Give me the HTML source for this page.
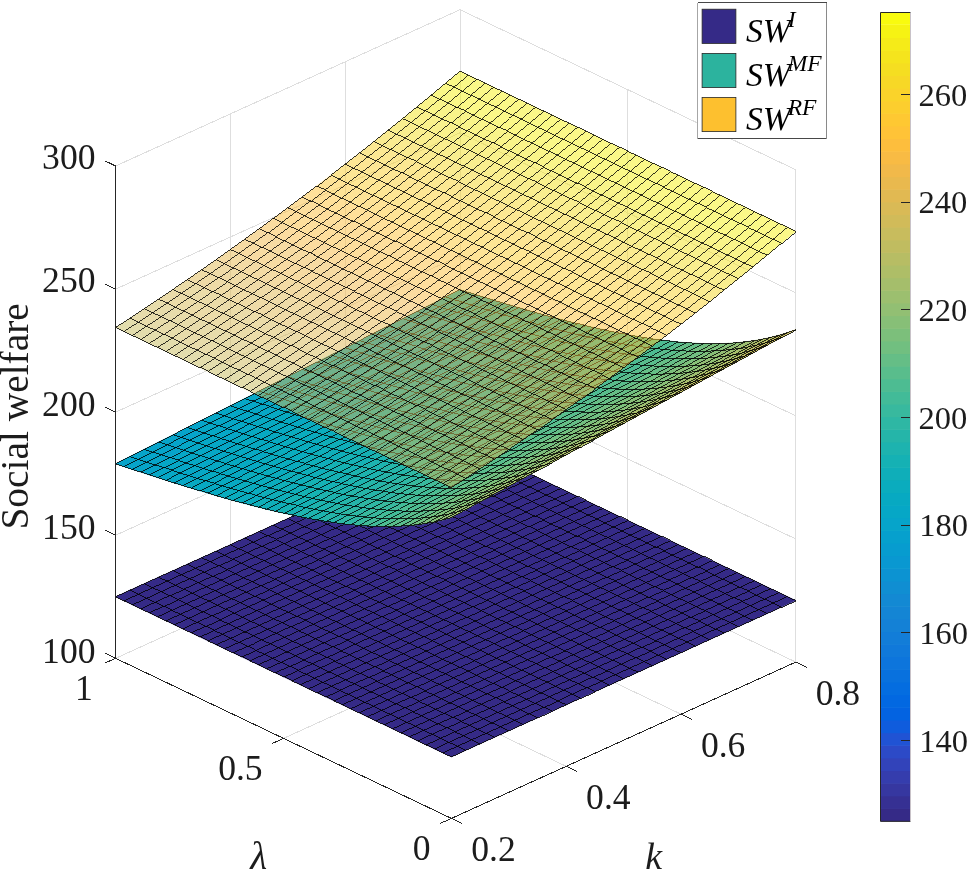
<!DOCTYPE html>
<html><head><meta charset="utf-8"><title>Social welfare surface plot</title><style>html,body{margin:0;padding:0;background:#fff;width:968px;height:870px;overflow:hidden}svg{display:block}</style></head><body>
<svg width="968" height="870" viewBox="0 0 968 870">
<rect width="968" height="870" fill="#fff"/>
<line x1="283.5" y1="738.4" x2="627.9" y2="582.0" stroke="#dedede" stroke-width="1.00" shape-rendering="crispEdges"/>
<line x1="115.6" y1="658.3" x2="460.0" y2="502.0" stroke="#dedede" stroke-width="1.00" shape-rendering="crispEdges"/>
<line x1="566.2" y1="766.3" x2="230.4" y2="606.2" stroke="#dedede" stroke-width="1.00" shape-rendering="crispEdges"/>
<line x1="681.0" y1="714.2" x2="345.2" y2="554.1" stroke="#dedede" stroke-width="1.00" shape-rendering="crispEdges"/>
<line x1="795.8" y1="662.1" x2="460.0" y2="502.0" stroke="#dedede" stroke-width="1.00" shape-rendering="crispEdges"/>
<line x1="230.4" y1="606.2" x2="230.4" y2="113.9" stroke="#dedede" stroke-width="1.00" shape-rendering="crispEdges"/>
<line x1="345.2" y1="554.1" x2="345.2" y2="61.8" stroke="#dedede" stroke-width="1.00" shape-rendering="crispEdges"/>
<line x1="460.0" y1="502.0" x2="460.0" y2="9.7" stroke="#dedede" stroke-width="1.00" shape-rendering="crispEdges"/>
<line x1="115.6" y1="535.2" x2="460.0" y2="378.9" stroke="#dedede" stroke-width="1.00" shape-rendering="crispEdges"/>
<line x1="115.6" y1="412.1" x2="460.0" y2="255.8" stroke="#dedede" stroke-width="1.00" shape-rendering="crispEdges"/>
<line x1="115.6" y1="289.1" x2="460.0" y2="132.8" stroke="#dedede" stroke-width="1.00" shape-rendering="crispEdges"/>
<line x1="115.6" y1="166.0" x2="460.0" y2="9.7" stroke="#dedede" stroke-width="1.00" shape-rendering="crispEdges"/>
<line x1="795.8" y1="662.1" x2="795.8" y2="169.8" stroke="#dedede" stroke-width="1.00" shape-rendering="crispEdges"/>
<line x1="627.9" y1="582.0" x2="627.9" y2="89.7" stroke="#dedede" stroke-width="1.00" shape-rendering="crispEdges"/>
<line x1="795.8" y1="539.0" x2="460.0" y2="378.9" stroke="#dedede" stroke-width="1.00" shape-rendering="crispEdges"/>
<line x1="795.8" y1="415.9" x2="460.0" y2="255.8" stroke="#dedede" stroke-width="1.00" shape-rendering="crispEdges"/>
<line x1="795.8" y1="292.9" x2="460.0" y2="132.8" stroke="#dedede" stroke-width="1.00" shape-rendering="crispEdges"/>
<line x1="795.8" y1="169.8" x2="460.0" y2="9.7" stroke="#dedede" stroke-width="1.00" shape-rendering="crispEdges"/>
<g>
<path fill="#352a87" stroke="#352a87" stroke-width="0.6" d="M451.4 756.9L443.0 752.9L457.4 746.3L465.8 750.3ZM465.8 750.3L457.4 746.3L471.7 739.8L480.1 743.8ZM480.1 743.8L471.7 739.8L486.1 733.3L494.4 737.3ZM494.4 737.3L486.1 733.3L500.4 726.8L508.8 730.8ZM508.8 730.8L500.4 726.8L514.8 720.3L523.1 724.3ZM523.1 724.3L514.8 720.3L529.1 713.8L537.5 717.8ZM537.5 717.8L529.1 713.8L543.5 707.3L551.9 711.3ZM551.9 711.3L543.5 707.3L557.8 700.8L566.2 704.8ZM566.2 704.8L557.8 700.8L572.2 694.2L580.5 698.2ZM580.5 698.2L572.2 694.2L586.5 687.7L594.9 691.7ZM594.9 691.7L586.5 687.7L600.9 681.2L609.2 685.2ZM609.2 685.2L600.9 681.2L615.2 674.7L623.6 678.7ZM623.6 678.7L615.2 674.7L629.6 668.2L638.0 672.2ZM638.0 672.2L629.6 668.2L643.9 661.7L652.3 665.7ZM652.3 665.7L643.9 661.7L658.3 655.2L666.6 659.2ZM666.6 659.2L658.3 655.2L672.6 648.7L681.0 652.7ZM681.0 652.7L672.6 648.7L687.0 642.1L695.4 646.1ZM695.4 646.1L687.0 642.1L701.3 635.6L709.7 639.6ZM709.7 639.6L701.3 635.6L715.7 629.1L724.0 633.1ZM724.0 633.1L715.7 629.1L730.0 622.6L738.4 626.6ZM738.4 626.6L730.0 622.6L744.4 616.1L752.8 620.1ZM752.8 620.1L744.4 616.1L758.7 609.6L767.1 613.6ZM767.1 613.6L758.7 609.6L773.1 603.1L781.5 607.1ZM781.5 607.1L773.1 603.1L787.4 596.6L795.8 600.6ZM443.0 752.9L434.6 748.9L449.0 742.3L457.4 746.3ZM457.4 746.3L449.0 742.3L463.3 735.8L471.7 739.8ZM471.7 739.8L463.3 735.8L477.7 729.3L486.1 733.3ZM486.1 733.3L477.7 729.3L492.0 722.8L500.4 726.8ZM500.4 726.8L492.0 722.8L506.4 716.3L514.8 720.3ZM514.8 720.3L506.4 716.3L520.7 709.8L529.1 713.8ZM529.1 713.8L520.7 709.8L535.1 703.3L543.5 707.3ZM543.5 707.3L535.1 703.3L549.4 696.8L557.8 700.8ZM557.8 700.8L549.4 696.8L563.8 690.2L572.2 694.2ZM572.2 694.2L563.8 690.2L578.1 683.7L586.5 687.7ZM586.5 687.7L578.1 683.7L592.5 677.2L600.9 681.2ZM600.9 681.2L592.5 677.2L606.8 670.7L615.2 674.7ZM615.2 674.7L606.8 670.7L621.2 664.2L629.6 668.2ZM629.6 668.2L621.2 664.2L635.5 657.7L643.9 661.7ZM643.9 661.7L635.5 657.7L649.9 651.2L658.3 655.2ZM658.3 655.2L649.9 651.2L664.2 644.7L672.6 648.7ZM672.6 648.7L664.2 644.7L678.6 638.1L687.0 642.1ZM687.0 642.1L678.6 638.1L692.9 631.6L701.3 635.6ZM701.3 635.6L692.9 631.6L707.3 625.1L715.7 629.1ZM715.7 629.1L707.3 625.1L721.6 618.6L730.0 622.6ZM730.0 622.6L721.6 618.6L736.0 612.1L744.4 616.1ZM744.4 616.1L736.0 612.1L750.3 605.6L758.7 609.6ZM758.7 609.6L750.3 605.6L764.7 599.1L773.1 603.1ZM773.1 603.1L764.7 599.1L779.0 592.6L787.4 596.6ZM434.6 748.9L426.2 744.9L440.6 738.3L449.0 742.3ZM449.0 742.3L440.6 738.3L454.9 731.8L463.3 735.8ZM463.3 735.8L454.9 731.8L469.3 725.3L477.7 729.3ZM477.7 729.3L469.3 725.3L483.6 718.8L492.0 722.8ZM492.0 722.8L483.6 718.8L498.0 712.3L506.4 716.3ZM506.4 716.3L498.0 712.3L512.3 705.8L520.7 709.8ZM520.7 709.8L512.3 705.8L526.7 699.3L535.1 703.3ZM535.1 703.3L526.7 699.3L541.0 692.8L549.4 696.8ZM549.4 696.8L541.0 692.8L555.4 686.2L563.8 690.2ZM563.8 690.2L555.4 686.2L569.7 679.7L578.1 683.7ZM578.1 683.7L569.7 679.7L584.1 673.2L592.5 677.2ZM592.5 677.2L584.1 673.2L598.4 666.7L606.8 670.7ZM606.8 670.7L598.4 666.7L612.8 660.2L621.2 664.2ZM621.2 664.2L612.8 660.2L627.1 653.7L635.5 657.7ZM635.5 657.7L627.1 653.7L641.5 647.2L649.9 651.2ZM649.9 651.2L641.5 647.2L655.8 640.7L664.2 644.7ZM664.2 644.7L655.8 640.7L670.2 634.1L678.6 638.1ZM678.6 638.1L670.2 634.1L684.5 627.6L692.9 631.6ZM692.9 631.6L684.5 627.6L698.9 621.1L707.3 625.1ZM707.3 625.1L698.9 621.1L713.2 614.6L721.6 618.6ZM721.6 618.6L713.2 614.6L727.6 608.1L736.0 612.1ZM736.0 612.1L727.6 608.1L741.9 601.6L750.3 605.6ZM750.3 605.6L741.9 601.6L756.3 595.1L764.7 599.1ZM764.7 599.1L756.3 595.1L770.6 588.6L779.0 592.6ZM426.2 744.9L417.8 740.9L432.2 734.3L440.6 738.3ZM440.6 738.3L432.2 734.3L446.5 727.8L454.9 731.8ZM454.9 731.8L446.5 727.8L460.9 721.3L469.3 725.3ZM469.3 725.3L460.9 721.3L475.2 714.8L483.6 718.8ZM483.6 718.8L475.2 714.8L489.6 708.3L498.0 712.3ZM498.0 712.3L489.6 708.3L503.9 701.8L512.3 705.8ZM512.3 705.8L503.9 701.8L518.3 695.3L526.7 699.3ZM526.7 699.3L518.3 695.3L532.6 688.8L541.0 692.8ZM541.0 692.8L532.6 688.8L547.0 682.2L555.4 686.2ZM555.4 686.2L547.0 682.2L561.3 675.7L569.7 679.7ZM569.7 679.7L561.3 675.7L575.7 669.2L584.1 673.2ZM584.1 673.2L575.7 669.2L590.0 662.7L598.4 666.7ZM598.4 666.7L590.0 662.7L604.4 656.2L612.8 660.2ZM612.8 660.2L604.4 656.2L618.7 649.7L627.1 653.7ZM627.1 653.7L618.7 649.7L633.1 643.2L641.5 647.2ZM641.5 647.2L633.1 643.2L647.4 636.7L655.8 640.7ZM655.8 640.7L647.4 636.7L661.8 630.1L670.2 634.1ZM670.2 634.1L661.8 630.1L676.1 623.6L684.5 627.6ZM684.5 627.6L676.1 623.6L690.5 617.1L698.9 621.1ZM698.9 621.1L690.5 617.1L704.8 610.6L713.2 614.6ZM713.2 614.6L704.8 610.6L719.2 604.1L727.6 608.1ZM727.6 608.1L719.2 604.1L733.5 597.6L741.9 601.6ZM741.9 601.6L733.5 597.6L747.9 591.1L756.3 595.1ZM756.3 595.1L747.9 591.1L762.2 584.6L770.6 588.6ZM417.8 740.9L409.4 736.8L423.8 730.3L432.2 734.3ZM432.2 734.3L423.8 730.3L438.1 723.8L446.5 727.8ZM446.5 727.8L438.1 723.8L452.5 717.3L460.9 721.3ZM460.9 721.3L452.5 717.3L466.8 710.8L475.2 714.8ZM475.2 714.8L466.8 710.8L481.2 704.3L489.6 708.3ZM489.6 708.3L481.2 704.3L495.5 697.8L503.9 701.8ZM503.9 701.8L495.5 697.8L509.9 691.3L518.3 695.3ZM518.3 695.3L509.9 691.3L524.2 684.7L532.6 688.8ZM532.6 688.8L524.2 684.7L538.6 678.2L547.0 682.2ZM547.0 682.2L538.6 678.2L552.9 671.7L561.3 675.7ZM561.3 675.7L552.9 671.7L567.3 665.2L575.7 669.2ZM575.7 669.2L567.3 665.2L581.6 658.7L590.0 662.7ZM590.0 662.7L581.6 658.7L596.0 652.2L604.4 656.2ZM604.4 656.2L596.0 652.2L610.3 645.7L618.7 649.7ZM618.7 649.7L610.3 645.7L624.7 639.2L633.1 643.2ZM633.1 643.2L624.7 639.2L639.0 632.6L647.4 636.7ZM647.4 636.7L639.0 632.6L653.4 626.1L661.8 630.1ZM661.8 630.1L653.4 626.1L667.7 619.6L676.1 623.6ZM676.1 623.6L667.7 619.6L682.1 613.1L690.5 617.1ZM690.5 617.1L682.1 613.1L696.4 606.6L704.8 610.6ZM704.8 610.6L696.4 606.6L710.8 600.1L719.2 604.1ZM719.2 604.1L710.8 600.1L725.1 593.6L733.5 597.6ZM733.5 597.6L725.1 593.6L739.5 587.1L747.9 591.1ZM747.9 591.1L739.5 587.1L753.8 580.5L762.2 584.6ZM409.4 736.8L401.0 732.8L415.4 726.3L423.8 730.3ZM423.8 730.3L415.4 726.3L429.7 719.8L438.1 723.8ZM438.1 723.8L429.7 719.8L444.1 713.3L452.5 717.3ZM452.5 717.3L444.1 713.3L458.4 706.8L466.8 710.8ZM466.8 710.8L458.4 706.8L472.8 700.3L481.2 704.3ZM481.2 704.3L472.8 700.3L487.1 693.8L495.5 697.8ZM495.5 697.8L487.1 693.8L501.5 687.3L509.9 691.3ZM509.9 691.3L501.5 687.3L515.8 680.7L524.2 684.7ZM524.2 684.7L515.8 680.7L530.2 674.2L538.6 678.2ZM538.6 678.2L530.2 674.2L544.5 667.7L552.9 671.7ZM552.9 671.7L544.5 667.7L558.9 661.2L567.3 665.2ZM567.3 665.2L558.9 661.2L573.2 654.7L581.6 658.7ZM581.6 658.7L573.2 654.7L587.6 648.2L596.0 652.2ZM596.0 652.2L587.6 648.2L601.9 641.7L610.3 645.7ZM610.3 645.7L601.9 641.7L616.3 635.2L624.7 639.2ZM624.7 639.2L616.3 635.2L630.6 628.6L639.0 632.6ZM639.0 632.6L630.6 628.6L645.0 622.1L653.4 626.1ZM653.4 626.1L645.0 622.1L659.3 615.6L667.7 619.6ZM667.7 619.6L659.3 615.6L673.7 609.1L682.1 613.1ZM682.1 613.1L673.7 609.1L688.0 602.6L696.4 606.6ZM696.4 606.6L688.0 602.6L702.4 596.1L710.8 600.1ZM710.8 600.1L702.4 596.1L716.7 589.6L725.1 593.6ZM725.1 593.6L716.7 589.6L731.1 583.1L739.5 587.1ZM739.5 587.1L731.1 583.1L745.4 576.5L753.8 580.5ZM401.0 732.8L392.6 728.8L407.0 722.3L415.4 726.3ZM415.4 726.3L407.0 722.3L421.3 715.8L429.7 719.8ZM429.7 719.8L421.3 715.8L435.7 709.3L444.1 713.3ZM444.1 713.3L435.7 709.3L450.0 702.8L458.4 706.8ZM458.4 706.8L450.0 702.8L464.4 696.3L472.8 700.3ZM472.8 700.3L464.4 696.3L478.7 689.8L487.1 693.8ZM487.1 693.8L478.7 689.8L493.1 683.3L501.5 687.3ZM501.5 687.3L493.1 683.3L507.4 676.7L515.8 680.7ZM515.8 680.7L507.4 676.7L521.8 670.2L530.2 674.2ZM530.2 674.2L521.8 670.2L536.1 663.7L544.5 667.7ZM544.5 667.7L536.1 663.7L550.5 657.2L558.9 661.2ZM558.9 661.2L550.5 657.2L564.8 650.7L573.2 654.7ZM573.2 654.7L564.8 650.7L579.2 644.2L587.6 648.2ZM587.6 648.2L579.2 644.2L593.5 637.7L601.9 641.7ZM601.9 641.7L593.5 637.7L607.9 631.2L616.3 635.2ZM616.3 635.2L607.9 631.2L622.2 624.6L630.6 628.6ZM630.6 628.6L622.2 624.6L636.6 618.1L645.0 622.1ZM645.0 622.1L636.6 618.1L650.9 611.6L659.3 615.6ZM659.3 615.6L650.9 611.6L665.3 605.1L673.7 609.1ZM673.7 609.1L665.3 605.1L679.6 598.6L688.0 602.6ZM688.0 602.6L679.6 598.6L694.0 592.1L702.4 596.1ZM702.4 596.1L694.0 592.1L708.3 585.6L716.7 589.6ZM716.7 589.6L708.3 585.6L722.7 579.1L731.1 583.1ZM731.1 583.1L722.7 579.1L737.0 572.5L745.4 576.5ZM392.6 728.8L384.2 724.8L398.6 718.3L407.0 722.3ZM407.0 722.3L398.6 718.3L412.9 711.8L421.3 715.8ZM421.3 715.8L412.9 711.8L427.3 705.3L435.7 709.3ZM435.7 709.3L427.3 705.3L441.6 698.8L450.0 702.8ZM450.0 702.8L441.6 698.8L456.0 692.3L464.4 696.3ZM464.4 696.3L456.0 692.3L470.3 685.8L478.7 689.8ZM478.7 689.8L470.3 685.8L484.7 679.3L493.1 683.3ZM493.1 683.3L484.7 679.3L499.0 672.7L507.4 676.7ZM507.4 676.7L499.0 672.7L513.4 666.2L521.8 670.2ZM521.8 670.2L513.4 666.2L527.7 659.7L536.1 663.7ZM536.1 663.7L527.7 659.7L542.1 653.2L550.5 657.2ZM550.5 657.2L542.1 653.2L556.4 646.7L564.8 650.7ZM564.8 650.7L556.4 646.7L570.8 640.2L579.2 644.2ZM579.2 644.2L570.8 640.2L585.1 633.7L593.5 637.7ZM593.5 637.7L585.1 633.7L599.5 627.2L607.9 631.2ZM607.9 631.2L599.5 627.2L613.8 620.6L622.2 624.6ZM622.2 624.6L613.8 620.6L628.2 614.1L636.6 618.1ZM636.6 618.1L628.2 614.1L642.5 607.6L650.9 611.6ZM650.9 611.6L642.5 607.6L656.9 601.1L665.3 605.1ZM665.3 605.1L656.9 601.1L671.2 594.6L679.6 598.6ZM679.6 598.6L671.2 594.6L685.6 588.1L694.0 592.1ZM694.0 592.1L685.6 588.1L699.9 581.6L708.3 585.6ZM708.3 585.6L699.9 581.6L714.3 575.1L722.7 579.1ZM722.7 579.1L714.3 575.1L728.6 568.5L737.0 572.5ZM384.2 724.8L375.8 720.8L390.2 714.3L398.6 718.3ZM398.6 718.3L390.2 714.3L404.5 707.8L412.9 711.8ZM412.9 711.8L404.5 707.8L418.9 701.3L427.3 705.3ZM427.3 705.3L418.9 701.3L433.2 694.8L441.6 698.8ZM441.6 698.8L433.2 694.8L447.6 688.3L456.0 692.3ZM456.0 692.3L447.6 688.3L461.9 681.8L470.3 685.8ZM470.3 685.8L461.9 681.8L476.3 675.3L484.7 679.3ZM484.7 679.3L476.3 675.3L490.6 668.7L499.0 672.7ZM499.0 672.7L490.6 668.7L505.0 662.2L513.4 666.2ZM513.4 666.2L505.0 662.2L519.3 655.7L527.7 659.7ZM527.7 659.7L519.3 655.7L533.7 649.2L542.1 653.2ZM542.1 653.2L533.7 649.2L548.0 642.7L556.4 646.7ZM556.4 646.7L548.0 642.7L562.4 636.2L570.8 640.2ZM570.8 640.2L562.4 636.2L576.7 629.7L585.1 633.7ZM585.1 633.7L576.7 629.7L591.1 623.2L599.5 627.2ZM599.5 627.2L591.1 623.2L605.4 616.6L613.8 620.6ZM613.8 620.6L605.4 616.6L619.8 610.1L628.2 614.1ZM628.2 614.1L619.8 610.1L634.1 603.6L642.5 607.6ZM642.5 607.6L634.1 603.6L648.5 597.1L656.9 601.1ZM656.9 601.1L648.5 597.1L662.8 590.6L671.2 594.6ZM671.2 594.6L662.8 590.6L677.2 584.1L685.6 588.1ZM685.6 588.1L677.2 584.1L691.5 577.6L699.9 581.6ZM699.9 581.6L691.5 577.6L705.9 571.1L714.3 575.1ZM714.3 575.1L705.9 571.1L720.2 564.5L728.6 568.5ZM375.8 720.8L367.4 716.8L381.8 710.3L390.2 714.3ZM390.2 714.3L381.8 710.3L396.1 703.8L404.5 707.8ZM404.5 707.8L396.1 703.8L410.5 697.3L418.9 701.3ZM418.9 701.3L410.5 697.3L424.9 690.8L433.2 694.8ZM433.2 694.8L424.9 690.8L439.2 684.3L447.6 688.3ZM447.6 688.3L439.2 684.3L453.6 677.8L461.9 681.8ZM461.9 681.8L453.6 677.8L467.9 671.2L476.3 675.3ZM476.3 675.3L467.9 671.2L482.3 664.7L490.6 668.7ZM490.6 668.7L482.3 664.7L496.6 658.2L505.0 662.2ZM505.0 662.2L496.6 658.2L510.9 651.7L519.3 655.7ZM519.3 655.7L510.9 651.7L525.3 645.2L533.7 649.2ZM533.7 649.2L525.3 645.2L539.6 638.7L548.0 642.7ZM548.0 642.7L539.6 638.7L554.0 632.2L562.4 636.2ZM562.4 636.2L554.0 632.2L568.3 625.7L576.7 629.7ZM576.7 629.7L568.3 625.7L582.7 619.1L591.1 623.2ZM591.1 623.2L582.7 619.1L597.0 612.6L605.4 616.6ZM605.4 616.6L597.0 612.6L611.4 606.1L619.8 610.1ZM619.8 610.1L611.4 606.1L625.8 599.6L634.1 603.6ZM634.1 603.6L625.8 599.6L640.1 593.1L648.5 597.1ZM648.5 597.1L640.1 593.1L654.5 586.6L662.8 590.6ZM662.8 590.6L654.5 586.6L668.8 580.1L677.2 584.1ZM677.2 584.1L668.8 580.1L683.2 573.6L691.5 577.6ZM691.5 577.6L683.2 573.6L697.5 567.0L705.9 571.1ZM705.9 571.1L697.5 567.0L711.8 560.5L720.2 564.5ZM367.4 716.8L359.1 712.8L373.4 706.3L381.8 710.3ZM381.8 710.3L373.4 706.3L387.8 699.8L396.1 703.8ZM396.1 703.8L387.8 699.8L402.1 693.3L410.5 697.3ZM410.5 697.3L402.1 693.3L416.5 686.8L424.9 690.8ZM424.9 690.8L416.5 686.8L430.8 680.3L439.2 684.3ZM439.2 684.3L430.8 680.3L445.2 673.8L453.6 677.8ZM453.6 677.8L445.2 673.8L459.5 667.2L467.9 671.2ZM467.9 671.2L459.5 667.2L473.9 660.7L482.3 664.7ZM482.3 664.7L473.9 660.7L488.2 654.2L496.6 658.2ZM496.6 658.2L488.2 654.2L502.6 647.7L510.9 651.7ZM510.9 651.7L502.6 647.7L516.9 641.2L525.3 645.2ZM525.3 645.2L516.9 641.2L531.3 634.7L539.6 638.7ZM539.6 638.7L531.3 634.7L545.6 628.2L554.0 632.2ZM554.0 632.2L545.6 628.2L560.0 621.7L568.3 625.7ZM568.3 625.7L560.0 621.7L574.3 615.1L582.7 619.1ZM582.7 619.1L574.3 615.1L588.7 608.6L597.0 612.6ZM597.0 612.6L588.7 608.6L603.0 602.1L611.4 606.1ZM611.4 606.1L603.0 602.1L617.4 595.6L625.8 599.6ZM625.8 599.6L617.4 595.6L631.7 589.1L640.1 593.1ZM640.1 593.1L631.7 589.1L646.1 582.6L654.5 586.6ZM654.5 586.6L646.1 582.6L660.4 576.1L668.8 580.1ZM668.8 580.1L660.4 576.1L674.8 569.6L683.2 573.6ZM683.2 573.6L674.8 569.6L689.1 563.0L697.5 567.0ZM697.5 567.0L689.1 563.0L703.5 556.5L711.8 560.5ZM359.1 712.8L350.7 708.8L365.0 702.3L373.4 706.3ZM373.4 706.3L365.0 702.3L379.4 695.8L387.8 699.8ZM387.8 699.8L379.4 695.8L393.7 689.3L402.1 693.3ZM402.1 693.3L393.7 689.3L408.1 682.8L416.5 686.8ZM416.5 686.8L408.1 682.8L422.4 676.3L430.8 680.3ZM430.8 680.3L422.4 676.3L436.8 669.8L445.2 673.8ZM445.2 673.8L436.8 669.8L451.1 663.2L459.5 667.2ZM459.5 667.2L451.1 663.2L465.5 656.7L473.9 660.7ZM473.9 660.7L465.5 656.7L479.8 650.2L488.2 654.2ZM488.2 654.2L479.8 650.2L494.2 643.7L502.6 647.7ZM502.6 647.7L494.2 643.7L508.5 637.2L516.9 641.2ZM516.9 641.2L508.5 637.2L522.9 630.7L531.3 634.7ZM531.3 634.7L522.9 630.7L537.2 624.2L545.6 628.2ZM545.6 628.2L537.2 624.2L551.6 617.7L560.0 621.7ZM560.0 621.7L551.6 617.7L565.9 611.1L574.3 615.1ZM574.3 615.1L565.9 611.1L580.3 604.6L588.7 608.6ZM588.7 608.6L580.3 604.6L594.6 598.1L603.0 602.1ZM603.0 602.1L594.6 598.1L609.0 591.6L617.4 595.6ZM617.4 595.6L609.0 591.6L623.3 585.1L631.7 589.1ZM631.7 589.1L623.3 585.1L637.7 578.6L646.1 582.6ZM646.1 582.6L637.7 578.6L652.0 572.1L660.4 576.1ZM660.4 576.1L652.0 572.1L666.4 565.6L674.8 569.6ZM674.8 569.6L666.4 565.6L680.7 559.0L689.1 563.0ZM689.1 563.0L680.7 559.0L695.1 552.5L703.5 556.5ZM350.7 708.8L342.3 704.8L356.6 698.3L365.0 702.3ZM365.0 702.3L356.6 698.3L371.0 691.8L379.4 695.8ZM379.4 695.8L371.0 691.8L385.3 685.3L393.7 689.3ZM393.7 689.3L385.3 685.3L399.7 678.8L408.1 682.8ZM408.1 682.8L399.7 678.8L414.0 672.3L422.4 676.3ZM422.4 676.3L414.0 672.3L428.4 665.8L436.8 669.8ZM436.8 669.8L428.4 665.8L442.7 659.2L451.1 663.2ZM451.1 663.2L442.7 659.2L457.1 652.7L465.5 656.7ZM465.5 656.7L457.1 652.7L471.4 646.2L479.8 650.2ZM479.8 650.2L471.4 646.2L485.8 639.7L494.2 643.7ZM494.2 643.7L485.8 639.7L500.1 633.2L508.5 637.2ZM508.5 637.2L500.1 633.2L514.5 626.7L522.9 630.7ZM522.9 630.7L514.5 626.7L528.8 620.2L537.2 624.2ZM537.2 624.2L528.8 620.2L543.2 613.7L551.6 617.7ZM551.6 617.7L543.2 613.7L557.5 607.1L565.9 611.1ZM565.9 611.1L557.5 607.1L571.9 600.6L580.3 604.6ZM580.3 604.6L571.9 600.6L586.2 594.1L594.6 598.1ZM594.6 598.1L586.2 594.1L600.6 587.6L609.0 591.6ZM609.0 591.6L600.6 587.6L614.9 581.1L623.3 585.1ZM623.3 585.1L614.9 581.1L629.3 574.6L637.7 578.6ZM637.7 578.6L629.3 574.6L643.6 568.1L652.0 572.1ZM652.0 572.1L643.6 568.1L658.0 561.6L666.4 565.6ZM666.4 565.6L658.0 561.6L672.3 555.0L680.7 559.0ZM680.7 559.0L672.3 555.0L686.7 548.5L695.1 552.5ZM342.3 704.8L333.9 700.8L348.2 694.3L356.6 698.3ZM356.6 698.3L348.2 694.3L362.6 687.8L371.0 691.8ZM371.0 691.8L362.6 687.8L376.9 681.3L385.3 685.3ZM385.3 685.3L376.9 681.3L391.3 674.8L399.7 678.8ZM399.7 678.8L391.3 674.8L405.6 668.3L414.0 672.3ZM414.0 672.3L405.6 668.3L420.0 661.8L428.4 665.8ZM428.4 665.8L420.0 661.8L434.3 655.2L442.7 659.2ZM442.7 659.2L434.3 655.2L448.7 648.7L457.1 652.7ZM457.1 652.7L448.7 648.7L463.0 642.2L471.4 646.2ZM471.4 646.2L463.0 642.2L477.4 635.7L485.8 639.7ZM485.8 639.7L477.4 635.7L491.7 629.2L500.1 633.2ZM500.1 633.2L491.7 629.2L506.1 622.7L514.5 626.7ZM514.5 626.7L506.1 622.7L520.4 616.2L528.8 620.2ZM528.8 620.2L520.4 616.2L534.8 609.7L543.2 613.7ZM543.2 613.7L534.8 609.7L549.1 603.1L557.5 607.1ZM557.5 607.1L549.1 603.1L563.5 596.6L571.9 600.6ZM571.9 600.6L563.5 596.6L577.8 590.1L586.2 594.1ZM586.2 594.1L577.8 590.1L592.2 583.6L600.6 587.6ZM600.6 587.6L592.2 583.6L606.5 577.1L614.9 581.1ZM614.9 581.1L606.5 577.1L620.9 570.6L629.3 574.6ZM629.3 574.6L620.9 570.6L635.2 564.1L643.6 568.1ZM643.6 568.1L635.2 564.1L649.6 557.6L658.0 561.6ZM658.0 561.6L649.6 557.6L663.9 551.0L672.3 555.0ZM672.3 555.0L663.9 551.0L678.3 544.5L686.7 548.5ZM333.9 700.8L325.5 696.8L339.8 690.3L348.2 694.3ZM348.2 694.3L339.8 690.3L354.2 683.8L362.6 687.8ZM362.6 687.8L354.2 683.8L368.5 677.3L376.9 681.3ZM376.9 681.3L368.5 677.3L382.9 670.8L391.3 674.8ZM391.3 674.8L382.9 670.8L397.2 664.3L405.6 668.3ZM405.6 668.3L397.2 664.3L411.6 657.7L420.0 661.8ZM420.0 661.8L411.6 657.7L425.9 651.2L434.3 655.2ZM434.3 655.2L425.9 651.2L440.3 644.7L448.7 648.7ZM448.7 648.7L440.3 644.7L454.6 638.2L463.0 642.2ZM463.0 642.2L454.6 638.2L469.0 631.7L477.4 635.7ZM477.4 635.7L469.0 631.7L483.3 625.2L491.7 629.2ZM491.7 629.2L483.3 625.2L497.7 618.7L506.1 622.7ZM506.1 622.7L497.7 618.7L512.0 612.2L520.4 616.2ZM520.4 616.2L512.0 612.2L526.4 605.6L534.8 609.7ZM534.8 609.7L526.4 605.6L540.7 599.1L549.1 603.1ZM549.1 603.1L540.7 599.1L555.1 592.6L563.5 596.6ZM563.5 596.6L555.1 592.6L569.4 586.1L577.8 590.1ZM577.8 590.1L569.4 586.1L583.8 579.6L592.2 583.6ZM592.2 583.6L583.8 579.6L598.1 573.1L606.5 577.1ZM606.5 577.1L598.1 573.1L612.5 566.6L620.9 570.6ZM620.9 570.6L612.5 566.6L626.8 560.1L635.2 564.1ZM635.2 564.1L626.8 560.1L641.2 553.5L649.6 557.6ZM649.6 557.6L641.2 553.5L655.5 547.0L663.9 551.0ZM663.9 551.0L655.5 547.0L669.9 540.5L678.3 544.5ZM325.5 696.8L317.1 692.8L331.4 686.3L339.8 690.3ZM339.8 690.3L331.4 686.3L345.8 679.8L354.2 683.8ZM354.2 683.8L345.8 679.8L360.1 673.3L368.5 677.3ZM368.5 677.3L360.1 673.3L374.5 666.8L382.9 670.8ZM382.9 670.8L374.5 666.8L388.8 660.3L397.2 664.3ZM397.2 664.3L388.8 660.3L403.2 653.7L411.6 657.7ZM411.6 657.7L403.2 653.7L417.5 647.2L425.9 651.2ZM425.9 651.2L417.5 647.2L431.9 640.7L440.3 644.7ZM440.3 644.7L431.9 640.7L446.2 634.2L454.6 638.2ZM454.6 638.2L446.2 634.2L460.6 627.7L469.0 631.7ZM469.0 631.7L460.6 627.7L474.9 621.2L483.3 625.2ZM483.3 625.2L474.9 621.2L489.3 614.7L497.7 618.7ZM497.7 618.7L489.3 614.7L503.6 608.2L512.0 612.2ZM512.0 612.2L503.6 608.2L518.0 601.6L526.4 605.6ZM526.4 605.6L518.0 601.6L532.3 595.1L540.7 599.1ZM540.7 599.1L532.3 595.1L546.7 588.6L555.1 592.6ZM555.1 592.6L546.7 588.6L561.0 582.1L569.4 586.1ZM569.4 586.1L561.0 582.1L575.4 575.6L583.8 579.6ZM583.8 579.6L575.4 575.6L589.7 569.1L598.1 573.1ZM598.1 573.1L589.7 569.1L604.1 562.6L612.5 566.6ZM612.5 566.6L604.1 562.6L618.4 556.1L626.8 560.1ZM626.8 560.1L618.4 556.1L632.8 549.5L641.2 553.5ZM641.2 553.5L632.8 549.5L647.1 543.0L655.5 547.0ZM655.5 547.0L647.1 543.0L661.5 536.5L669.9 540.5ZM317.1 692.8L308.7 688.8L323.0 682.3L331.4 686.3ZM331.4 686.3L323.0 682.3L337.4 675.8L345.8 679.8ZM345.8 679.8L337.4 675.8L351.7 669.3L360.1 673.3ZM360.1 673.3L351.7 669.3L366.1 662.8L374.5 666.8ZM374.5 666.8L366.1 662.8L380.4 656.3L388.8 660.3ZM388.8 660.3L380.4 656.3L394.8 649.7L403.2 653.7ZM403.2 653.7L394.8 649.7L409.1 643.2L417.5 647.2ZM417.5 647.2L409.1 643.2L423.5 636.7L431.9 640.7ZM431.9 640.7L423.5 636.7L437.8 630.2L446.2 634.2ZM446.2 634.2L437.8 630.2L452.2 623.7L460.6 627.7ZM460.6 627.7L452.2 623.7L466.5 617.2L474.9 621.2ZM474.9 621.2L466.5 617.2L480.9 610.7L489.3 614.7ZM489.3 614.7L480.9 610.7L495.2 604.2L503.6 608.2ZM503.6 608.2L495.2 604.2L509.6 597.6L518.0 601.6ZM518.0 601.6L509.6 597.6L523.9 591.1L532.3 595.1ZM532.3 595.1L523.9 591.1L538.3 584.6L546.7 588.6ZM546.7 588.6L538.3 584.6L552.6 578.1L561.0 582.1ZM561.0 582.1L552.6 578.1L567.0 571.6L575.4 575.6ZM575.4 575.6L567.0 571.6L581.3 565.1L589.7 569.1ZM589.7 569.1L581.3 565.1L595.7 558.6L604.1 562.6ZM604.1 562.6L595.7 558.6L610.0 552.1L618.4 556.1ZM618.4 556.1L610.0 552.1L624.4 545.5L632.8 549.5ZM632.8 549.5L624.4 545.5L638.7 539.0L647.1 543.0ZM647.1 543.0L638.7 539.0L653.1 532.5L661.5 536.5ZM308.7 688.8L300.3 684.8L314.6 678.3L323.0 682.3ZM323.0 682.3L314.6 678.3L329.0 671.8L337.4 675.8ZM337.4 675.8L329.0 671.8L343.3 665.3L351.7 669.3ZM351.7 669.3L343.3 665.3L357.7 658.8L366.1 662.8ZM366.1 662.8L357.7 658.8L372.0 652.3L380.4 656.3ZM380.4 656.3L372.0 652.3L386.4 645.7L394.8 649.7ZM394.8 649.7L386.4 645.7L400.7 639.2L409.1 643.2ZM409.1 643.2L400.7 639.2L415.1 632.7L423.5 636.7ZM423.5 636.7L415.1 632.7L429.4 626.2L437.8 630.2ZM437.8 630.2L429.4 626.2L443.8 619.7L452.2 623.7ZM452.2 623.7L443.8 619.7L458.1 613.2L466.5 617.2ZM466.5 617.2L458.1 613.2L472.5 606.7L480.9 610.7ZM480.9 610.7L472.5 606.7L486.8 600.2L495.2 604.2ZM495.2 604.2L486.8 600.2L501.2 593.6L509.6 597.6ZM509.6 597.6L501.2 593.6L515.5 587.1L523.9 591.1ZM523.9 591.1L515.5 587.1L529.9 580.6L538.3 584.6ZM538.3 584.6L529.9 580.6L544.2 574.1L552.6 578.1ZM552.6 578.1L544.2 574.1L558.6 567.6L567.0 571.6ZM567.0 571.6L558.6 567.6L572.9 561.1L581.3 565.1ZM581.3 565.1L572.9 561.1L587.3 554.6L595.7 558.6ZM595.7 558.6L587.3 554.6L601.6 548.1L610.0 552.1ZM610.0 552.1L601.6 548.1L616.0 541.5L624.4 545.5ZM624.4 545.5L616.0 541.5L630.3 535.0L638.7 539.0ZM638.7 539.0L630.3 535.0L644.7 528.5L653.1 532.5ZM300.3 684.8L291.9 680.8L306.2 674.3L314.6 678.3ZM314.6 678.3L306.2 674.3L320.6 667.8L329.0 671.8ZM329.0 671.8L320.6 667.8L334.9 661.3L343.3 665.3ZM343.3 665.3L334.9 661.3L349.3 654.8L357.7 658.8ZM357.7 658.8L349.3 654.8L363.6 648.3L372.0 652.3ZM372.0 652.3L363.6 648.3L378.0 641.7L386.4 645.7ZM386.4 645.7L378.0 641.7L392.3 635.2L400.7 639.2ZM400.7 639.2L392.3 635.2L406.7 628.7L415.1 632.7ZM415.1 632.7L406.7 628.7L421.0 622.2L429.4 626.2ZM429.4 626.2L421.0 622.2L435.4 615.7L443.8 619.7ZM443.8 619.7L435.4 615.7L449.7 609.2L458.1 613.2ZM458.1 613.2L449.7 609.2L464.1 602.7L472.5 606.7ZM472.5 606.7L464.1 602.7L478.4 596.2L486.8 600.2ZM486.8 600.2L478.4 596.2L492.8 589.6L501.2 593.6ZM501.2 593.6L492.8 589.6L507.1 583.1L515.5 587.1ZM515.5 587.1L507.1 583.1L521.5 576.6L529.9 580.6ZM529.9 580.6L521.5 576.6L535.8 570.1L544.2 574.1ZM544.2 574.1L535.8 570.1L550.2 563.6L558.6 567.6ZM558.6 567.6L550.2 563.6L564.5 557.1L572.9 561.1ZM572.9 561.1L564.5 557.1L578.9 550.6L587.3 554.6ZM587.3 554.6L578.9 550.6L593.2 544.1L601.6 548.1ZM601.6 548.1L593.2 544.1L607.6 537.5L616.0 541.5ZM616.0 541.5L607.6 537.5L621.9 531.0L630.3 535.0ZM630.3 535.0L621.9 531.0L636.3 524.5L644.7 528.5ZM291.9 680.8L283.5 676.8L297.9 670.3L306.2 674.3ZM306.2 674.3L297.9 670.3L312.2 663.8L320.6 667.8ZM320.6 667.8L312.2 663.8L326.5 657.3L334.9 661.3ZM334.9 661.3L326.5 657.3L340.9 650.8L349.3 654.8ZM349.3 654.8L340.9 650.8L355.2 644.2L363.6 648.3ZM363.6 648.3L355.2 644.2L369.6 637.7L378.0 641.7ZM378.0 641.7L369.6 637.7L384.0 631.2L392.3 635.2ZM392.3 635.2L384.0 631.2L398.3 624.7L406.7 628.7ZM406.7 628.7L398.3 624.7L412.6 618.2L421.0 622.2ZM421.0 622.2L412.6 618.2L427.0 611.7L435.4 615.7ZM435.4 615.7L427.0 611.7L441.4 605.2L449.7 609.2ZM449.7 609.2L441.4 605.2L455.7 598.7L464.1 602.7ZM464.1 602.7L455.7 598.7L470.1 592.1L478.4 596.2ZM478.4 596.2L470.1 592.1L484.4 585.6L492.8 589.6ZM492.8 589.6L484.4 585.6L498.8 579.1L507.1 583.1ZM507.1 583.1L498.8 579.1L513.1 572.6L521.5 576.6ZM521.5 576.6L513.1 572.6L527.5 566.1L535.8 570.1ZM535.8 570.1L527.5 566.1L541.8 559.6L550.2 563.6ZM550.2 563.6L541.8 559.6L556.1 553.1L564.5 557.1ZM564.5 557.1L556.1 553.1L570.5 546.6L578.9 550.6ZM578.9 550.6L570.5 546.6L584.9 540.0L593.2 544.1ZM593.2 544.1L584.9 540.0L599.2 533.5L607.6 537.5ZM607.6 537.5L599.2 533.5L613.6 527.0L621.9 531.0ZM621.9 531.0L613.6 527.0L627.9 520.5L636.3 524.5ZM283.5 676.8L275.1 672.8L289.5 666.3L297.9 670.3ZM297.9 670.3L289.5 666.3L303.8 659.8L312.2 663.8ZM312.2 663.8L303.8 659.8L318.2 653.3L326.5 657.3ZM326.5 657.3L318.2 653.3L332.5 646.8L340.9 650.8ZM340.9 650.8L332.5 646.8L346.9 640.2L355.2 644.2ZM355.2 644.2L346.9 640.2L361.2 633.7L369.6 637.7ZM369.6 637.7L361.2 633.7L375.6 627.2L384.0 631.2ZM384.0 631.2L375.6 627.2L389.9 620.7L398.3 624.7ZM398.3 624.7L389.9 620.7L404.3 614.2L412.6 618.2ZM412.6 618.2L404.3 614.2L418.6 607.7L427.0 611.7ZM427.0 611.7L418.6 607.7L433.0 601.2L441.4 605.2ZM441.4 605.2L433.0 601.2L447.3 594.7L455.7 598.7ZM455.7 598.7L447.3 594.7L461.7 588.1L470.1 592.1ZM470.1 592.1L461.7 588.1L476.0 581.6L484.4 585.6ZM484.4 585.6L476.0 581.6L490.4 575.1L498.8 579.1ZM498.8 579.1L490.4 575.1L504.7 568.6L513.1 572.6ZM513.1 572.6L504.7 568.6L519.1 562.1L527.5 566.1ZM527.5 566.1L519.1 562.1L533.4 555.6L541.8 559.6ZM541.8 559.6L533.4 555.6L547.8 549.1L556.1 553.1ZM556.1 553.1L547.8 549.1L562.1 542.6L570.5 546.6ZM570.5 546.6L562.1 542.6L576.5 536.0L584.9 540.0ZM584.9 540.0L576.5 536.0L590.8 529.5L599.2 533.5ZM599.2 533.5L590.8 529.5L605.2 523.0L613.6 527.0ZM613.6 527.0L605.2 523.0L619.5 516.5L627.9 520.5ZM275.1 672.8L266.7 668.8L281.1 662.3L289.5 666.3ZM289.5 666.3L281.1 662.3L295.4 655.8L303.8 659.8ZM303.8 659.8L295.4 655.8L309.8 649.3L318.2 653.3ZM318.2 653.3L309.8 649.3L324.1 642.8L332.5 646.8ZM332.5 646.8L324.1 642.8L338.5 636.2L346.9 640.2ZM346.9 640.2L338.5 636.2L352.8 629.7L361.2 633.7ZM361.2 633.7L352.8 629.7L367.2 623.2L375.6 627.2ZM375.6 627.2L367.2 623.2L381.5 616.7L389.9 620.7ZM389.9 620.7L381.5 616.7L395.9 610.2L404.3 614.2ZM404.3 614.2L395.9 610.2L410.2 603.7L418.6 607.7ZM418.6 607.7L410.2 603.7L424.6 597.2L433.0 601.2ZM433.0 601.2L424.6 597.2L438.9 590.7L447.3 594.7ZM447.3 594.7L438.9 590.7L453.3 584.1L461.7 588.1ZM461.7 588.1L453.3 584.1L467.6 577.6L476.0 581.6ZM476.0 581.6L467.6 577.6L482.0 571.1L490.4 575.1ZM490.4 575.1L482.0 571.1L496.3 564.6L504.7 568.6ZM504.7 568.6L496.3 564.6L510.7 558.1L519.1 562.1ZM519.1 562.1L510.7 558.1L525.0 551.6L533.4 555.6ZM533.4 555.6L525.0 551.6L539.4 545.1L547.8 549.1ZM547.8 549.1L539.4 545.1L553.7 538.6L562.1 542.6ZM562.1 542.6L553.7 538.6L568.1 532.0L576.5 536.0ZM576.5 536.0L568.1 532.0L582.4 525.5L590.8 529.5ZM590.8 529.5L582.4 525.5L596.8 519.0L605.2 523.0ZM605.2 523.0L596.8 519.0L611.1 512.5L619.5 516.5ZM266.7 668.8L258.3 664.8L272.7 658.3L281.1 662.3ZM281.1 662.3L272.7 658.3L287.0 651.8L295.4 655.8ZM295.4 655.8L287.0 651.8L301.4 645.3L309.8 649.3ZM309.8 649.3L301.4 645.3L315.7 638.8L324.1 642.8ZM324.1 642.8L315.7 638.8L330.1 632.2L338.5 636.2ZM338.5 636.2L330.1 632.2L344.4 625.7L352.8 629.7ZM352.8 629.7L344.4 625.7L358.8 619.2L367.2 623.2ZM367.2 623.2L358.8 619.2L373.1 612.7L381.5 616.7ZM381.5 616.7L373.1 612.7L387.5 606.2L395.9 610.2ZM395.9 610.2L387.5 606.2L401.8 599.7L410.2 603.7ZM410.2 603.7L401.8 599.7L416.2 593.2L424.6 597.2ZM424.6 597.2L416.2 593.2L430.5 586.7L438.9 590.7ZM438.9 590.7L430.5 586.7L444.9 580.1L453.3 584.1ZM453.3 584.1L444.9 580.1L459.2 573.6L467.6 577.6ZM467.6 577.6L459.2 573.6L473.6 567.1L482.0 571.1ZM482.0 571.1L473.6 567.1L487.9 560.6L496.3 564.6ZM496.3 564.6L487.9 560.6L502.3 554.1L510.7 558.1ZM510.7 558.1L502.3 554.1L516.6 547.6L525.0 551.6ZM525.0 551.6L516.6 547.6L531.0 541.1L539.4 545.1ZM539.4 545.1L531.0 541.1L545.3 534.6L553.7 538.6ZM553.7 538.6L545.3 534.6L559.7 528.0L568.1 532.0ZM568.1 532.0L559.7 528.0L574.0 521.5L582.4 525.5ZM582.4 525.5L574.0 521.5L588.4 515.0L596.8 519.0ZM596.8 519.0L588.4 515.0L602.7 508.5L611.1 512.5ZM258.3 664.8L249.9 660.8L264.3 654.3L272.7 658.3ZM272.7 658.3L264.3 654.3L278.6 647.8L287.0 651.8ZM287.0 651.8L278.6 647.8L293.0 641.3L301.4 645.3ZM301.4 645.3L293.0 641.3L307.3 634.8L315.7 638.8ZM315.7 638.8L307.3 634.8L321.7 628.2L330.1 632.2ZM330.1 632.2L321.7 628.2L336.0 621.7L344.4 625.7ZM344.4 625.7L336.0 621.7L350.4 615.2L358.8 619.2ZM358.8 619.2L350.4 615.2L364.7 608.7L373.1 612.7ZM373.1 612.7L364.7 608.7L379.1 602.2L387.5 606.2ZM387.5 606.2L379.1 602.2L393.4 595.7L401.8 599.7ZM401.8 599.7L393.4 595.7L407.8 589.2L416.2 593.2ZM416.2 593.2L407.8 589.2L422.1 582.7L430.5 586.7ZM430.5 586.7L422.1 582.7L436.5 576.1L444.9 580.1ZM444.9 580.1L436.5 576.1L450.8 569.6L459.2 573.6ZM459.2 573.6L450.8 569.6L465.2 563.1L473.6 567.1ZM473.6 567.1L465.2 563.1L479.5 556.6L487.9 560.6ZM487.9 560.6L479.5 556.6L493.9 550.1L502.3 554.1ZM502.3 554.1L493.9 550.1L508.2 543.6L516.6 547.6ZM516.6 547.6L508.2 543.6L522.6 537.1L531.0 541.1ZM531.0 541.1L522.6 537.1L536.9 530.6L545.3 534.6ZM545.3 534.6L536.9 530.6L551.3 524.0L559.7 528.0ZM559.7 528.0L551.3 524.0L565.6 517.5L574.0 521.5ZM574.0 521.5L565.6 517.5L580.0 511.0L588.4 515.0ZM588.4 515.0L580.0 511.0L594.3 504.5L602.7 508.5ZM249.9 660.8L241.5 656.8L255.9 650.3L264.3 654.3ZM264.3 654.3L255.9 650.3L270.2 643.8L278.6 647.8ZM278.6 647.8L270.2 643.8L284.6 637.3L293.0 641.3ZM293.0 641.3L284.6 637.3L298.9 630.8L307.3 634.8ZM307.3 634.8L298.9 630.8L313.3 624.2L321.7 628.2ZM321.7 628.2L313.3 624.2L327.6 617.7L336.0 621.7ZM336.0 621.7L327.6 617.7L342.0 611.2L350.4 615.2ZM350.4 615.2L342.0 611.2L356.3 604.7L364.7 608.7ZM364.7 608.7L356.3 604.7L370.7 598.2L379.1 602.2ZM379.1 602.2L370.7 598.2L385.0 591.7L393.4 595.7ZM393.4 595.7L385.0 591.7L399.4 585.2L407.8 589.2ZM407.8 589.2L399.4 585.2L413.7 578.6L422.1 582.7ZM422.1 582.7L413.7 578.6L428.1 572.1L436.5 576.1ZM436.5 576.1L428.1 572.1L442.4 565.6L450.8 569.6ZM450.8 569.6L442.4 565.6L456.8 559.1L465.2 563.1ZM465.2 563.1L456.8 559.1L471.1 552.6L479.5 556.6ZM479.5 556.6L471.1 552.6L485.5 546.1L493.9 550.1ZM493.9 550.1L485.5 546.1L499.8 539.6L508.2 543.6ZM508.2 543.6L499.8 539.6L514.2 533.1L522.6 537.1ZM522.6 537.1L514.2 533.1L528.5 526.5L536.9 530.6ZM536.9 530.6L528.5 526.5L542.9 520.0L551.3 524.0ZM551.3 524.0L542.9 520.0L557.2 513.5L565.6 517.5ZM565.6 517.5L557.2 513.5L571.6 507.0L580.0 511.0ZM580.0 511.0L571.6 507.0L585.9 500.5L594.3 504.5ZM241.5 656.8L233.1 652.8L247.5 646.3L255.9 650.3ZM255.9 650.3L247.5 646.3L261.8 639.8L270.2 643.8ZM270.2 643.8L261.8 639.8L276.2 633.3L284.6 637.3ZM284.6 637.3L276.2 633.3L290.5 626.7L298.9 630.8ZM298.9 630.8L290.5 626.7L304.9 620.2L313.3 624.2ZM313.3 624.2L304.9 620.2L319.2 613.7L327.6 617.7ZM327.6 617.7L319.2 613.7L333.6 607.2L342.0 611.2ZM342.0 611.2L333.6 607.2L347.9 600.7L356.3 604.7ZM356.3 604.7L347.9 600.7L362.3 594.2L370.7 598.2ZM370.7 598.2L362.3 594.2L376.6 587.7L385.0 591.7ZM385.0 591.7L376.6 587.7L391.0 581.2L399.4 585.2ZM399.4 585.2L391.0 581.2L405.3 574.6L413.7 578.6ZM413.7 578.6L405.3 574.6L419.7 568.1L428.1 572.1ZM428.1 572.1L419.7 568.1L434.0 561.6L442.4 565.6ZM442.4 565.6L434.0 561.6L448.4 555.1L456.8 559.1ZM456.8 559.1L448.4 555.1L462.7 548.6L471.1 552.6ZM471.1 552.6L462.7 548.6L477.1 542.1L485.5 546.1ZM485.5 546.1L477.1 542.1L491.4 535.6L499.8 539.6ZM499.8 539.6L491.4 535.6L505.8 529.1L514.2 533.1ZM514.2 533.1L505.8 529.1L520.1 522.5L528.5 526.5ZM528.5 526.5L520.1 522.5L534.5 516.0L542.9 520.0ZM542.9 520.0L534.5 516.0L548.8 509.5L557.2 513.5ZM557.2 513.5L548.8 509.5L563.2 503.0L571.6 507.0ZM571.6 507.0L563.2 503.0L577.5 496.5L585.9 500.5ZM233.1 652.8L224.7 648.8L239.1 642.3L247.5 646.3ZM247.5 646.3L239.1 642.3L253.4 635.8L261.8 639.8ZM261.8 639.8L253.4 635.8L267.8 629.3L276.2 633.3ZM276.2 633.3L267.8 629.3L282.1 622.7L290.5 626.7ZM290.5 626.7L282.1 622.7L296.5 616.2L304.9 620.2ZM304.9 620.2L296.5 616.2L310.8 609.7L319.2 613.7ZM319.2 613.7L310.8 609.7L325.2 603.2L333.6 607.2ZM333.6 607.2L325.2 603.2L339.5 596.7L347.9 600.7ZM347.9 600.7L339.5 596.7L353.9 590.2L362.3 594.2ZM362.3 594.2L353.9 590.2L368.2 583.7L376.6 587.7ZM376.6 587.7L368.2 583.7L382.6 577.2L391.0 581.2ZM391.0 581.2L382.6 577.2L396.9 570.6L405.3 574.6ZM405.3 574.6L396.9 570.6L411.3 564.1L419.7 568.1ZM419.7 568.1L411.3 564.1L425.6 557.6L434.0 561.6ZM434.0 561.6L425.6 557.6L440.0 551.1L448.4 555.1ZM448.4 555.1L440.0 551.1L454.3 544.6L462.7 548.6ZM462.7 548.6L454.3 544.6L468.7 538.1L477.1 542.1ZM477.1 542.1L468.7 538.1L483.0 531.6L491.4 535.6ZM491.4 535.6L483.0 531.6L497.4 525.1L505.8 529.1ZM505.8 529.1L497.4 525.1L511.7 518.5L520.1 522.5ZM520.1 522.5L511.7 518.5L526.1 512.0L534.5 516.0ZM534.5 516.0L526.1 512.0L540.4 505.5L548.8 509.5ZM548.8 509.5L540.4 505.5L554.8 499.0L563.2 503.0ZM563.2 503.0L554.8 499.0L569.1 492.5L577.5 496.5ZM224.7 648.8L216.3 644.8L230.7 638.3L239.1 642.3ZM239.1 642.3L230.7 638.3L245.0 631.8L253.4 635.8ZM253.4 635.8L245.0 631.8L259.4 625.3L267.8 629.3ZM267.8 629.3L259.4 625.3L273.7 618.7L282.1 622.7ZM282.1 622.7L273.7 618.7L288.1 612.2L296.5 616.2ZM296.5 616.2L288.1 612.2L302.4 605.7L310.8 609.7ZM310.8 609.7L302.4 605.7L316.8 599.2L325.2 603.2ZM325.2 603.2L316.8 599.2L331.1 592.7L339.5 596.7ZM339.5 596.7L331.1 592.7L345.5 586.2L353.9 590.2ZM353.9 590.2L345.5 586.2L359.8 579.7L368.2 583.7ZM368.2 583.7L359.8 579.7L374.2 573.2L382.6 577.2ZM382.6 577.2L374.2 573.2L388.5 566.6L396.9 570.6ZM396.9 570.6L388.5 566.6L402.9 560.1L411.3 564.1ZM411.3 564.1L402.9 560.1L417.2 553.6L425.6 557.6ZM425.6 557.6L417.2 553.6L431.6 547.1L440.0 551.1ZM440.0 551.1L431.6 547.1L445.9 540.6L454.3 544.6ZM454.3 544.6L445.9 540.6L460.3 534.1L468.7 538.1ZM468.7 538.1L460.3 534.1L474.6 527.6L483.0 531.6ZM483.0 531.6L474.6 527.6L489.0 521.1L497.4 525.1ZM497.4 525.1L489.0 521.1L503.3 514.5L511.7 518.5ZM511.7 518.5L503.3 514.5L517.7 508.0L526.1 512.0ZM526.1 512.0L517.7 508.0L532.0 501.5L540.4 505.5ZM540.4 505.5L532.0 501.5L546.4 495.0L554.8 499.0ZM554.8 499.0L546.4 495.0L560.7 488.5L569.1 492.5ZM216.3 644.8L207.9 640.8L222.3 634.3L230.7 638.3ZM230.7 638.3L222.3 634.3L236.6 627.8L245.0 631.8ZM245.0 631.8L236.6 627.8L251.0 621.3L259.4 625.3ZM259.4 625.3L251.0 621.3L265.3 614.7L273.7 618.7ZM273.7 618.7L265.3 614.7L279.7 608.2L288.1 612.2ZM288.1 612.2L279.7 608.2L294.0 601.7L302.4 605.7ZM302.4 605.7L294.0 601.7L308.4 595.2L316.8 599.2ZM316.8 599.2L308.4 595.2L322.7 588.7L331.1 592.7ZM331.1 592.7L322.7 588.7L337.1 582.2L345.5 586.2ZM345.5 586.2L337.1 582.2L351.4 575.7L359.8 579.7ZM359.8 579.7L351.4 575.7L365.8 569.2L374.2 573.2ZM374.2 573.2L365.8 569.2L380.1 562.6L388.5 566.6ZM388.5 566.6L380.1 562.6L394.5 556.1L402.9 560.1ZM402.9 560.1L394.5 556.1L408.8 549.6L417.2 553.6ZM417.2 553.6L408.8 549.6L423.2 543.1L431.6 547.1ZM431.6 547.1L423.2 543.1L437.5 536.6L445.9 540.6ZM445.9 540.6L437.5 536.6L451.9 530.1L460.3 534.1ZM460.3 534.1L451.9 530.1L466.2 523.6L474.6 527.6ZM474.6 527.6L466.2 523.6L480.6 517.1L489.0 521.1ZM489.0 521.1L480.6 517.1L494.9 510.5L503.3 514.5ZM503.3 514.5L494.9 510.5L509.3 504.0L517.7 508.0ZM517.7 508.0L509.3 504.0L523.6 497.5L532.0 501.5ZM532.0 501.5L523.6 497.5L538.0 491.0L546.4 495.0ZM546.4 495.0L538.0 491.0L552.3 484.5L560.7 488.5ZM207.9 640.8L199.5 636.8L213.9 630.3L222.3 634.3ZM222.3 634.3L213.9 630.3L228.2 623.8L236.6 627.8ZM236.6 627.8L228.2 623.8L242.6 617.2L251.0 621.3ZM251.0 621.3L242.6 617.2L256.9 610.7L265.3 614.7ZM265.3 614.7L256.9 610.7L271.3 604.2L279.7 608.2ZM279.7 608.2L271.3 604.2L285.6 597.7L294.0 601.7ZM294.0 601.7L285.6 597.7L300.0 591.2L308.4 595.2ZM308.4 595.2L300.0 591.2L314.4 584.7L322.7 588.7ZM322.7 588.7L314.4 584.7L328.7 578.2L337.1 582.2ZM337.1 582.2L328.7 578.2L343.0 571.7L351.4 575.7ZM351.4 575.7L343.0 571.7L357.4 565.1L365.8 569.2ZM365.8 569.2L357.4 565.1L371.7 558.6L380.1 562.6ZM380.1 562.6L371.7 558.6L386.1 552.1L394.5 556.1ZM394.5 556.1L386.1 552.1L400.4 545.6L408.8 549.6ZM408.8 549.6L400.4 545.6L414.8 539.1L423.2 543.1ZM423.2 543.1L414.8 539.1L429.1 532.6L437.5 536.6ZM437.5 536.6L429.1 532.6L443.5 526.1L451.9 530.1ZM451.9 530.1L443.5 526.1L457.9 519.6L466.2 523.6ZM466.2 523.6L457.9 519.6L472.2 513.0L480.6 517.1ZM480.6 517.1L472.2 513.0L486.6 506.5L494.9 510.5ZM494.9 510.5L486.6 506.5L500.9 500.0L509.3 504.0ZM509.3 504.0L500.9 500.0L515.3 493.5L523.6 497.5ZM523.6 497.5L515.3 493.5L529.6 487.0L538.0 491.0ZM538.0 491.0L529.6 487.0L543.9 480.5L552.3 484.5ZM199.5 636.8L191.2 632.8L205.5 626.3L213.9 630.3ZM213.9 630.3L205.5 626.3L219.9 619.8L228.2 623.8ZM228.2 623.8L219.9 619.8L234.2 613.2L242.6 617.2ZM242.6 617.2L234.2 613.2L248.6 606.7L256.9 610.7ZM256.9 610.7L248.6 606.7L262.9 600.2L271.3 604.2ZM271.3 604.2L262.9 600.2L277.3 593.7L285.6 597.7ZM285.6 597.7L277.3 593.7L291.6 587.2L300.0 591.2ZM300.0 591.2L291.6 587.2L306.0 580.7L314.4 584.7ZM314.4 584.7L306.0 580.7L320.3 574.2L328.7 578.2ZM328.7 578.2L320.3 574.2L334.7 567.7L343.0 571.7ZM343.0 571.7L334.7 567.7L349.0 561.1L357.4 565.1ZM357.4 565.1L349.0 561.1L363.4 554.6L371.7 558.6ZM371.7 558.6L363.4 554.6L377.7 548.1L386.1 552.1ZM386.1 552.1L377.7 548.1L392.1 541.6L400.4 545.6ZM400.4 545.6L392.1 541.6L406.4 535.1L414.8 539.1ZM414.8 539.1L406.4 535.1L420.8 528.6L429.1 532.6ZM429.1 532.6L420.8 528.6L435.1 522.1L443.5 526.1ZM443.5 526.1L435.1 522.1L449.5 515.6L457.9 519.6ZM457.9 519.6L449.5 515.6L463.8 509.0L472.2 513.0ZM472.2 513.0L463.8 509.0L478.2 502.5L486.6 506.5ZM486.6 506.5L478.2 502.5L492.5 496.0L500.9 500.0ZM500.9 500.0L492.5 496.0L506.9 489.5L515.3 493.5ZM515.3 493.5L506.9 489.5L521.2 483.0L529.6 487.0ZM529.6 487.0L521.2 483.0L535.6 476.5L543.9 480.5ZM191.2 632.8L182.8 628.8L197.1 622.3L205.5 626.3ZM205.5 626.3L197.1 622.3L211.5 615.8L219.9 619.8ZM219.9 619.8L211.5 615.8L225.8 609.2L234.2 613.2ZM234.2 613.2L225.8 609.2L240.2 602.7L248.6 606.7ZM248.6 606.7L240.2 602.7L254.5 596.2L262.9 600.2ZM262.9 600.2L254.5 596.2L268.9 589.7L277.3 593.7ZM277.3 593.7L268.9 589.7L283.2 583.2L291.6 587.2ZM291.6 587.2L283.2 583.2L297.6 576.7L306.0 580.7ZM306.0 580.7L297.6 576.7L311.9 570.2L320.3 574.2ZM320.3 574.2L311.9 570.2L326.3 563.7L334.7 567.7ZM334.7 567.7L326.3 563.7L340.6 557.1L349.0 561.1ZM349.0 561.1L340.6 557.1L355.0 550.6L363.4 554.6ZM363.4 554.6L355.0 550.6L369.3 544.1L377.7 548.1ZM377.7 548.1L369.3 544.1L383.7 537.6L392.1 541.6ZM392.1 541.6L383.7 537.6L398.0 531.1L406.4 535.1ZM406.4 535.1L398.0 531.1L412.4 524.6L420.8 528.6ZM420.8 528.6L412.4 524.6L426.7 518.1L435.1 522.1ZM435.1 522.1L426.7 518.1L441.1 511.6L449.5 515.6ZM449.5 515.6L441.1 511.6L455.4 505.0L463.8 509.0ZM463.8 509.0L455.4 505.0L469.8 498.5L478.2 502.5ZM478.2 502.5L469.8 498.5L484.1 492.0L492.5 496.0ZM492.5 496.0L484.1 492.0L498.5 485.5L506.9 489.5ZM506.9 489.5L498.5 485.5L512.8 479.0L521.2 483.0ZM521.2 483.0L512.8 479.0L527.2 472.5L535.6 476.5ZM182.8 628.8L174.4 624.8L188.7 618.3L197.1 622.3ZM197.1 622.3L188.7 618.3L203.1 611.8L211.5 615.8ZM211.5 615.8L203.1 611.8L217.4 605.2L225.8 609.2ZM225.8 609.2L217.4 605.2L231.8 598.7L240.2 602.7ZM240.2 602.7L231.8 598.7L246.1 592.2L254.5 596.2ZM254.5 596.2L246.1 592.2L260.5 585.7L268.9 589.7ZM268.9 589.7L260.5 585.7L274.8 579.2L283.2 583.2ZM283.2 583.2L274.8 579.2L289.2 572.7L297.6 576.7ZM297.6 576.7L289.2 572.7L303.5 566.2L311.9 570.2ZM311.9 570.2L303.5 566.2L317.9 559.7L326.3 563.7ZM326.3 563.7L317.9 559.7L332.2 553.1L340.6 557.1ZM340.6 557.1L332.2 553.1L346.6 546.6L355.0 550.6ZM355.0 550.6L346.6 546.6L360.9 540.1L369.3 544.1ZM369.3 544.1L360.9 540.1L375.3 533.6L383.7 537.6ZM383.7 537.6L375.3 533.6L389.6 527.1L398.0 531.1ZM398.0 531.1L389.6 527.1L404.0 520.6L412.4 524.6ZM412.4 524.6L404.0 520.6L418.3 514.1L426.7 518.1ZM426.7 518.1L418.3 514.1L432.7 507.6L441.1 511.6ZM441.1 511.6L432.7 507.6L447.0 501.0L455.4 505.0ZM455.4 505.0L447.0 501.0L461.4 494.5L469.8 498.5ZM469.8 498.5L461.4 494.5L475.7 488.0L484.1 492.0ZM484.1 492.0L475.7 488.0L490.1 481.5L498.5 485.5ZM498.5 485.5L490.1 481.5L504.4 475.0L512.8 479.0ZM512.8 479.0L504.4 475.0L518.8 468.5L527.2 472.5ZM174.4 624.8L166.0 620.8L180.3 614.3L188.7 618.3ZM188.7 618.3L180.3 614.3L194.7 607.8L203.1 611.8ZM203.1 611.8L194.7 607.8L209.0 601.2L217.4 605.2ZM217.4 605.2L209.0 601.2L223.4 594.7L231.8 598.7ZM231.8 598.7L223.4 594.7L237.7 588.2L246.1 592.2ZM246.1 592.2L237.7 588.2L252.1 581.7L260.5 585.7ZM260.5 585.7L252.1 581.7L266.4 575.2L274.8 579.2ZM274.8 579.2L266.4 575.2L280.8 568.7L289.2 572.7ZM289.2 572.7L280.8 568.7L295.1 562.2L303.5 566.2ZM303.5 566.2L295.1 562.2L309.5 555.7L317.9 559.7ZM317.9 559.7L309.5 555.7L323.8 549.1L332.2 553.1ZM332.2 553.1L323.8 549.1L338.2 542.6L346.6 546.6ZM346.6 546.6L338.2 542.6L352.5 536.1L360.9 540.1ZM360.9 540.1L352.5 536.1L366.9 529.6L375.3 533.6ZM375.3 533.6L366.9 529.6L381.2 523.1L389.6 527.1ZM389.6 527.1L381.2 523.1L395.6 516.6L404.0 520.6ZM404.0 520.6L395.6 516.6L409.9 510.1L418.3 514.1ZM418.3 514.1L409.9 510.1L424.3 503.6L432.7 507.6ZM432.7 507.6L424.3 503.6L438.6 497.0L447.0 501.0ZM447.0 501.0L438.6 497.0L453.0 490.5L461.4 494.5ZM461.4 494.5L453.0 490.5L467.3 484.0L475.7 488.0ZM475.7 488.0L467.3 484.0L481.7 477.5L490.1 481.5ZM490.1 481.5L481.7 477.5L496.0 471.0L504.4 475.0ZM504.4 475.0L496.0 471.0L510.4 464.5L518.8 468.5ZM166.0 620.8L157.6 616.8L171.9 610.3L180.3 614.3ZM180.3 614.3L171.9 610.3L186.3 603.8L194.7 607.8ZM194.7 607.8L186.3 603.8L200.6 597.2L209.0 601.2ZM209.0 601.2L200.6 597.2L215.0 590.7L223.4 594.7ZM223.4 594.7L215.0 590.7L229.3 584.2L237.7 588.2ZM237.7 588.2L229.3 584.2L243.7 577.7L252.1 581.7ZM252.1 581.7L243.7 577.7L258.0 571.2L266.4 575.2ZM266.4 575.2L258.0 571.2L272.4 564.7L280.8 568.7ZM280.8 568.7L272.4 564.7L286.7 558.2L295.1 562.2ZM295.1 562.2L286.7 558.2L301.1 551.6L309.5 555.7ZM309.5 555.7L301.1 551.6L315.4 545.1L323.8 549.1ZM323.8 549.1L315.4 545.1L329.8 538.6L338.2 542.6ZM338.2 542.6L329.8 538.6L344.1 532.1L352.5 536.1ZM352.5 536.1L344.1 532.1L358.5 525.6L366.9 529.6ZM366.9 529.6L358.5 525.6L372.8 519.1L381.2 523.1ZM381.2 523.1L372.8 519.1L387.2 512.6L395.6 516.6ZM395.6 516.6L387.2 512.6L401.5 506.1L409.9 510.1ZM409.9 510.1L401.5 506.1L415.9 499.5L424.3 503.6ZM424.3 503.6L415.9 499.5L430.2 493.0L438.6 497.0ZM438.6 497.0L430.2 493.0L444.6 486.5L453.0 490.5ZM453.0 490.5L444.6 486.5L458.9 480.0L467.3 484.0ZM467.3 484.0L458.9 480.0L473.3 473.5L481.7 477.5ZM481.7 477.5L473.3 473.5L487.6 467.0L496.0 471.0ZM496.0 471.0L487.6 467.0L502.0 460.5L510.4 464.5ZM157.6 616.8L149.2 612.8L163.5 606.3L171.9 610.3ZM171.9 610.3L163.5 606.3L177.9 599.7L186.3 603.8ZM186.3 603.8L177.9 599.7L192.2 593.2L200.6 597.2ZM200.6 597.2L192.2 593.2L206.6 586.7L215.0 590.7ZM215.0 590.7L206.6 586.7L220.9 580.2L229.3 584.2ZM229.3 584.2L220.9 580.2L235.3 573.7L243.7 577.7ZM243.7 577.7L235.3 573.7L249.6 567.2L258.0 571.2ZM258.0 571.2L249.6 567.2L264.0 560.7L272.4 564.7ZM272.4 564.7L264.0 560.7L278.3 554.2L286.7 558.2ZM286.7 558.2L278.3 554.2L292.7 547.6L301.1 551.6ZM301.1 551.6L292.7 547.6L307.0 541.1L315.4 545.1ZM315.4 545.1L307.0 541.1L321.4 534.6L329.8 538.6ZM329.8 538.6L321.4 534.6L335.7 528.1L344.1 532.1ZM344.1 532.1L335.7 528.1L350.1 521.6L358.5 525.6ZM358.5 525.6L350.1 521.6L364.4 515.1L372.8 519.1ZM372.8 519.1L364.4 515.1L378.8 508.6L387.2 512.6ZM387.2 512.6L378.8 508.6L393.1 502.1L401.5 506.1ZM401.5 506.1L393.1 502.1L407.5 495.5L415.9 499.5ZM415.9 499.5L407.5 495.5L421.8 489.0L430.2 493.0ZM430.2 493.0L421.8 489.0L436.2 482.5L444.6 486.5ZM444.6 486.5L436.2 482.5L450.5 476.0L458.9 480.0ZM458.9 480.0L450.5 476.0L464.9 469.5L473.3 473.5ZM473.3 473.5L464.9 469.5L479.2 463.0L487.6 467.0ZM487.6 467.0L479.2 463.0L493.6 456.5L502.0 460.5ZM149.2 612.8L140.8 608.8L155.1 602.3L163.5 606.3ZM163.5 606.3L155.1 602.3L169.5 595.7L177.9 599.7ZM177.9 599.7L169.5 595.7L183.8 589.2L192.2 593.2ZM192.2 593.2L183.8 589.2L198.2 582.7L206.6 586.7ZM206.6 586.7L198.2 582.7L212.5 576.2L220.9 580.2ZM220.9 580.2L212.5 576.2L226.9 569.7L235.3 573.7ZM235.3 573.7L226.9 569.7L241.2 563.2L249.6 567.2ZM249.6 567.2L241.2 563.2L255.6 556.7L264.0 560.7ZM264.0 560.7L255.6 556.7L269.9 550.2L278.3 554.2ZM278.3 554.2L269.9 550.2L284.3 543.6L292.7 547.6ZM292.7 547.6L284.3 543.6L298.6 537.1L307.0 541.1ZM307.0 541.1L298.6 537.1L313.0 530.6L321.4 534.6ZM321.4 534.6L313.0 530.6L327.3 524.1L335.7 528.1ZM335.7 528.1L327.3 524.1L341.7 517.6L350.1 521.6ZM350.1 521.6L341.7 517.6L356.0 511.1L364.4 515.1ZM364.4 515.1L356.0 511.1L370.4 504.6L378.8 508.6ZM378.8 508.6L370.4 504.6L384.7 498.1L393.1 502.1ZM393.1 502.1L384.7 498.1L399.1 491.5L407.5 495.5ZM407.5 495.5L399.1 491.5L413.4 485.0L421.8 489.0ZM421.8 489.0L413.4 485.0L427.8 478.5L436.2 482.5ZM436.2 482.5L427.8 478.5L442.1 472.0L450.5 476.0ZM450.5 476.0L442.1 472.0L456.5 465.5L464.9 469.5ZM464.9 469.5L456.5 465.5L470.8 459.0L479.2 463.0ZM479.2 463.0L470.8 459.0L485.2 452.5L493.6 456.5ZM140.8 608.8L132.4 604.8L146.7 598.3L155.1 602.3ZM155.1 602.3L146.7 598.3L161.1 591.7L169.5 595.7ZM169.5 595.7L161.1 591.7L175.4 585.2L183.8 589.2ZM183.8 589.2L175.4 585.2L189.8 578.7L198.2 582.7ZM198.2 582.7L189.8 578.7L204.1 572.2L212.5 576.2ZM212.5 576.2L204.1 572.2L218.5 565.7L226.9 569.7ZM226.9 569.7L218.5 565.7L232.8 559.2L241.2 563.2ZM241.2 563.2L232.8 559.2L247.2 552.7L255.6 556.7ZM255.6 556.7L247.2 552.7L261.5 546.2L269.9 550.2ZM269.9 550.2L261.5 546.2L275.9 539.6L284.3 543.6ZM284.3 543.6L275.9 539.6L290.2 533.1L298.6 537.1ZM298.6 537.1L290.2 533.1L304.6 526.6L313.0 530.6ZM313.0 530.6L304.6 526.6L318.9 520.1L327.3 524.1ZM327.3 524.1L318.9 520.1L333.3 513.6L341.7 517.6ZM341.7 517.6L333.3 513.6L347.6 507.1L356.0 511.1ZM356.0 511.1L347.6 507.1L362.0 500.6L370.4 504.6ZM370.4 504.6L362.0 500.6L376.3 494.1L384.7 498.1ZM384.7 498.1L376.3 494.1L390.7 487.5L399.1 491.5ZM399.1 491.5L390.7 487.5L405.0 481.0L413.4 485.0ZM413.4 485.0L405.0 481.0L419.4 474.5L427.8 478.5ZM427.8 478.5L419.4 474.5L433.7 468.0L442.1 472.0ZM442.1 472.0L433.7 468.0L448.1 461.5L456.5 465.5ZM456.5 465.5L448.1 461.5L462.4 455.0L470.8 459.0ZM470.8 459.0L462.4 455.0L476.8 448.5L485.2 452.5ZM132.4 604.8L124.0 600.8L138.3 594.3L146.7 598.3ZM146.7 598.3L138.3 594.3L152.7 587.7L161.1 591.7ZM161.1 591.7L152.7 587.7L167.0 581.2L175.4 585.2ZM175.4 585.2L167.0 581.2L181.4 574.7L189.8 578.7ZM189.8 578.7L181.4 574.7L195.7 568.2L204.1 572.2ZM204.1 572.2L195.7 568.2L210.1 561.7L218.5 565.7ZM218.5 565.7L210.1 561.7L224.4 555.2L232.8 559.2ZM232.8 559.2L224.4 555.2L238.8 548.7L247.2 552.7ZM247.2 552.7L238.8 548.7L253.1 542.2L261.5 546.2ZM261.5 546.2L253.1 542.2L267.5 535.6L275.9 539.6ZM275.9 539.6L267.5 535.6L281.8 529.1L290.2 533.1ZM290.2 533.1L281.8 529.1L296.2 522.6L304.6 526.6ZM304.6 526.6L296.2 522.6L310.5 516.1L318.9 520.1ZM318.9 520.1L310.5 516.1L324.9 509.6L333.3 513.6ZM333.3 513.6L324.9 509.6L339.2 503.1L347.6 507.1ZM347.6 507.1L339.2 503.1L353.6 496.6L362.0 500.6ZM362.0 500.6L353.6 496.6L367.9 490.1L376.3 494.1ZM376.3 494.1L367.9 490.1L382.3 483.5L390.7 487.5ZM390.7 487.5L382.3 483.5L396.6 477.0L405.0 481.0ZM405.0 481.0L396.6 477.0L411.0 470.5L419.4 474.5ZM419.4 474.5L411.0 470.5L425.3 464.0L433.7 468.0ZM433.7 468.0L425.3 464.0L439.7 457.5L448.1 461.5ZM448.1 461.5L439.7 457.5L454.0 451.0L462.4 455.0ZM462.4 455.0L454.0 451.0L468.4 444.5L476.8 448.5ZM124.0 600.8L115.6 596.8L129.9 590.2L138.3 594.3ZM138.3 594.3L129.9 590.2L144.3 583.7L152.7 587.7ZM152.7 587.7L144.3 583.7L158.6 577.2L167.0 581.2ZM167.0 581.2L158.6 577.2L173.0 570.7L181.4 574.7ZM181.4 574.7L173.0 570.7L187.3 564.2L195.7 568.2ZM195.7 568.2L187.3 564.2L201.7 557.7L210.1 561.7ZM210.1 561.7L201.7 557.7L216.1 551.2L224.4 555.2ZM224.4 555.2L216.1 551.2L230.4 544.7L238.8 548.7ZM238.8 548.7L230.4 544.7L244.7 538.1L253.1 542.2ZM253.1 542.2L244.7 538.1L259.1 531.6L267.5 535.6ZM267.5 535.6L259.1 531.6L273.4 525.1L281.8 529.1ZM281.8 529.1L273.4 525.1L287.8 518.6L296.2 522.6ZM296.2 522.6L287.8 518.6L302.2 512.1L310.5 516.1ZM310.5 516.1L302.2 512.1L316.5 505.6L324.9 509.6ZM324.9 509.6L316.5 505.6L330.8 499.1L339.2 503.1ZM339.2 503.1L330.8 499.1L345.2 492.6L353.6 496.6ZM353.6 496.6L345.2 492.6L359.6 486.0L367.9 490.1ZM367.9 490.1L359.6 486.0L373.9 479.5L382.3 483.5ZM382.3 483.5L373.9 479.5L388.2 473.0L396.6 477.0ZM396.6 477.0L388.2 473.0L402.6 466.5L411.0 470.5ZM411.0 470.5L402.6 466.5L416.9 460.0L425.3 464.0ZM425.3 464.0L416.9 460.0L431.3 453.5L439.7 457.5ZM439.7 457.5L431.3 453.5L445.7 447.0L454.0 451.0ZM454.0 451.0L445.7 447.0L460.0 440.5L468.4 444.5Z"/>
</g>
<path fill="none" stroke="#000" stroke-width="0.80" shape-rendering="crispEdges" d="M451.4 756.9L465.8 750.3L480.1 743.8L494.4 737.3L508.8 730.8L523.1 724.3L537.5 717.8L551.9 711.3L566.2 704.8L580.5 698.2L594.9 691.7L609.2 685.2L623.6 678.7L638.0 672.2L652.3 665.7L666.6 659.2L681.0 652.7L695.4 646.1L709.7 639.6L724.0 633.1L738.4 626.6L752.8 620.1L767.1 613.6L781.5 607.1L795.8 600.6M443.0 752.9L457.4 746.3L471.7 739.8L486.1 733.3L500.4 726.8L514.8 720.3L529.1 713.8L543.5 707.3L557.8 700.8L572.2 694.2L586.5 687.7L600.9 681.2L615.2 674.7L629.6 668.2L643.9 661.7L658.3 655.2L672.6 648.7L687.0 642.1L701.3 635.6L715.7 629.1L730.0 622.6L744.4 616.1L758.7 609.6L773.1 603.1L787.4 596.6M434.6 748.9L449.0 742.3L463.3 735.8L477.7 729.3L492.0 722.8L506.4 716.3L520.7 709.8L535.1 703.3L549.4 696.8L563.8 690.2L578.1 683.7L592.5 677.2L606.8 670.7L621.2 664.2L635.5 657.7L649.9 651.2L664.2 644.7L678.6 638.1L692.9 631.6L707.3 625.1L721.6 618.6L736.0 612.1L750.3 605.6L764.7 599.1L779.0 592.6M426.2 744.9L440.6 738.3L454.9 731.8L469.3 725.3L483.6 718.8L498.0 712.3L512.3 705.8L526.7 699.3L541.0 692.8L555.4 686.2L569.7 679.7L584.1 673.2L598.4 666.7L612.8 660.2L627.1 653.7L641.5 647.2L655.8 640.7L670.2 634.1L684.5 627.6L698.9 621.1L713.2 614.6L727.6 608.1L741.9 601.6L756.3 595.1L770.6 588.6M417.8 740.9L432.2 734.3L446.5 727.8L460.9 721.3L475.2 714.8L489.6 708.3L503.9 701.8L518.3 695.3L532.6 688.8L547.0 682.2L561.3 675.7L575.7 669.2L590.0 662.7L604.4 656.2L618.7 649.7L633.1 643.2L647.4 636.7L661.8 630.1L676.1 623.6L690.5 617.1L704.8 610.6L719.2 604.1L733.5 597.6L747.9 591.1L762.2 584.6M409.4 736.8L423.8 730.3L438.1 723.8L452.5 717.3L466.8 710.8L481.2 704.3L495.5 697.8L509.9 691.3L524.2 684.7L538.6 678.2L552.9 671.7L567.3 665.2L581.6 658.7L596.0 652.2L610.3 645.7L624.7 639.2L639.0 632.6L653.4 626.1L667.7 619.6L682.1 613.1L696.4 606.6L710.8 600.1L725.1 593.6L739.5 587.1L753.8 580.5M401.0 732.8L415.4 726.3L429.7 719.8L444.1 713.3L458.4 706.8L472.8 700.3L487.1 693.8L501.5 687.3L515.8 680.7L530.2 674.2L544.5 667.7L558.9 661.2L573.2 654.7L587.6 648.2L601.9 641.7L616.3 635.2L630.6 628.6L645.0 622.1L659.3 615.6L673.7 609.1L688.0 602.6L702.4 596.1L716.7 589.6L731.1 583.1L745.4 576.5M392.6 728.8L407.0 722.3L421.3 715.8L435.7 709.3L450.0 702.8L464.4 696.3L478.7 689.8L493.1 683.3L507.4 676.7L521.8 670.2L536.1 663.7L550.5 657.2L564.8 650.7L579.2 644.2L593.5 637.7L607.9 631.2L622.2 624.6L636.6 618.1L650.9 611.6L665.3 605.1L679.6 598.6L694.0 592.1L708.3 585.6L722.7 579.1L737.0 572.5M384.2 724.8L398.6 718.3L412.9 711.8L427.3 705.3L441.6 698.8L456.0 692.3L470.3 685.8L484.7 679.3L499.0 672.7L513.4 666.2L527.7 659.7L542.1 653.2L556.4 646.7L570.8 640.2L585.1 633.7L599.5 627.2L613.8 620.6L628.2 614.1L642.5 607.6L656.9 601.1L671.2 594.6L685.6 588.1L699.9 581.6L714.3 575.1L728.6 568.5M375.8 720.8L390.2 714.3L404.5 707.8L418.9 701.3L433.2 694.8L447.6 688.3L461.9 681.8L476.3 675.3L490.6 668.7L505.0 662.2L519.3 655.7L533.7 649.2L548.0 642.7L562.4 636.2L576.7 629.7L591.1 623.2L605.4 616.6L619.8 610.1L634.1 603.6L648.5 597.1L662.8 590.6L677.2 584.1L691.5 577.6L705.9 571.1L720.2 564.5M367.4 716.8L381.8 710.3L396.1 703.8L410.5 697.3L424.9 690.8L439.2 684.3L453.6 677.8L467.9 671.2L482.3 664.7L496.6 658.2L510.9 651.7L525.3 645.2L539.6 638.7L554.0 632.2L568.3 625.7L582.7 619.1L597.0 612.6L611.4 606.1L625.8 599.6L640.1 593.1L654.5 586.6L668.8 580.1L683.2 573.6L697.5 567.0L711.8 560.5M359.1 712.8L373.4 706.3L387.8 699.8L402.1 693.3L416.5 686.8L430.8 680.3L445.2 673.8L459.5 667.2L473.9 660.7L488.2 654.2L502.6 647.7L516.9 641.2L531.3 634.7L545.6 628.2L560.0 621.7L574.3 615.1L588.7 608.6L603.0 602.1L617.4 595.6L631.7 589.1L646.1 582.6L660.4 576.1L674.8 569.6L689.1 563.0L703.5 556.5M350.7 708.8L365.0 702.3L379.4 695.8L393.7 689.3L408.1 682.8L422.4 676.3L436.8 669.8L451.1 663.2L465.5 656.7L479.8 650.2L494.2 643.7L508.5 637.2L522.9 630.7L537.2 624.2L551.6 617.7L565.9 611.1L580.3 604.6L594.6 598.1L609.0 591.6L623.3 585.1L637.7 578.6L652.0 572.1L666.4 565.6L680.7 559.0L695.1 552.5M342.3 704.8L356.6 698.3L371.0 691.8L385.3 685.3L399.7 678.8L414.0 672.3L428.4 665.8L442.7 659.2L457.1 652.7L471.4 646.2L485.8 639.7L500.1 633.2L514.5 626.7L528.8 620.2L543.2 613.7L557.5 607.1L571.9 600.6L586.2 594.1L600.6 587.6L614.9 581.1L629.3 574.6L643.6 568.1L658.0 561.6L672.3 555.0L686.7 548.5M333.9 700.8L348.2 694.3L362.6 687.8L376.9 681.3L391.3 674.8L405.6 668.3L420.0 661.8L434.3 655.2L448.7 648.7L463.0 642.2L477.4 635.7L491.7 629.2L506.1 622.7L520.4 616.2L534.8 609.7L549.1 603.1L563.5 596.6L577.8 590.1L592.2 583.6L606.5 577.1L620.9 570.6L635.2 564.1L649.6 557.6L663.9 551.0L678.3 544.5M325.5 696.8L339.8 690.3L354.2 683.8L368.5 677.3L382.9 670.8L397.2 664.3L411.6 657.7L425.9 651.2L440.3 644.7L454.6 638.2L469.0 631.7L483.3 625.2L497.7 618.7L512.0 612.2L526.4 605.6L540.7 599.1L555.1 592.6L569.4 586.1L583.8 579.6L598.1 573.1L612.5 566.6L626.8 560.1L641.2 553.5L655.5 547.0L669.9 540.5M317.1 692.8L331.4 686.3L345.8 679.8L360.1 673.3L374.5 666.8L388.8 660.3L403.2 653.7L417.5 647.2L431.9 640.7L446.2 634.2L460.6 627.7L474.9 621.2L489.3 614.7L503.6 608.2L518.0 601.6L532.3 595.1L546.7 588.6L561.0 582.1L575.4 575.6L589.7 569.1L604.1 562.6L618.4 556.1L632.8 549.5L647.1 543.0L661.5 536.5M308.7 688.8L323.0 682.3L337.4 675.8L351.7 669.3L366.1 662.8L380.4 656.3L394.8 649.7L409.1 643.2L423.5 636.7L437.8 630.2L452.2 623.7L466.5 617.2L480.9 610.7L495.2 604.2L509.6 597.6L523.9 591.1L538.3 584.6L552.6 578.1L567.0 571.6L581.3 565.1L595.7 558.6L610.0 552.1L624.4 545.5L638.7 539.0L653.1 532.5M300.3 684.8L314.6 678.3L329.0 671.8L343.3 665.3L357.7 658.8L372.0 652.3L386.4 645.7L400.7 639.2L415.1 632.7L429.4 626.2L443.8 619.7L458.1 613.2L472.5 606.7L486.8 600.2L501.2 593.6L515.5 587.1L529.9 580.6L544.2 574.1L558.6 567.6L572.9 561.1L587.3 554.6L601.6 548.1L616.0 541.5L630.3 535.0L644.7 528.5M291.9 680.8L306.2 674.3L320.6 667.8L334.9 661.3L349.3 654.8L363.6 648.3L378.0 641.7L392.3 635.2L406.7 628.7L421.0 622.2L435.4 615.7L449.7 609.2L464.1 602.7L478.4 596.2L492.8 589.6L507.1 583.1L521.5 576.6L535.8 570.1L550.2 563.6L564.5 557.1L578.9 550.6L593.2 544.1L607.6 537.5L621.9 531.0L636.3 524.5M283.5 676.8L297.9 670.3L312.2 663.8L326.5 657.3L340.9 650.8L355.2 644.2L369.6 637.7L384.0 631.2L398.3 624.7L412.6 618.2L427.0 611.7L441.4 605.2L455.7 598.7L470.1 592.1L484.4 585.6L498.8 579.1L513.1 572.6L527.5 566.1L541.8 559.6L556.1 553.1L570.5 546.6L584.9 540.0L599.2 533.5L613.6 527.0L627.9 520.5M275.1 672.8L289.5 666.3L303.8 659.8L318.2 653.3L332.5 646.8L346.9 640.2L361.2 633.7L375.6 627.2L389.9 620.7L404.3 614.2L418.6 607.7L433.0 601.2L447.3 594.7L461.7 588.1L476.0 581.6L490.4 575.1L504.7 568.6L519.1 562.1L533.4 555.6L547.8 549.1L562.1 542.6L576.5 536.0L590.8 529.5L605.2 523.0L619.5 516.5M266.7 668.8L281.1 662.3L295.4 655.8L309.8 649.3L324.1 642.8L338.5 636.2L352.8 629.7L367.2 623.2L381.5 616.7L395.9 610.2L410.2 603.7L424.6 597.2L438.9 590.7L453.3 584.1L467.6 577.6L482.0 571.1L496.3 564.6L510.7 558.1L525.0 551.6L539.4 545.1L553.7 538.6L568.1 532.0L582.4 525.5L596.8 519.0L611.1 512.5M258.3 664.8L272.7 658.3L287.0 651.8L301.4 645.3L315.7 638.8L330.1 632.2L344.4 625.7L358.8 619.2L373.1 612.7L387.5 606.2L401.8 599.7L416.2 593.2L430.5 586.7L444.9 580.1L459.2 573.6L473.6 567.1L487.9 560.6L502.3 554.1L516.6 547.6L531.0 541.1L545.3 534.6L559.7 528.0L574.0 521.5L588.4 515.0L602.7 508.5M249.9 660.8L264.3 654.3L278.6 647.8L293.0 641.3L307.3 634.8L321.7 628.2L336.0 621.7L350.4 615.2L364.7 608.7L379.1 602.2L393.4 595.7L407.8 589.2L422.1 582.7L436.5 576.1L450.8 569.6L465.2 563.1L479.5 556.6L493.9 550.1L508.2 543.6L522.6 537.1L536.9 530.6L551.3 524.0L565.6 517.5L580.0 511.0L594.3 504.5M241.5 656.8L255.9 650.3L270.2 643.8L284.6 637.3L298.9 630.8L313.3 624.2L327.6 617.7L342.0 611.2L356.3 604.7L370.7 598.2L385.0 591.7L399.4 585.2L413.7 578.6L428.1 572.1L442.4 565.6L456.8 559.1L471.1 552.6L485.5 546.1L499.8 539.6L514.2 533.1L528.5 526.5L542.9 520.0L557.2 513.5L571.6 507.0L585.9 500.5M233.1 652.8L247.5 646.3L261.8 639.8L276.2 633.3L290.5 626.7L304.9 620.2L319.2 613.7L333.6 607.2L347.9 600.7L362.3 594.2L376.6 587.7L391.0 581.2L405.3 574.6L419.7 568.1L434.0 561.6L448.4 555.1L462.7 548.6L477.1 542.1L491.4 535.6L505.8 529.1L520.1 522.5L534.5 516.0L548.8 509.5L563.2 503.0L577.5 496.5M224.7 648.8L239.1 642.3L253.4 635.8L267.8 629.3L282.1 622.7L296.5 616.2L310.8 609.7L325.2 603.2L339.5 596.7L353.9 590.2L368.2 583.7L382.6 577.2L396.9 570.6L411.3 564.1L425.6 557.6L440.0 551.1L454.3 544.6L468.7 538.1L483.0 531.6L497.4 525.1L511.7 518.5L526.1 512.0L540.4 505.5L554.8 499.0L569.1 492.5M216.3 644.8L230.7 638.3L245.0 631.8L259.4 625.3L273.7 618.7L288.1 612.2L302.4 605.7L316.8 599.2L331.1 592.7L345.5 586.2L359.8 579.7L374.2 573.2L388.5 566.6L402.9 560.1L417.2 553.6L431.6 547.1L445.9 540.6L460.3 534.1L474.6 527.6L489.0 521.1L503.3 514.5L517.7 508.0L532.0 501.5L546.4 495.0L560.7 488.5M207.9 640.8L222.3 634.3L236.6 627.8L251.0 621.3L265.3 614.7L279.7 608.2L294.0 601.7L308.4 595.2L322.7 588.7L337.1 582.2L351.4 575.7L365.8 569.2L380.1 562.6L394.5 556.1L408.8 549.6L423.2 543.1L437.5 536.6L451.9 530.1L466.2 523.6L480.6 517.1L494.9 510.5L509.3 504.0L523.6 497.5L538.0 491.0L552.3 484.5M199.5 636.8L213.9 630.3L228.2 623.8L242.6 617.2L256.9 610.7L271.3 604.2L285.6 597.7L300.0 591.2L314.4 584.7L328.7 578.2L343.0 571.7L357.4 565.1L371.7 558.6L386.1 552.1L400.4 545.6L414.8 539.1L429.1 532.6L443.5 526.1L457.9 519.6L472.2 513.0L486.6 506.5L500.9 500.0L515.3 493.5L529.6 487.0L543.9 480.5M191.2 632.8L205.5 626.3L219.9 619.8L234.2 613.2L248.6 606.7L262.9 600.2L277.3 593.7L291.6 587.2L306.0 580.7L320.3 574.2L334.7 567.7L349.0 561.1L363.4 554.6L377.7 548.1L392.1 541.6L406.4 535.1L420.8 528.6L435.1 522.1L449.5 515.6L463.8 509.0L478.2 502.5L492.5 496.0L506.9 489.5L521.2 483.0L535.6 476.5M182.8 628.8L197.1 622.3L211.5 615.8L225.8 609.2L240.2 602.7L254.5 596.2L268.9 589.7L283.2 583.2L297.6 576.7L311.9 570.2L326.3 563.7L340.6 557.1L355.0 550.6L369.3 544.1L383.7 537.6L398.0 531.1L412.4 524.6L426.7 518.1L441.1 511.6L455.4 505.0L469.8 498.5L484.1 492.0L498.5 485.5L512.8 479.0L527.2 472.5M174.4 624.8L188.7 618.3L203.1 611.8L217.4 605.2L231.8 598.7L246.1 592.2L260.5 585.7L274.8 579.2L289.2 572.7L303.5 566.2L317.9 559.7L332.2 553.1L346.6 546.6L360.9 540.1L375.3 533.6L389.6 527.1L404.0 520.6L418.3 514.1L432.7 507.6L447.0 501.0L461.4 494.5L475.7 488.0L490.1 481.5L504.4 475.0L518.8 468.5M166.0 620.8L180.3 614.3L194.7 607.8L209.0 601.2L223.4 594.7L237.7 588.2L252.1 581.7L266.4 575.2L280.8 568.7L295.1 562.2L309.5 555.7L323.8 549.1L338.2 542.6L352.5 536.1L366.9 529.6L381.2 523.1L395.6 516.6L409.9 510.1L424.3 503.6L438.6 497.0L453.0 490.5L467.3 484.0L481.7 477.5L496.0 471.0L510.4 464.5M157.6 616.8L171.9 610.3L186.3 603.8L200.6 597.2L215.0 590.7L229.3 584.2L243.7 577.7L258.0 571.2L272.4 564.7L286.7 558.2L301.1 551.6L315.4 545.1L329.8 538.6L344.1 532.1L358.5 525.6L372.8 519.1L387.2 512.6L401.5 506.1L415.9 499.5L430.2 493.0L444.6 486.5L458.9 480.0L473.3 473.5L487.6 467.0L502.0 460.5M149.2 612.8L163.5 606.3L177.9 599.7L192.2 593.2L206.6 586.7L220.9 580.2L235.3 573.7L249.6 567.2L264.0 560.7L278.3 554.2L292.7 547.6L307.0 541.1L321.4 534.6L335.7 528.1L350.1 521.6L364.4 515.1L378.8 508.6L393.1 502.1L407.5 495.5L421.8 489.0L436.2 482.5L450.5 476.0L464.9 469.5L479.2 463.0L493.6 456.5M140.8 608.8L155.1 602.3L169.5 595.7L183.8 589.2L198.2 582.7L212.5 576.2L226.9 569.7L241.2 563.2L255.6 556.7L269.9 550.2L284.3 543.6L298.6 537.1L313.0 530.6L327.3 524.1L341.7 517.6L356.0 511.1L370.4 504.6L384.7 498.1L399.1 491.5L413.4 485.0L427.8 478.5L442.1 472.0L456.5 465.5L470.8 459.0L485.2 452.5M132.4 604.8L146.7 598.3L161.1 591.7L175.4 585.2L189.8 578.7L204.1 572.2L218.5 565.7L232.8 559.2L247.2 552.7L261.5 546.2L275.9 539.6L290.2 533.1L304.6 526.6L318.9 520.1L333.3 513.6L347.6 507.1L362.0 500.6L376.3 494.1L390.7 487.5L405.0 481.0L419.4 474.5L433.7 468.0L448.1 461.5L462.4 455.0L476.8 448.5M124.0 600.8L138.3 594.3L152.7 587.7L167.0 581.2L181.4 574.7L195.7 568.2L210.1 561.7L224.4 555.2L238.8 548.7L253.1 542.2L267.5 535.6L281.8 529.1L296.2 522.6L310.5 516.1L324.9 509.6L339.2 503.1L353.6 496.6L367.9 490.1L382.3 483.5L396.6 477.0L411.0 470.5L425.3 464.0L439.7 457.5L454.0 451.0L468.4 444.5M115.6 596.8L129.9 590.2L144.3 583.7L158.6 577.2L173.0 570.7L187.3 564.2L201.7 557.7L216.1 551.2L230.4 544.7L244.7 538.1L259.1 531.6L273.4 525.1L287.8 518.6L302.2 512.1L316.5 505.6L330.8 499.1L345.2 492.6L359.6 486.0L373.9 479.5L388.2 473.0L402.6 466.5L416.9 460.0L431.3 453.5L445.7 447.0L460.0 440.5M451.4 756.9L443.0 752.9L434.6 748.9L426.2 744.9L417.8 740.9L409.4 736.8L401.0 732.8L392.6 728.8L384.2 724.8L375.8 720.8L367.4 716.8L359.1 712.8L350.7 708.8L342.3 704.8L333.9 700.8L325.5 696.8L317.1 692.8L308.7 688.8L300.3 684.8L291.9 680.8L283.5 676.8L275.1 672.8L266.7 668.8L258.3 664.8L249.9 660.8L241.5 656.8L233.1 652.8L224.7 648.8L216.3 644.8L207.9 640.8L199.5 636.8L191.2 632.8L182.8 628.8L174.4 624.8L166.0 620.8L157.6 616.8L149.2 612.8L140.8 608.8L132.4 604.8L124.0 600.8L115.6 596.8M465.8 750.3L457.4 746.3L449.0 742.3L440.6 738.3L432.2 734.3L423.8 730.3L415.4 726.3L407.0 722.3L398.6 718.3L390.2 714.3L381.8 710.3L373.4 706.3L365.0 702.3L356.6 698.3L348.2 694.3L339.8 690.3L331.4 686.3L323.0 682.3L314.6 678.3L306.2 674.3L297.9 670.3L289.5 666.3L281.1 662.3L272.7 658.3L264.3 654.3L255.9 650.3L247.5 646.3L239.1 642.3L230.7 638.3L222.3 634.3L213.9 630.3L205.5 626.3L197.1 622.3L188.7 618.3L180.3 614.3L171.9 610.3L163.5 606.3L155.1 602.3L146.7 598.3L138.3 594.3L129.9 590.2M480.1 743.8L471.7 739.8L463.3 735.8L454.9 731.8L446.5 727.8L438.1 723.8L429.7 719.8L421.3 715.8L412.9 711.8L404.5 707.8L396.1 703.8L387.8 699.8L379.4 695.8L371.0 691.8L362.6 687.8L354.2 683.8L345.8 679.8L337.4 675.8L329.0 671.8L320.6 667.8L312.2 663.8L303.8 659.8L295.4 655.8L287.0 651.8L278.6 647.8L270.2 643.8L261.8 639.8L253.4 635.8L245.0 631.8L236.6 627.8L228.2 623.8L219.9 619.8L211.5 615.8L203.1 611.8L194.7 607.8L186.3 603.8L177.9 599.7L169.5 595.7L161.1 591.7L152.7 587.7L144.3 583.7M494.4 737.3L486.1 733.3L477.7 729.3L469.3 725.3L460.9 721.3L452.5 717.3L444.1 713.3L435.7 709.3L427.3 705.3L418.9 701.3L410.5 697.3L402.1 693.3L393.7 689.3L385.3 685.3L376.9 681.3L368.5 677.3L360.1 673.3L351.7 669.3L343.3 665.3L334.9 661.3L326.5 657.3L318.2 653.3L309.8 649.3L301.4 645.3L293.0 641.3L284.6 637.3L276.2 633.3L267.8 629.3L259.4 625.3L251.0 621.3L242.6 617.2L234.2 613.2L225.8 609.2L217.4 605.2L209.0 601.2L200.6 597.2L192.2 593.2L183.8 589.2L175.4 585.2L167.0 581.2L158.6 577.2M508.8 730.8L500.4 726.8L492.0 722.8L483.6 718.8L475.2 714.8L466.8 710.8L458.4 706.8L450.0 702.8L441.6 698.8L433.2 694.8L424.9 690.8L416.5 686.8L408.1 682.8L399.7 678.8L391.3 674.8L382.9 670.8L374.5 666.8L366.1 662.8L357.7 658.8L349.3 654.8L340.9 650.8L332.5 646.8L324.1 642.8L315.7 638.8L307.3 634.8L298.9 630.8L290.5 626.7L282.1 622.7L273.7 618.7L265.3 614.7L256.9 610.7L248.6 606.7L240.2 602.7L231.8 598.7L223.4 594.7L215.0 590.7L206.6 586.7L198.2 582.7L189.8 578.7L181.4 574.7L173.0 570.7M523.1 724.3L514.8 720.3L506.4 716.3L498.0 712.3L489.6 708.3L481.2 704.3L472.8 700.3L464.4 696.3L456.0 692.3L447.6 688.3L439.2 684.3L430.8 680.3L422.4 676.3L414.0 672.3L405.6 668.3L397.2 664.3L388.8 660.3L380.4 656.3L372.0 652.3L363.6 648.3L355.2 644.2L346.9 640.2L338.5 636.2L330.1 632.2L321.7 628.2L313.3 624.2L304.9 620.2L296.5 616.2L288.1 612.2L279.7 608.2L271.3 604.2L262.9 600.2L254.5 596.2L246.1 592.2L237.7 588.2L229.3 584.2L220.9 580.2L212.5 576.2L204.1 572.2L195.7 568.2L187.3 564.2M537.5 717.8L529.1 713.8L520.7 709.8L512.3 705.8L503.9 701.8L495.5 697.8L487.1 693.8L478.7 689.8L470.3 685.8L461.9 681.8L453.6 677.8L445.2 673.8L436.8 669.8L428.4 665.8L420.0 661.8L411.6 657.7L403.2 653.7L394.8 649.7L386.4 645.7L378.0 641.7L369.6 637.7L361.2 633.7L352.8 629.7L344.4 625.7L336.0 621.7L327.6 617.7L319.2 613.7L310.8 609.7L302.4 605.7L294.0 601.7L285.6 597.7L277.3 593.7L268.9 589.7L260.5 585.7L252.1 581.7L243.7 577.7L235.3 573.7L226.9 569.7L218.5 565.7L210.1 561.7L201.7 557.7M551.9 711.3L543.5 707.3L535.1 703.3L526.7 699.3L518.3 695.3L509.9 691.3L501.5 687.3L493.1 683.3L484.7 679.3L476.3 675.3L467.9 671.2L459.5 667.2L451.1 663.2L442.7 659.2L434.3 655.2L425.9 651.2L417.5 647.2L409.1 643.2L400.7 639.2L392.3 635.2L384.0 631.2L375.6 627.2L367.2 623.2L358.8 619.2L350.4 615.2L342.0 611.2L333.6 607.2L325.2 603.2L316.8 599.2L308.4 595.2L300.0 591.2L291.6 587.2L283.2 583.2L274.8 579.2L266.4 575.2L258.0 571.2L249.6 567.2L241.2 563.2L232.8 559.2L224.4 555.2L216.1 551.2M566.2 704.8L557.8 700.8L549.4 696.8L541.0 692.8L532.6 688.8L524.2 684.7L515.8 680.7L507.4 676.7L499.0 672.7L490.6 668.7L482.3 664.7L473.9 660.7L465.5 656.7L457.1 652.7L448.7 648.7L440.3 644.7L431.9 640.7L423.5 636.7L415.1 632.7L406.7 628.7L398.3 624.7L389.9 620.7L381.5 616.7L373.1 612.7L364.7 608.7L356.3 604.7L347.9 600.7L339.5 596.7L331.1 592.7L322.7 588.7L314.4 584.7L306.0 580.7L297.6 576.7L289.2 572.7L280.8 568.7L272.4 564.7L264.0 560.7L255.6 556.7L247.2 552.7L238.8 548.7L230.4 544.7M580.5 698.2L572.2 694.2L563.8 690.2L555.4 686.2L547.0 682.2L538.6 678.2L530.2 674.2L521.8 670.2L513.4 666.2L505.0 662.2L496.6 658.2L488.2 654.2L479.8 650.2L471.4 646.2L463.0 642.2L454.6 638.2L446.2 634.2L437.8 630.2L429.4 626.2L421.0 622.2L412.6 618.2L404.3 614.2L395.9 610.2L387.5 606.2L379.1 602.2L370.7 598.2L362.3 594.2L353.9 590.2L345.5 586.2L337.1 582.2L328.7 578.2L320.3 574.2L311.9 570.2L303.5 566.2L295.1 562.2L286.7 558.2L278.3 554.2L269.9 550.2L261.5 546.2L253.1 542.2L244.7 538.1M594.9 691.7L586.5 687.7L578.1 683.7L569.7 679.7L561.3 675.7L552.9 671.7L544.5 667.7L536.1 663.7L527.7 659.7L519.3 655.7L510.9 651.7L502.6 647.7L494.2 643.7L485.8 639.7L477.4 635.7L469.0 631.7L460.6 627.7L452.2 623.7L443.8 619.7L435.4 615.7L427.0 611.7L418.6 607.7L410.2 603.7L401.8 599.7L393.4 595.7L385.0 591.7L376.6 587.7L368.2 583.7L359.8 579.7L351.4 575.7L343.0 571.7L334.7 567.7L326.3 563.7L317.9 559.7L309.5 555.7L301.1 551.6L292.7 547.6L284.3 543.6L275.9 539.6L267.5 535.6L259.1 531.6M609.2 685.2L600.9 681.2L592.5 677.2L584.1 673.2L575.7 669.2L567.3 665.2L558.9 661.2L550.5 657.2L542.1 653.2L533.7 649.2L525.3 645.2L516.9 641.2L508.5 637.2L500.1 633.2L491.7 629.2L483.3 625.2L474.9 621.2L466.5 617.2L458.1 613.2L449.7 609.2L441.4 605.2L433.0 601.2L424.6 597.2L416.2 593.2L407.8 589.2L399.4 585.2L391.0 581.2L382.6 577.2L374.2 573.2L365.8 569.2L357.4 565.1L349.0 561.1L340.6 557.1L332.2 553.1L323.8 549.1L315.4 545.1L307.0 541.1L298.6 537.1L290.2 533.1L281.8 529.1L273.4 525.1M623.6 678.7L615.2 674.7L606.8 670.7L598.4 666.7L590.0 662.7L581.6 658.7L573.2 654.7L564.8 650.7L556.4 646.7L548.0 642.7L539.6 638.7L531.3 634.7L522.9 630.7L514.5 626.7L506.1 622.7L497.7 618.7L489.3 614.7L480.9 610.7L472.5 606.7L464.1 602.7L455.7 598.7L447.3 594.7L438.9 590.7L430.5 586.7L422.1 582.7L413.7 578.6L405.3 574.6L396.9 570.6L388.5 566.6L380.1 562.6L371.7 558.6L363.4 554.6L355.0 550.6L346.6 546.6L338.2 542.6L329.8 538.6L321.4 534.6L313.0 530.6L304.6 526.6L296.2 522.6L287.8 518.6M638.0 672.2L629.6 668.2L621.2 664.2L612.8 660.2L604.4 656.2L596.0 652.2L587.6 648.2L579.2 644.2L570.8 640.2L562.4 636.2L554.0 632.2L545.6 628.2L537.2 624.2L528.8 620.2L520.4 616.2L512.0 612.2L503.6 608.2L495.2 604.2L486.8 600.2L478.4 596.2L470.1 592.1L461.7 588.1L453.3 584.1L444.9 580.1L436.5 576.1L428.1 572.1L419.7 568.1L411.3 564.1L402.9 560.1L394.5 556.1L386.1 552.1L377.7 548.1L369.3 544.1L360.9 540.1L352.5 536.1L344.1 532.1L335.7 528.1L327.3 524.1L318.9 520.1L310.5 516.1L302.2 512.1M652.3 665.7L643.9 661.7L635.5 657.7L627.1 653.7L618.7 649.7L610.3 645.7L601.9 641.7L593.5 637.7L585.1 633.7L576.7 629.7L568.3 625.7L560.0 621.7L551.6 617.7L543.2 613.7L534.8 609.7L526.4 605.6L518.0 601.6L509.6 597.6L501.2 593.6L492.8 589.6L484.4 585.6L476.0 581.6L467.6 577.6L459.2 573.6L450.8 569.6L442.4 565.6L434.0 561.6L425.6 557.6L417.2 553.6L408.8 549.6L400.4 545.6L392.1 541.6L383.7 537.6L375.3 533.6L366.9 529.6L358.5 525.6L350.1 521.6L341.7 517.6L333.3 513.6L324.9 509.6L316.5 505.6M666.6 659.2L658.3 655.2L649.9 651.2L641.5 647.2L633.1 643.2L624.7 639.2L616.3 635.2L607.9 631.2L599.5 627.2L591.1 623.2L582.7 619.1L574.3 615.1L565.9 611.1L557.5 607.1L549.1 603.1L540.7 599.1L532.3 595.1L523.9 591.1L515.5 587.1L507.1 583.1L498.8 579.1L490.4 575.1L482.0 571.1L473.6 567.1L465.2 563.1L456.8 559.1L448.4 555.1L440.0 551.1L431.6 547.1L423.2 543.1L414.8 539.1L406.4 535.1L398.0 531.1L389.6 527.1L381.2 523.1L372.8 519.1L364.4 515.1L356.0 511.1L347.6 507.1L339.2 503.1L330.8 499.1M681.0 652.7L672.6 648.7L664.2 644.7L655.8 640.7L647.4 636.7L639.0 632.6L630.6 628.6L622.2 624.6L613.8 620.6L605.4 616.6L597.0 612.6L588.7 608.6L580.3 604.6L571.9 600.6L563.5 596.6L555.1 592.6L546.7 588.6L538.3 584.6L529.9 580.6L521.5 576.6L513.1 572.6L504.7 568.6L496.3 564.6L487.9 560.6L479.5 556.6L471.1 552.6L462.7 548.6L454.3 544.6L445.9 540.6L437.5 536.6L429.1 532.6L420.8 528.6L412.4 524.6L404.0 520.6L395.6 516.6L387.2 512.6L378.8 508.6L370.4 504.6L362.0 500.6L353.6 496.6L345.2 492.6M695.4 646.1L687.0 642.1L678.6 638.1L670.2 634.1L661.8 630.1L653.4 626.1L645.0 622.1L636.6 618.1L628.2 614.1L619.8 610.1L611.4 606.1L603.0 602.1L594.6 598.1L586.2 594.1L577.8 590.1L569.4 586.1L561.0 582.1L552.6 578.1L544.2 574.1L535.8 570.1L527.5 566.1L519.1 562.1L510.7 558.1L502.3 554.1L493.9 550.1L485.5 546.1L477.1 542.1L468.7 538.1L460.3 534.1L451.9 530.1L443.5 526.1L435.1 522.1L426.7 518.1L418.3 514.1L409.9 510.1L401.5 506.1L393.1 502.1L384.7 498.1L376.3 494.1L367.9 490.1L359.6 486.0M709.7 639.6L701.3 635.6L692.9 631.6L684.5 627.6L676.1 623.6L667.7 619.6L659.3 615.6L650.9 611.6L642.5 607.6L634.1 603.6L625.8 599.6L617.4 595.6L609.0 591.6L600.6 587.6L592.2 583.6L583.8 579.6L575.4 575.6L567.0 571.6L558.6 567.6L550.2 563.6L541.8 559.6L533.4 555.6L525.0 551.6L516.6 547.6L508.2 543.6L499.8 539.6L491.4 535.6L483.0 531.6L474.6 527.6L466.2 523.6L457.9 519.6L449.5 515.6L441.1 511.6L432.7 507.6L424.3 503.6L415.9 499.5L407.5 495.5L399.1 491.5L390.7 487.5L382.3 483.5L373.9 479.5M724.0 633.1L715.7 629.1L707.3 625.1L698.9 621.1L690.5 617.1L682.1 613.1L673.7 609.1L665.3 605.1L656.9 601.1L648.5 597.1L640.1 593.1L631.7 589.1L623.3 585.1L614.9 581.1L606.5 577.1L598.1 573.1L589.7 569.1L581.3 565.1L572.9 561.1L564.5 557.1L556.1 553.1L547.8 549.1L539.4 545.1L531.0 541.1L522.6 537.1L514.2 533.1L505.8 529.1L497.4 525.1L489.0 521.1L480.6 517.1L472.2 513.0L463.8 509.0L455.4 505.0L447.0 501.0L438.6 497.0L430.2 493.0L421.8 489.0L413.4 485.0L405.0 481.0L396.6 477.0L388.2 473.0M738.4 626.6L730.0 622.6L721.6 618.6L713.2 614.6L704.8 610.6L696.4 606.6L688.0 602.6L679.6 598.6L671.2 594.6L662.8 590.6L654.5 586.6L646.1 582.6L637.7 578.6L629.3 574.6L620.9 570.6L612.5 566.6L604.1 562.6L595.7 558.6L587.3 554.6L578.9 550.6L570.5 546.6L562.1 542.6L553.7 538.6L545.3 534.6L536.9 530.6L528.5 526.5L520.1 522.5L511.7 518.5L503.3 514.5L494.9 510.5L486.6 506.5L478.2 502.5L469.8 498.5L461.4 494.5L453.0 490.5L444.6 486.5L436.2 482.5L427.8 478.5L419.4 474.5L411.0 470.5L402.6 466.5M752.8 620.1L744.4 616.1L736.0 612.1L727.6 608.1L719.2 604.1L710.8 600.1L702.4 596.1L694.0 592.1L685.6 588.1L677.2 584.1L668.8 580.1L660.4 576.1L652.0 572.1L643.6 568.1L635.2 564.1L626.8 560.1L618.4 556.1L610.0 552.1L601.6 548.1L593.2 544.1L584.9 540.0L576.5 536.0L568.1 532.0L559.7 528.0L551.3 524.0L542.9 520.0L534.5 516.0L526.1 512.0L517.7 508.0L509.3 504.0L500.9 500.0L492.5 496.0L484.1 492.0L475.7 488.0L467.3 484.0L458.9 480.0L450.5 476.0L442.1 472.0L433.7 468.0L425.3 464.0L416.9 460.0M767.1 613.6L758.7 609.6L750.3 605.6L741.9 601.6L733.5 597.6L725.1 593.6L716.7 589.6L708.3 585.6L699.9 581.6L691.5 577.6L683.2 573.6L674.8 569.6L666.4 565.6L658.0 561.6L649.6 557.6L641.2 553.5L632.8 549.5L624.4 545.5L616.0 541.5L607.6 537.5L599.2 533.5L590.8 529.5L582.4 525.5L574.0 521.5L565.6 517.5L557.2 513.5L548.8 509.5L540.4 505.5L532.0 501.5L523.6 497.5L515.3 493.5L506.9 489.5L498.5 485.5L490.1 481.5L481.7 477.5L473.3 473.5L464.9 469.5L456.5 465.5L448.1 461.5L439.7 457.5L431.3 453.5M781.5 607.1L773.1 603.1L764.7 599.1L756.3 595.1L747.9 591.1L739.5 587.1L731.1 583.1L722.7 579.1L714.3 575.1L705.9 571.1L697.5 567.0L689.1 563.0L680.7 559.0L672.3 555.0L663.9 551.0L655.5 547.0L647.1 543.0L638.7 539.0L630.3 535.0L621.9 531.0L613.6 527.0L605.2 523.0L596.8 519.0L588.4 515.0L580.0 511.0L571.6 507.0L563.2 503.0L554.8 499.0L546.4 495.0L538.0 491.0L529.6 487.0L521.2 483.0L512.8 479.0L504.4 475.0L496.0 471.0L487.6 467.0L479.2 463.0L470.8 459.0L462.4 455.0L454.0 451.0L445.7 447.0M795.8 600.6L787.4 596.6L779.0 592.6L770.6 588.6L762.2 584.6L753.8 580.5L745.4 576.5L737.0 572.5L728.6 568.5L720.2 564.5L711.8 560.5L703.5 556.5L695.1 552.5L686.7 548.5L678.3 544.5L669.9 540.5L661.5 536.5L653.1 532.5L644.7 528.5L636.3 524.5L627.9 520.5L619.5 516.5L611.1 512.5L602.7 508.5L594.3 504.5L585.9 500.5L577.5 496.5L569.1 492.5L560.7 488.5L552.3 484.5L543.9 480.5L535.6 476.5L527.2 472.5L518.8 468.5L510.4 464.5L502.0 460.5L493.6 456.5L485.2 452.5L476.8 448.5L468.4 444.5L460.0 440.5"/>
<g>
<path fill="#9cbf6f" stroke="#9cbf6f" stroke-width="0.6" d="M451.4 517.5L443.0 519.8L457.4 512.0L465.8 509.7ZM465.8 509.7L457.4 512.0L471.7 504.2L480.1 501.8ZM480.1 501.8L471.7 504.2L486.1 496.4L494.4 494.0ZM486.1 496.4L477.7 498.5L492.0 490.7L500.4 488.6ZM500.4 488.6L492.0 490.7L506.4 482.9L514.8 480.8ZM514.8 480.8L506.4 482.9L520.7 475.2L529.1 473.0ZM529.1 473.0L520.7 475.2L535.1 467.4L543.5 465.2ZM543.5 465.2L535.1 467.4L549.4 459.6L557.8 457.4ZM549.4 459.6L541.0 461.4L555.4 453.6L563.8 451.8ZM563.8 451.8L555.4 453.6L569.7 445.9L578.1 444.1ZM578.1 444.1L569.7 445.9L584.1 438.1L592.5 436.3ZM592.5 436.3L584.1 438.1L598.4 430.4L606.8 428.5ZM606.8 428.5L598.4 430.4L612.8 422.6L621.2 420.7ZM612.8 422.6L604.4 424.2L618.7 416.5L627.1 414.9ZM627.1 414.9L618.7 416.5L633.1 408.7L641.5 407.1ZM641.5 407.1L633.1 408.7L647.4 401.0L655.8 399.4ZM655.8 399.4L647.4 401.0L661.8 393.3L670.2 391.6ZM670.2 391.6L661.8 393.3L676.1 385.6L684.5 383.9ZM661.8 393.3L653.4 394.6L667.7 386.9L676.1 385.6ZM676.1 385.6L667.7 386.9L682.1 379.2L690.5 377.8ZM690.5 377.8L682.1 379.2L696.4 371.5L704.8 370.1ZM704.8 370.1L696.4 371.5L710.8 363.8L719.2 362.4ZM719.2 362.4L710.8 363.8L725.1 356.1L733.5 354.7ZM725.1 356.1L716.7 357.2L731.1 349.5L739.5 348.4ZM739.5 348.4L731.1 349.5L745.4 341.8L753.8 340.7Z"/>
<path fill="#a5be6b" stroke="#a5be6b" stroke-width="0.6" d="M494.4 494.0L486.1 496.4L500.4 488.6L508.8 486.2ZM508.8 486.2L500.4 488.6L514.8 480.8L523.1 478.4ZM523.1 478.4L514.8 480.8L529.1 473.0L537.5 470.5ZM537.5 470.5L529.1 473.0L543.5 465.2L551.9 462.7ZM557.8 457.4L549.4 459.6L563.8 451.8L572.2 449.6ZM572.2 449.6L563.8 451.8L578.1 444.1L586.5 441.8ZM586.5 441.8L578.1 444.1L592.5 436.3L600.9 434.0ZM600.9 434.0L592.5 436.3L606.8 428.5L615.2 426.2ZM621.2 420.7L612.8 422.6L627.1 414.9L635.5 413.0ZM635.5 413.0L627.1 414.9L641.5 407.1L649.9 405.2ZM649.9 405.2L641.5 407.1L655.8 399.4L664.2 397.4ZM664.2 397.4L655.8 399.4L670.2 391.6L678.6 389.6ZM684.5 383.9L676.1 385.6L690.5 377.8L698.9 376.1ZM698.9 376.1L690.5 377.8L704.8 370.1L713.2 368.4ZM713.2 368.4L704.8 370.1L719.2 362.4L727.6 360.6ZM727.6 360.6L719.2 362.4L733.5 354.7L741.9 352.9ZM733.5 354.7L725.1 356.1L739.5 348.4L747.9 346.9ZM747.9 346.9L739.5 348.4L753.8 340.7L762.2 339.2Z"/>
<path fill="#aebe67" stroke="#aebe67" stroke-width="0.6" d="M551.9 462.7L543.5 465.2L557.8 457.4L566.2 454.9ZM566.2 454.9L557.8 457.4L572.2 449.6L580.5 447.0ZM580.5 447.0L572.2 449.6L586.5 441.8L594.9 439.2ZM594.9 439.2L586.5 441.8L600.9 434.0L609.2 431.4ZM609.2 431.4L600.9 434.0L615.2 426.2L623.6 423.6ZM615.2 426.2L606.8 428.5L621.2 420.7L629.6 418.4ZM629.6 418.4L621.2 420.7L635.5 413.0L643.9 410.7ZM643.9 410.7L635.5 413.0L649.9 405.2L658.3 402.9ZM658.3 402.9L649.9 405.2L664.2 397.4L672.6 395.1ZM672.6 395.1L664.2 397.4L678.6 389.6L687.0 387.3ZM678.6 389.6L670.2 391.6L684.5 383.9L692.9 381.9ZM692.9 381.9L684.5 383.9L698.9 376.1L707.3 374.1ZM707.3 374.1L698.9 376.1L713.2 368.4L721.6 366.3ZM721.6 366.3L713.2 368.4L727.6 360.6L736.0 358.5ZM736.0 358.5L727.6 360.6L741.9 352.9L750.3 350.8ZM741.9 352.9L733.5 354.7L747.9 346.9L756.3 345.2ZM756.3 345.2L747.9 346.9L762.2 339.2L770.6 337.4Z"/>
<path fill="#b7bd64" stroke="#b7bd64" stroke-width="0.6" d="M623.6 423.6L615.2 426.2L629.6 418.4L638.0 415.7ZM638.0 415.7L629.6 418.4L643.9 410.7L652.3 407.9ZM652.3 407.9L643.9 410.7L658.3 402.9L666.6 400.1ZM666.6 400.1L658.3 402.9L672.6 395.1L681.0 392.3ZM687.0 387.3L678.6 389.6L692.9 381.9L701.3 379.5ZM701.3 379.5L692.9 381.9L707.3 374.1L715.7 371.7ZM715.7 371.7L707.3 374.1L721.6 366.3L730.0 363.9ZM730.0 363.9L721.6 366.3L736.0 358.5L744.4 356.1ZM750.3 350.8L741.9 352.9L756.3 345.2L764.7 343.0ZM764.7 343.0L756.3 345.2L770.6 337.4L779.0 335.2Z"/>
<path fill="#c0bc60" stroke="#c0bc60" stroke-width="0.6" d="M681.0 392.3L672.6 395.1L687.0 387.3L695.4 384.4ZM695.4 384.4L687.0 387.3L701.3 379.5L709.7 376.6ZM709.7 376.6L701.3 379.5L715.7 371.7L724.0 368.8ZM724.0 368.8L715.7 371.7L730.0 363.9L738.4 361.0ZM738.4 361.0L730.0 363.9L744.4 356.1L752.8 353.1ZM744.4 356.1L736.0 358.5L750.3 350.8L758.7 348.3ZM758.7 348.3L750.3 350.8L764.7 343.0L773.1 340.5ZM773.1 340.5L764.7 343.0L779.0 335.2L787.4 332.7Z"/>
<path fill="#c8bc5d" stroke="#c8bc5d" stroke-width="0.6" d="M752.8 353.1L744.4 356.1L758.7 348.3L767.1 345.3ZM767.1 345.3L758.7 348.3L773.1 340.5L781.5 337.5ZM781.5 337.5L773.1 340.5L787.4 332.7L795.8 329.7Z"/>
<path fill="#92bf73" stroke="#92bf73" stroke-width="0.6" d="M443.0 519.8L434.6 521.8L449.0 514.0L457.4 512.0ZM457.4 512.0L449.0 514.0L463.3 506.2L471.7 504.2ZM471.7 504.2L463.3 506.2L477.7 498.5L486.1 496.4ZM492.0 490.7L483.6 492.4L498.0 484.6L506.4 482.9ZM506.4 482.9L498.0 484.6L512.3 476.9L520.7 475.2ZM520.7 475.2L512.3 476.9L526.7 469.1L535.1 467.4ZM535.1 467.4L526.7 469.1L541.0 461.4L549.4 459.6ZM541.0 461.4L532.6 462.8L547.0 455.1L555.4 453.6ZM555.4 453.6L547.0 455.1L561.3 447.4L569.7 445.9ZM569.7 445.9L561.3 447.4L575.7 439.6L584.1 438.1ZM584.1 438.1L575.7 439.6L590.0 431.9L598.4 430.4ZM598.4 430.4L590.0 431.9L604.4 424.2L612.8 422.6ZM604.4 424.2L596.0 425.4L610.3 417.7L618.7 416.5ZM618.7 416.5L610.3 417.7L624.7 410.0L633.1 408.7ZM633.1 408.7L624.7 410.0L639.0 402.3L647.4 401.0ZM647.4 401.0L639.0 402.3L653.4 394.6L661.8 393.3ZM653.4 394.6L645.0 395.6L659.3 387.9L667.7 386.9ZM667.7 386.9L659.3 387.9L673.7 380.2L682.1 379.2ZM682.1 379.2L673.7 380.2L688.0 372.5L696.4 371.5ZM696.4 371.5L688.0 372.5L702.4 364.9L710.8 363.8ZM710.8 363.8L702.4 364.9L716.7 357.2L725.1 356.1ZM702.4 364.9L694.0 365.7L708.3 358.0L716.7 357.2ZM716.7 357.2L708.3 358.0L722.7 350.3L731.1 349.5ZM731.1 349.5L722.7 350.3L737.0 342.7L745.4 341.8Z"/>
<path fill="#87bf77" stroke="#87bf77" stroke-width="0.6" d="M434.6 521.8L426.2 523.4L440.6 515.6L449.0 514.0ZM449.0 514.0L440.6 515.6L454.9 507.9L463.3 506.2ZM463.3 506.2L454.9 507.9L469.3 500.1L477.7 498.5ZM477.7 498.5L469.3 500.1L483.6 492.4L492.0 490.7ZM483.6 492.4L475.2 493.7L489.6 486.0L498.0 484.6ZM498.0 484.6L489.6 486.0L503.9 478.2L512.3 476.9ZM512.3 476.9L503.9 478.2L518.3 470.5L526.7 469.1ZM526.7 469.1L518.3 470.5L532.6 462.8L541.0 461.4ZM532.6 462.8L524.2 463.9L538.6 456.2L547.0 455.1ZM547.0 455.1L538.6 456.2L552.9 448.5L561.3 447.4ZM561.3 447.4L552.9 448.5L567.3 440.8L575.7 439.6ZM575.7 439.6L567.3 440.8L581.6 433.1L590.0 431.9ZM590.0 431.9L581.6 433.1L596.0 425.4L604.4 424.2ZM581.6 433.1L573.2 434.0L587.6 426.3L596.0 425.4ZM596.0 425.4L587.6 426.3L601.9 418.6L610.3 417.7ZM610.3 417.7L601.9 418.6L616.3 410.9L624.7 410.0ZM624.7 410.0L616.3 410.9L630.6 403.3L639.0 402.3ZM639.0 402.3L630.6 403.3L645.0 395.6L653.4 394.6ZM630.6 403.3L622.2 403.9L636.6 396.3L645.0 395.6ZM645.0 395.6L636.6 396.3L650.9 388.6L659.3 387.9ZM659.3 387.9L650.9 388.6L665.3 381.0L673.7 380.2ZM673.7 380.2L665.3 381.0L679.6 373.3L688.0 372.5ZM688.0 372.5L679.6 373.3L694.0 365.7L702.4 364.9ZM679.6 373.3L671.2 373.8L685.6 366.2L694.0 365.7ZM694.0 365.7L685.6 366.2L699.9 358.5L708.3 358.0ZM708.3 358.0L699.9 358.5L714.3 350.9L722.7 350.3ZM722.7 350.3L714.3 350.9L728.6 343.3L737.0 342.7Z"/>
<path fill="#7cbf7b" stroke="#7cbf7b" stroke-width="0.6" d="M426.2 523.4L417.8 524.6L432.2 516.9L440.6 515.6ZM440.6 515.6L432.2 516.9L446.5 509.1L454.9 507.9ZM454.9 507.9L446.5 509.1L460.9 501.4L469.3 500.1ZM469.3 500.1L460.9 501.4L475.2 493.7L483.6 492.4ZM460.9 501.4L452.5 502.4L466.8 494.7L475.2 493.7ZM475.2 493.7L466.8 494.7L481.2 487.0L489.6 486.0ZM489.6 486.0L481.2 487.0L495.5 479.3L503.9 478.2ZM503.9 478.2L495.5 479.3L509.9 471.6L518.3 470.5ZM518.3 470.5L509.9 471.6L524.2 463.9L532.6 462.8ZM509.9 471.6L501.5 472.4L515.8 464.7L524.2 463.9ZM524.2 463.9L515.8 464.7L530.2 457.0L538.6 456.2ZM538.6 456.2L530.2 457.0L544.5 449.3L552.9 448.5ZM552.9 448.5L544.5 449.3L558.9 441.6L567.3 440.8ZM567.3 440.8L558.9 441.6L573.2 434.0L581.6 433.1ZM558.9 441.6L550.5 442.2L564.8 434.6L573.2 434.0ZM573.2 434.0L564.8 434.6L579.2 426.9L587.6 426.3ZM587.6 426.3L579.2 426.9L593.5 419.2L601.9 418.6ZM601.9 418.6L593.5 419.2L607.9 411.6L616.3 410.9ZM616.3 410.9L607.9 411.6L622.2 403.9L630.6 403.3ZM607.9 411.6L599.5 412.0L613.8 404.3L622.2 403.9ZM622.2 403.9L613.8 404.3L628.2 396.7L636.6 396.3ZM636.6 396.3L628.2 396.7L642.5 389.1L650.9 388.6ZM650.9 388.6L642.5 389.1L656.9 381.4L665.3 381.0ZM665.3 381.0L656.9 381.4L671.2 373.8L679.6 373.3ZM656.9 381.4L648.5 381.7L662.8 374.1L671.2 373.8ZM671.2 373.8L662.8 374.1L677.2 366.4L685.6 366.2ZM685.6 366.2L677.2 366.4L691.5 358.8L699.9 358.5ZM699.9 358.5L691.5 358.8L705.9 351.2L714.3 350.9ZM714.3 350.9L705.9 351.2L720.2 343.6L728.6 343.3ZM705.9 351.2L697.5 351.3L711.8 343.7L720.2 343.6Z"/>
<path fill="#71bf80" stroke="#71bf80" stroke-width="0.6" d="M417.8 524.6L409.4 525.5L423.8 517.8L432.2 516.9ZM432.2 516.9L423.8 517.8L438.1 510.1L446.5 509.1ZM446.5 509.1L438.1 510.1L452.5 502.4L460.9 501.4ZM438.1 510.1L429.7 510.7L444.1 503.1L452.5 502.4ZM452.5 502.4L444.1 503.1L458.4 495.4L466.8 494.7ZM466.8 494.7L458.4 495.4L472.8 487.7L481.2 487.0ZM481.2 487.0L472.8 487.7L487.1 480.0L495.5 479.3ZM495.5 479.3L487.1 480.0L501.5 472.4L509.9 471.6ZM487.1 480.0L478.7 480.5L493.1 472.8L501.5 472.4ZM501.5 472.4L493.1 472.8L507.4 465.2L515.8 464.7ZM515.8 464.7L507.4 465.2L521.8 457.5L530.2 457.0ZM530.2 457.0L521.8 457.5L536.1 449.9L544.5 449.3ZM544.5 449.3L536.1 449.9L550.5 442.2L558.9 441.6ZM536.1 449.9L527.7 450.2L542.1 442.5L550.5 442.2ZM550.5 442.2L542.1 442.5L556.4 434.9L564.8 434.6ZM564.8 434.6L556.4 434.9L570.8 427.3L579.2 426.9ZM579.2 426.9L570.8 427.3L585.1 419.6L593.5 419.2ZM593.5 419.2L585.1 419.6L599.5 412.0L607.9 411.6ZM585.1 419.6L576.7 419.7L591.1 412.1L599.5 412.0ZM599.5 412.0L591.1 412.1L605.4 404.5L613.8 404.3ZM613.8 404.3L605.4 404.5L619.8 396.9L628.2 396.7ZM628.2 396.7L619.8 396.9L634.1 389.3L642.5 389.1ZM642.5 389.1L634.1 389.3L648.5 381.7L656.9 381.4ZM634.1 389.3L625.8 389.3L640.1 381.7L648.5 381.7ZM648.5 381.7L640.1 381.7L654.5 374.1L662.8 374.1ZM662.8 374.1L654.5 374.1L668.8 366.5L677.2 366.4ZM677.2 366.4L668.8 366.5L683.2 358.9L691.5 358.8ZM691.5 358.8L683.2 358.9L697.5 351.3L705.9 351.2ZM683.2 358.9L674.8 358.7L689.1 351.1L697.5 351.3ZM697.5 351.3L689.1 351.1L703.5 343.6L711.8 343.7Z"/>
<path fill="#65be86" stroke="#65be86" stroke-width="0.6" d="M409.4 525.5L401.0 526.1L415.4 518.4L423.8 517.8ZM423.8 517.8L415.4 518.4L429.7 510.7L438.1 510.1ZM429.7 510.7L421.3 511.1L435.7 503.5L444.1 503.1ZM444.1 503.1L435.7 503.5L450.0 495.8L458.4 495.4ZM458.4 495.4L450.0 495.8L464.4 488.2L472.8 487.7ZM472.8 487.7L464.4 488.2L478.7 480.5L487.1 480.0ZM464.4 488.2L456.0 488.3L470.3 480.7L478.7 480.5ZM478.7 480.5L470.3 480.7L484.7 473.1L493.1 472.8ZM493.1 472.8L484.7 473.1L499.0 465.4L507.4 465.2ZM507.4 465.2L499.0 465.4L513.4 457.8L521.8 457.5ZM521.8 457.5L513.4 457.8L527.7 450.2L536.1 449.9ZM513.4 457.8L505.0 457.8L519.3 450.2L527.7 450.2ZM527.7 450.2L519.3 450.2L533.7 442.6L542.1 442.5ZM542.1 442.5L533.7 442.6L548.0 435.0L556.4 434.9ZM556.4 434.9L548.0 435.0L562.4 427.4L570.8 427.3ZM570.8 427.3L562.4 427.4L576.7 419.7L585.1 419.6ZM562.4 427.4L554.0 427.2L568.3 419.6L576.7 419.7ZM576.7 419.7L568.3 419.6L582.7 412.0L591.1 412.1ZM591.1 412.1L582.7 412.0L597.0 404.4L605.4 404.5ZM605.4 404.5L597.0 404.4L611.4 396.9L619.8 396.9ZM619.8 396.9L611.4 396.9L625.8 389.3L634.1 389.3ZM597.0 404.4L588.7 404.2L603.0 396.6L611.4 396.9ZM611.4 396.9L603.0 396.6L617.4 389.0L625.8 389.3ZM625.8 389.3L617.4 389.0L631.7 381.4L640.1 381.7ZM640.1 381.7L631.7 381.4L646.1 373.9L654.5 374.1ZM654.5 374.1L646.1 373.9L660.4 366.3L668.8 366.5ZM668.8 366.5L660.4 366.3L674.8 358.7L683.2 358.9ZM646.1 373.9L637.7 373.5L652.0 365.9L660.4 366.3ZM660.4 366.3L652.0 365.9L666.4 358.3L674.8 358.7ZM674.8 358.7L666.4 358.3L680.7 350.8L689.1 351.1ZM689.1 351.1L680.7 350.8L695.1 343.2L703.5 343.6ZM680.7 350.8L672.3 350.2L686.7 342.7L695.1 343.2Z"/>
<path fill="#59bd8c" stroke="#59bd8c" stroke-width="0.6" d="M401.0 526.1L392.6 526.4L407.0 518.8L415.4 518.4ZM415.4 518.4L407.0 518.8L421.3 511.1L429.7 510.7ZM392.6 526.4L384.2 526.5L398.6 518.9L407.0 518.8ZM407.0 518.8L398.6 518.9L412.9 511.2L421.3 511.1ZM421.3 511.1L412.9 511.2L427.3 503.6L435.7 503.5ZM435.7 503.5L427.3 503.6L441.6 496.0L450.0 495.8ZM450.0 495.8L441.6 496.0L456.0 488.3L464.4 488.2ZM441.6 496.0L433.2 495.9L447.6 488.3L456.0 488.3ZM456.0 488.3L447.6 488.3L461.9 480.7L470.3 480.7ZM470.3 480.7L461.9 480.7L476.3 473.0L484.7 473.1ZM484.7 473.1L476.3 473.0L490.6 465.4L499.0 465.4ZM499.0 465.4L490.6 465.4L505.0 457.8L513.4 457.8ZM476.3 473.0L467.9 472.8L482.3 465.2L490.6 465.4ZM490.6 465.4L482.3 465.2L496.6 457.6L505.0 457.8ZM505.0 457.8L496.6 457.6L510.9 450.0L519.3 450.2ZM519.3 450.2L510.9 450.0L525.3 442.4L533.7 442.6ZM533.7 442.6L525.3 442.4L539.6 434.8L548.0 435.0ZM548.0 435.0L539.6 434.8L554.0 427.2L562.4 427.4ZM525.3 442.4L516.9 442.0L531.3 434.5L539.6 434.8ZM539.6 434.8L531.3 434.5L545.6 426.9L554.0 427.2ZM554.0 427.2L545.6 426.9L560.0 419.3L568.3 419.6ZM568.3 419.6L560.0 419.3L574.3 411.7L582.7 412.0ZM582.7 412.0L574.3 411.7L588.7 404.2L597.0 404.4ZM560.0 419.3L551.6 418.8L565.9 411.2L574.3 411.7ZM574.3 411.7L565.9 411.2L580.3 403.7L588.7 404.2ZM588.7 404.2L580.3 403.7L594.6 396.1L603.0 396.6ZM603.0 396.6L594.6 396.1L609.0 388.6L617.4 389.0ZM617.4 389.0L609.0 388.6L623.3 381.0L631.7 381.4ZM631.7 381.4L623.3 381.0L637.7 373.5L646.1 373.9ZM609.0 388.6L600.6 387.9L614.9 380.4L623.3 381.0ZM623.3 381.0L614.9 380.4L629.3 372.9L637.7 373.5ZM637.7 373.5L629.3 372.9L643.6 365.3L652.0 365.9ZM652.0 365.9L643.6 365.3L658.0 357.8L666.4 358.3ZM666.4 358.3L658.0 357.8L672.3 350.2L680.7 350.8ZM643.6 365.3L635.2 364.6L649.6 357.1L658.0 357.8ZM658.0 357.8L649.6 357.1L663.9 349.5L672.3 350.2ZM672.3 350.2L663.9 349.5L678.3 342.0L686.7 342.7Z"/>
<path fill="#4dbc92" stroke="#4dbc92" stroke-width="0.6" d="M384.2 526.5L375.8 526.3L390.2 518.7L398.6 518.9ZM398.6 518.9L390.2 518.7L404.5 511.1L412.9 511.2ZM412.9 511.2L404.5 511.1L418.9 503.5L427.3 503.6ZM427.3 503.6L418.9 503.5L433.2 495.9L441.6 496.0ZM404.5 511.1L396.1 510.8L410.5 503.2L418.9 503.5ZM418.9 503.5L410.5 503.2L424.9 495.6L433.2 495.9ZM433.2 495.9L424.9 495.6L439.2 488.0L447.6 488.3ZM447.6 488.3L439.2 488.0L453.6 480.4L461.9 480.7ZM461.9 480.7L453.6 480.4L467.9 472.8L476.3 473.0ZM453.6 480.4L445.2 479.9L459.5 472.3L467.9 472.8ZM467.9 472.8L459.5 472.3L473.9 464.8L482.3 465.2ZM482.3 465.2L473.9 464.8L488.2 457.2L496.6 457.6ZM496.6 457.6L488.2 457.2L502.6 449.6L510.9 450.0ZM510.9 450.0L502.6 449.6L516.9 442.0L525.3 442.4ZM488.2 457.2L479.8 456.6L494.2 449.0L502.6 449.6ZM502.6 449.6L494.2 449.0L508.5 441.5L516.9 442.0ZM516.9 442.0L508.5 441.5L522.9 433.9L531.3 434.5ZM531.3 434.5L522.9 433.9L537.2 426.4L545.6 426.9ZM545.6 426.9L537.2 426.4L551.6 418.8L560.0 419.3ZM522.9 433.9L514.5 433.2L528.8 425.6L537.2 426.4ZM537.2 426.4L528.8 425.6L543.2 418.1L551.6 418.8ZM551.6 418.8L543.2 418.1L557.5 410.6L565.9 411.2ZM565.9 411.2L557.5 410.6L571.9 403.0L580.3 403.7ZM580.3 403.7L571.9 403.0L586.2 395.5L594.6 396.1ZM594.6 396.1L586.2 395.5L600.6 387.9L609.0 388.6ZM557.5 410.6L549.1 409.7L563.5 402.2L571.9 403.0ZM571.9 403.0L563.5 402.2L577.8 394.7L586.2 395.5ZM586.2 395.5L577.8 394.7L592.2 387.1L600.6 387.9ZM600.6 387.9L592.2 387.1L606.5 379.6L614.9 380.4ZM614.9 380.4L606.5 379.6L620.9 372.1L629.3 372.9ZM629.3 372.9L620.9 372.1L635.2 364.6L643.6 365.3ZM592.2 387.1L583.8 386.2L598.1 378.7L606.5 379.6ZM606.5 379.6L598.1 378.7L612.5 371.2L620.9 372.1ZM620.9 372.1L612.5 371.2L626.8 363.7L635.2 364.6ZM635.2 364.6L626.8 363.7L641.2 356.2L649.6 357.1ZM649.6 357.1L641.2 356.2L655.5 348.7L663.9 349.5ZM663.9 349.5L655.5 348.7L669.9 341.1L678.3 342.0ZM626.8 363.7L618.4 362.6L632.8 355.1L641.2 356.2ZM641.2 356.2L632.8 355.1L647.1 347.6L655.5 348.7ZM655.5 348.7L647.1 347.6L661.5 340.1L669.9 341.1Z"/>
<path fill="#42bb98" stroke="#42bb98" stroke-width="0.6" d="M375.8 526.3L367.4 526.0L381.8 518.4L390.2 518.7ZM390.2 518.7L381.8 518.4L396.1 510.8L404.5 511.1ZM367.4 526.0L359.1 525.4L373.4 517.8L381.8 518.4ZM381.8 518.4L373.4 517.8L387.8 510.2L396.1 510.8ZM396.1 510.8L387.8 510.2L402.1 502.6L410.5 503.2ZM410.5 503.2L402.1 502.6L416.5 495.1L424.9 495.6ZM424.9 495.6L416.5 495.1L430.8 487.5L439.2 488.0ZM439.2 488.0L430.8 487.5L445.2 479.9L453.6 480.4ZM402.1 502.6L393.7 501.9L408.1 494.4L416.5 495.1ZM416.5 495.1L408.1 494.4L422.4 486.8L430.8 487.5ZM430.8 487.5L422.4 486.8L436.8 479.3L445.2 479.9ZM445.2 479.9L436.8 479.3L451.1 471.7L459.5 472.3ZM459.5 472.3L451.1 471.7L465.5 464.1L473.9 464.8ZM473.9 464.8L465.5 464.1L479.8 456.6L488.2 457.2ZM451.1 471.7L442.7 470.9L457.1 463.3L465.5 464.1ZM465.5 464.1L457.1 463.3L471.4 455.8L479.8 456.6ZM479.8 456.6L471.4 455.8L485.8 448.3L494.2 449.0ZM494.2 449.0L485.8 448.3L500.1 440.7L508.5 441.5ZM508.5 441.5L500.1 440.7L514.5 433.2L522.9 433.9ZM485.8 448.3L477.4 447.3L491.7 439.8L500.1 440.7ZM500.1 440.7L491.7 439.8L506.1 432.3L514.5 433.2ZM514.5 433.2L506.1 432.3L520.4 424.8L528.8 425.6ZM528.8 425.6L520.4 424.8L534.8 417.2L543.2 418.1ZM543.2 418.1L534.8 417.2L549.1 409.7L557.5 410.6ZM520.4 424.8L512.0 423.7L526.4 416.2L534.8 417.2ZM534.8 417.2L526.4 416.2L540.7 408.7L549.1 409.7ZM549.1 409.7L540.7 408.7L555.1 401.2L563.5 402.2ZM563.5 402.2L555.1 401.2L569.4 393.7L577.8 394.7ZM577.8 394.7L569.4 393.7L583.8 386.2L592.2 387.1ZM555.1 401.2L546.7 400.1L561.0 392.6L569.4 393.7ZM569.4 393.7L561.0 392.6L575.4 385.1L583.8 386.2ZM583.8 386.2L575.4 385.1L589.7 377.6L598.1 378.7ZM598.1 378.7L589.7 377.6L604.1 370.1L612.5 371.2ZM612.5 371.2L604.1 370.1L618.4 362.6L626.8 363.7ZM589.7 377.6L581.3 376.4L595.7 368.9L604.1 370.1ZM604.1 370.1L595.7 368.9L610.0 361.4L618.4 362.6ZM618.4 362.6L610.0 361.4L624.4 353.9L632.8 355.1ZM632.8 355.1L624.4 353.9L638.7 346.5L647.1 347.6ZM647.1 347.6L638.7 346.5L653.1 339.0L661.5 340.1ZM610.0 361.4L601.6 360.1L616.0 352.6L624.4 353.9ZM624.4 353.9L616.0 352.6L630.3 345.2L638.7 346.5ZM638.7 346.5L630.3 345.2L644.7 337.7L653.1 339.0Z"/>
<path fill="#38b99e" stroke="#38b99e" stroke-width="0.6" d="M359.1 525.4L350.7 524.6L365.0 517.0L373.4 517.8ZM373.4 517.8L365.0 517.0L379.4 509.5L387.8 510.2ZM387.8 510.2L379.4 509.5L393.7 501.9L402.1 502.6ZM365.0 517.0L356.6 516.1L371.0 508.6L379.4 509.5ZM379.4 509.5L371.0 508.6L385.3 501.0L393.7 501.9ZM393.7 501.9L385.3 501.0L399.7 493.5L408.1 494.4ZM408.1 494.4L399.7 493.5L414.0 486.0L422.4 486.8ZM422.4 486.8L414.0 486.0L428.4 478.4L436.8 479.3ZM436.8 479.3L428.4 478.4L442.7 470.9L451.1 471.7ZM399.7 493.5L391.3 492.5L405.6 484.9L414.0 486.0ZM414.0 486.0L405.6 484.9L420.0 477.4L428.4 478.4ZM428.4 478.4L420.0 477.4L434.3 469.9L442.7 470.9ZM442.7 470.9L434.3 469.9L448.7 462.4L457.1 463.3ZM457.1 463.3L448.7 462.4L463.0 454.9L471.4 455.8ZM471.4 455.8L463.0 454.9L477.4 447.3L485.8 448.3ZM434.3 469.9L425.9 468.8L440.3 461.3L448.7 462.4ZM448.7 462.4L440.3 461.3L454.6 453.7L463.0 454.9ZM463.0 454.9L454.6 453.7L469.0 446.2L477.4 447.3ZM477.4 447.3L469.0 446.2L483.3 438.7L491.7 439.8ZM491.7 439.8L483.3 438.7L497.7 431.2L506.1 432.3ZM506.1 432.3L497.7 431.2L512.0 423.7L520.4 424.8ZM469.0 446.2L460.6 445.0L474.9 437.5L483.3 438.7ZM483.3 438.7L474.9 437.5L489.3 430.0L497.7 431.2ZM497.7 431.2L489.3 430.0L503.6 422.5L512.0 423.7ZM512.0 423.7L503.6 422.5L518.0 415.0L526.4 416.2ZM526.4 416.2L518.0 415.0L532.3 407.6L540.7 408.7ZM540.7 408.7L532.3 407.6L546.7 400.1L555.1 401.2ZM503.6 422.5L495.2 421.2L509.6 413.7L518.0 415.0ZM518.0 415.0L509.6 413.7L523.9 406.3L532.3 407.6ZM532.3 407.6L523.9 406.3L538.3 398.8L546.7 400.1ZM546.7 400.1L538.3 398.8L552.6 391.3L561.0 392.6ZM561.0 392.6L552.6 391.3L567.0 383.8L575.4 385.1ZM575.4 385.1L567.0 383.8L581.3 376.4L589.7 377.6ZM523.9 406.3L515.5 404.9L529.9 397.4L538.3 398.8ZM538.3 398.8L529.9 397.4L544.2 389.9L552.6 391.3ZM552.6 391.3L544.2 389.9L558.6 382.5L567.0 383.8ZM567.0 383.8L558.6 382.5L572.9 375.0L581.3 376.4ZM581.3 376.4L572.9 375.0L587.3 367.5L595.7 368.9ZM595.7 368.9L587.3 367.5L601.6 360.1L610.0 361.4ZM558.6 382.5L550.2 381.0L564.5 373.5L572.9 375.0ZM572.9 375.0L564.5 373.5L578.9 366.1L587.3 367.5ZM587.3 367.5L578.9 366.1L593.2 358.6L601.6 360.1ZM601.6 360.1L593.2 358.6L607.6 351.2L616.0 352.6ZM616.0 352.6L607.6 351.2L621.9 343.7L630.3 345.2ZM630.3 345.2L621.9 343.7L636.3 336.3L644.7 337.7ZM593.2 358.6L584.9 357.1L599.2 349.6L607.6 351.2ZM607.6 351.2L599.2 349.6L613.6 342.2L621.9 343.7ZM621.9 343.7L613.6 342.2L627.9 334.8L636.3 336.3ZM613.6 342.2L605.2 340.6L619.5 333.1L627.9 334.8Z"/>
<path fill="#2eb7a4" stroke="#2eb7a4" stroke-width="0.6" d="M350.7 524.6L342.3 523.7L356.6 516.1L365.0 517.0ZM342.3 523.7L333.9 522.6L348.2 515.0L356.6 516.1ZM356.6 516.1L348.2 515.0L362.6 507.5L371.0 508.6ZM371.0 508.6L362.6 507.5L376.9 500.0L385.3 501.0ZM385.3 501.0L376.9 500.0L391.3 492.5L399.7 493.5ZM348.2 515.0L339.8 513.8L354.2 506.3L362.6 507.5ZM362.6 507.5L354.2 506.3L368.5 498.8L376.9 500.0ZM376.9 500.0L368.5 498.8L382.9 491.3L391.3 492.5ZM391.3 492.5L382.9 491.3L397.2 483.8L405.6 484.9ZM405.6 484.9L397.2 483.8L411.6 476.3L420.0 477.4ZM420.0 477.4L411.6 476.3L425.9 468.8L434.3 469.9ZM382.9 491.3L374.5 490.0L388.8 482.5L397.2 483.8ZM397.2 483.8L388.8 482.5L403.2 475.0L411.6 476.3ZM411.6 476.3L403.2 475.0L417.5 467.5L425.9 468.8ZM425.9 468.8L417.5 467.5L431.9 460.0L440.3 461.3ZM440.3 461.3L431.9 460.0L446.2 452.5L454.6 453.7ZM454.6 453.7L446.2 452.5L460.6 445.0L469.0 446.2ZM417.5 467.5L409.1 466.1L423.5 458.6L431.9 460.0ZM431.9 460.0L423.5 458.6L437.8 451.1L446.2 452.5ZM446.2 452.5L437.8 451.1L452.2 443.6L460.6 445.0ZM460.6 445.0L452.2 443.6L466.5 436.2L474.9 437.5ZM474.9 437.5L466.5 436.2L480.9 428.7L489.3 430.0ZM489.3 430.0L480.9 428.7L495.2 421.2L503.6 422.5ZM437.8 451.1L429.4 449.6L443.8 442.2L452.2 443.6ZM452.2 443.6L443.8 442.2L458.1 434.7L466.5 436.2ZM466.5 436.2L458.1 434.7L472.5 427.2L480.9 428.7ZM480.9 428.7L472.5 427.2L486.8 419.8L495.2 421.2ZM495.2 421.2L486.8 419.8L501.2 412.3L509.6 413.7ZM509.6 413.7L501.2 412.3L515.5 404.9L523.9 406.3ZM472.5 427.2L464.1 425.7L478.4 418.2L486.8 419.8ZM486.8 419.8L478.4 418.2L492.8 410.8L501.2 412.3ZM501.2 412.3L492.8 410.8L507.1 403.3L515.5 404.9ZM515.5 404.9L507.1 403.3L521.5 395.9L529.9 397.4ZM529.9 397.4L521.5 395.9L535.8 388.4L544.2 389.9ZM544.2 389.9L535.8 388.4L550.2 381.0L558.6 382.5ZM507.1 403.3L498.8 401.7L513.1 394.2L521.5 395.9ZM521.5 395.9L513.1 394.2L527.5 386.8L535.8 388.4ZM535.8 388.4L527.5 386.8L541.8 379.4L550.2 381.0ZM550.2 381.0L541.8 379.4L556.1 371.9L564.5 373.5ZM564.5 373.5L556.1 371.9L570.5 364.5L578.9 366.1ZM578.9 366.1L570.5 364.5L584.9 357.1L593.2 358.6ZM527.5 386.8L519.1 385.1L533.4 377.7L541.8 379.4ZM541.8 379.4L533.4 377.7L547.8 370.3L556.1 371.9ZM556.1 371.9L547.8 370.3L562.1 362.8L570.5 364.5ZM570.5 364.5L562.1 362.8L576.5 355.4L584.9 357.1ZM584.9 357.1L576.5 355.4L590.8 348.0L599.2 349.6ZM599.2 349.6L590.8 348.0L605.2 340.6L613.6 342.2ZM562.1 362.8L553.7 361.1L568.1 353.7L576.5 355.4ZM576.5 355.4L568.1 353.7L582.4 346.2L590.8 348.0ZM590.8 348.0L582.4 346.2L596.8 338.8L605.2 340.6ZM605.2 340.6L596.8 338.8L611.1 331.4L619.5 333.1ZM582.4 346.2L574.0 344.4L588.4 337.0L596.8 338.8ZM596.8 338.8L588.4 337.0L602.7 329.6L611.1 331.4Z"/>
<path fill="#25b5a9" stroke="#25b5a9" stroke-width="0.6" d="M333.9 522.6L325.5 521.3L339.8 513.8L348.2 515.0ZM325.5 521.3L317.1 519.9L331.4 512.4L339.8 513.8ZM339.8 513.8L331.4 512.4L345.8 504.9L354.2 506.3ZM354.2 506.3L345.8 504.9L360.1 497.4L368.5 498.8ZM368.5 498.8L360.1 497.4L374.5 490.0L382.9 491.3ZM331.4 512.4L323.0 510.9L337.4 503.5L345.8 504.9ZM345.8 504.9L337.4 503.5L351.7 496.0L360.1 497.4ZM360.1 497.4L351.7 496.0L366.1 488.5L374.5 490.0ZM374.5 490.0L366.1 488.5L380.4 481.0L388.8 482.5ZM388.8 482.5L380.4 481.0L394.8 473.6L403.2 475.0ZM403.2 475.0L394.8 473.6L409.1 466.1L417.5 467.5ZM351.7 496.0L343.3 494.4L357.7 486.9L366.1 488.5ZM366.1 488.5L357.7 486.9L372.0 479.5L380.4 481.0ZM380.4 481.0L372.0 479.5L386.4 472.0L394.8 473.6ZM394.8 473.6L386.4 472.0L400.7 464.5L409.1 466.1ZM409.1 466.1L400.7 464.5L415.1 457.1L423.5 458.6ZM423.5 458.6L415.1 457.1L429.4 449.6L437.8 451.1ZM386.4 472.0L378.0 470.4L392.3 462.9L400.7 464.5ZM400.7 464.5L392.3 462.9L406.7 455.5L415.1 457.1ZM415.1 457.1L406.7 455.5L421.0 448.0L429.4 449.6ZM429.4 449.6L421.0 448.0L435.4 440.6L443.8 442.2ZM443.8 442.2L435.4 440.6L449.7 433.1L458.1 434.7ZM458.1 434.7L449.7 433.1L464.1 425.7L472.5 427.2ZM406.7 455.5L398.3 453.7L412.6 446.3L421.0 448.0ZM421.0 448.0L412.6 446.3L427.0 438.9L435.4 440.6ZM435.4 440.6L427.0 438.9L441.4 431.4L449.7 433.1ZM449.7 433.1L441.4 431.4L455.7 424.0L464.1 425.7ZM464.1 425.7L455.7 424.0L470.1 416.6L478.4 418.2ZM478.4 418.2L470.1 416.6L484.4 409.1L492.8 410.8ZM492.8 410.8L484.4 409.1L498.8 401.7L507.1 403.3ZM441.4 431.4L433.0 429.6L447.3 422.2L455.7 424.0ZM455.7 424.0L447.3 422.2L461.7 414.8L470.1 416.6ZM470.1 416.6L461.7 414.8L476.0 407.4L484.4 409.1ZM484.4 409.1L476.0 407.4L490.4 399.9L498.8 401.7ZM498.8 401.7L490.4 399.9L504.7 392.5L513.1 394.2ZM513.1 394.2L504.7 392.5L519.1 385.1L527.5 386.8ZM461.7 414.8L453.3 412.9L467.6 405.5L476.0 407.4ZM476.0 407.4L467.6 405.5L482.0 398.1L490.4 399.9ZM490.4 399.9L482.0 398.1L496.3 390.7L504.7 392.5ZM504.7 392.5L496.3 390.7L510.7 383.3L519.1 385.1ZM519.1 385.1L510.7 383.3L525.0 375.9L533.4 377.7ZM533.4 377.7L525.0 375.9L539.4 368.5L547.8 370.3ZM547.8 370.3L539.4 368.5L553.7 361.1L562.1 362.8ZM496.3 390.7L487.9 388.8L502.3 381.4L510.7 383.3ZM510.7 383.3L502.3 381.4L516.6 374.0L525.0 375.9ZM525.0 375.9L516.6 374.0L531.0 366.6L539.4 368.5ZM539.4 368.5L531.0 366.6L545.3 359.2L553.7 361.1ZM553.7 361.1L545.3 359.2L559.7 351.8L568.1 353.7ZM568.1 353.7L559.7 351.8L574.0 344.4L582.4 346.2ZM516.6 374.0L508.2 372.0L522.6 364.6L531.0 366.6ZM531.0 366.6L522.6 364.6L536.9 357.3L545.3 359.2ZM545.3 359.2L536.9 357.3L551.3 349.9L559.7 351.8ZM559.7 351.8L551.3 349.9L565.6 342.5L574.0 344.4ZM574.0 344.4L565.6 342.5L580.0 335.1L588.4 337.0ZM588.4 337.0L580.0 335.1L594.3 327.7L602.7 329.6ZM536.9 357.3L528.5 355.2L542.9 347.9L551.3 349.9ZM551.3 349.9L542.9 347.9L557.2 340.5L565.6 342.5ZM565.6 342.5L557.2 340.5L571.6 333.1L580.0 335.1ZM580.0 335.1L571.6 333.1L585.9 325.7L594.3 327.7ZM571.6 333.1L563.2 331.1L577.5 323.7L585.9 325.7Z"/>
<path fill="#1db3af" stroke="#1db3af" stroke-width="0.6" d="M317.1 519.9L308.7 518.4L323.0 510.9L331.4 512.4ZM308.7 518.4L300.3 516.8L314.6 509.3L323.0 510.9ZM323.0 510.9L314.6 509.3L329.0 501.9L337.4 503.5ZM337.4 503.5L329.0 501.9L343.3 494.4L351.7 496.0ZM300.3 516.8L291.9 515.0L306.2 507.6L314.6 509.3ZM314.6 509.3L306.2 507.6L320.6 500.1L329.0 501.9ZM329.0 501.9L320.6 500.1L334.9 492.7L343.3 494.4ZM343.3 494.4L334.9 492.7L349.3 485.2L357.7 486.9ZM357.7 486.9L349.3 485.2L363.6 477.8L372.0 479.5ZM372.0 479.5L363.6 477.8L378.0 470.4L386.4 472.0ZM320.6 500.1L312.2 498.3L326.5 490.9L334.9 492.7ZM334.9 492.7L326.5 490.9L340.9 483.5L349.3 485.2ZM349.3 485.2L340.9 483.5L355.2 476.0L363.6 477.8ZM363.6 477.8L355.2 476.0L369.6 468.6L378.0 470.4ZM378.0 470.4L369.6 468.6L384.0 461.2L392.3 462.9ZM392.3 462.9L384.0 461.2L398.3 453.7L406.7 455.5ZM355.2 476.0L346.9 474.2L361.2 466.7L369.6 468.6ZM369.6 468.6L361.2 466.7L375.6 459.3L384.0 461.2ZM384.0 461.2L375.6 459.3L389.9 451.9L398.3 453.7ZM398.3 453.7L389.9 451.9L404.3 444.5L412.6 446.3ZM412.6 446.3L404.3 444.5L418.6 437.1L427.0 438.9ZM427.0 438.9L418.6 437.1L433.0 429.6L441.4 431.4ZM375.6 459.3L367.2 457.4L381.5 450.0L389.9 451.9ZM389.9 451.9L381.5 450.0L395.9 442.6L404.3 444.5ZM404.3 444.5L395.9 442.6L410.2 435.2L418.6 437.1ZM418.6 437.1L410.2 435.2L424.6 427.7L433.0 429.6ZM433.0 429.6L424.6 427.7L438.9 420.3L447.3 422.2ZM447.3 422.2L438.9 420.3L453.3 412.9L461.7 414.8ZM395.9 442.6L387.5 440.6L401.8 433.2L410.2 435.2ZM410.2 435.2L401.8 433.2L416.2 425.8L424.6 427.7ZM424.6 427.7L416.2 425.8L430.5 418.4L438.9 420.3ZM438.9 420.3L430.5 418.4L444.9 411.0L453.3 412.9ZM453.3 412.9L444.9 411.0L459.2 403.6L467.6 405.5ZM467.6 405.5L459.2 403.6L473.6 396.2L482.0 398.1ZM482.0 398.1L473.6 396.2L487.9 388.8L496.3 390.7ZM430.5 418.4L422.1 416.3L436.5 409.0L444.9 411.0ZM444.9 411.0L436.5 409.0L450.8 401.6L459.2 403.6ZM459.2 403.6L450.8 401.6L465.2 394.2L473.6 396.2ZM473.6 396.2L465.2 394.2L479.5 386.8L487.9 388.8ZM487.9 388.8L479.5 386.8L493.9 379.4L502.3 381.4ZM502.3 381.4L493.9 379.4L508.2 372.0L516.6 374.0ZM450.8 401.6L442.4 399.5L456.8 392.1L465.2 394.2ZM465.2 394.2L456.8 392.1L471.1 384.7L479.5 386.8ZM479.5 386.8L471.1 384.7L485.5 377.4L493.9 379.4ZM493.9 379.4L485.5 377.4L499.8 370.0L508.2 372.0ZM508.2 372.0L499.8 370.0L514.2 362.6L522.6 364.6ZM522.6 364.6L514.2 362.6L528.5 355.2L536.9 357.3ZM471.1 384.7L462.7 382.6L477.1 375.2L485.5 377.4ZM485.5 377.4L477.1 375.2L491.4 367.9L499.8 370.0ZM499.8 370.0L491.4 367.9L505.8 360.5L514.2 362.6ZM514.2 362.6L505.8 360.5L520.1 353.1L528.5 355.2ZM528.5 355.2L520.1 353.1L534.5 345.8L542.9 347.9ZM542.9 347.9L534.5 345.8L548.8 338.4L557.2 340.5ZM557.2 340.5L548.8 338.4L563.2 331.1L571.6 333.1ZM491.4 367.9L483.0 365.7L497.4 358.3L505.8 360.5ZM505.8 360.5L497.4 358.3L511.7 351.0L520.1 353.1ZM520.1 353.1L511.7 351.0L526.1 343.6L534.5 345.8ZM534.5 345.8L526.1 343.6L540.4 336.3L548.8 338.4ZM548.8 338.4L540.4 336.3L554.8 328.9L563.2 331.1ZM563.2 331.1L554.8 328.9L569.1 321.6L577.5 323.7ZM511.7 351.0L503.3 348.8L517.7 341.4L526.1 343.6ZM526.1 343.6L517.7 341.4L532.0 334.1L540.4 336.3ZM540.4 336.3L532.0 334.1L546.4 326.7L554.8 328.9ZM554.8 328.9L546.4 326.7L560.7 319.4L569.1 321.6ZM546.4 326.7L538.0 324.5L552.3 317.2L560.7 319.4Z"/>
<path fill="#15b1b4" stroke="#15b1b4" stroke-width="0.6" d="M291.9 515.0L283.5 513.2L297.9 505.8L306.2 507.6ZM306.2 507.6L297.9 505.8L312.2 498.3L320.6 500.1ZM283.5 513.2L275.1 511.3L289.5 503.8L297.9 505.8ZM297.9 505.8L289.5 503.8L303.8 496.4L312.2 498.3ZM312.2 498.3L303.8 496.4L318.2 489.0L326.5 490.9ZM326.5 490.9L318.2 489.0L332.5 481.6L340.9 483.5ZM340.9 483.5L332.5 481.6L346.9 474.2L355.2 476.0ZM289.5 503.8L281.1 501.8L295.4 494.4L303.8 496.4ZM303.8 496.4L295.4 494.4L309.8 487.0L318.2 489.0ZM318.2 489.0L309.8 487.0L324.1 479.6L332.5 481.6ZM332.5 481.6L324.1 479.6L338.5 472.2L346.9 474.2ZM346.9 474.2L338.5 472.2L352.8 464.8L361.2 466.7ZM361.2 466.7L352.8 464.8L367.2 457.4L375.6 459.3ZM309.8 487.0L301.4 485.0L315.7 477.6L324.1 479.6ZM324.1 479.6L315.7 477.6L330.1 470.2L338.5 472.2ZM338.5 472.2L330.1 470.2L344.4 462.8L352.8 464.8ZM352.8 464.8L344.4 462.8L358.8 455.4L367.2 457.4ZM367.2 457.4L358.8 455.4L373.1 448.0L381.5 450.0ZM381.5 450.0L373.1 448.0L387.5 440.6L395.9 442.6ZM330.1 470.2L321.7 468.1L336.0 460.7L344.4 462.8ZM344.4 462.8L336.0 460.7L350.4 453.3L358.8 455.4ZM358.8 455.4L350.4 453.3L364.7 445.9L373.1 448.0ZM373.1 448.0L364.7 445.9L379.1 438.5L387.5 440.6ZM387.5 440.6L379.1 438.5L393.4 431.1L401.8 433.2ZM401.8 433.2L393.4 431.1L407.8 423.7L416.2 425.8ZM416.2 425.8L407.8 423.7L422.1 416.3L430.5 418.4ZM350.4 453.3L342.0 451.1L356.3 443.7L364.7 445.9ZM364.7 445.9L356.3 443.7L370.7 436.4L379.1 438.5ZM379.1 438.5L370.7 436.4L385.0 429.0L393.4 431.1ZM393.4 431.1L385.0 429.0L399.4 421.6L407.8 423.7ZM407.8 423.7L399.4 421.6L413.7 414.2L422.1 416.3ZM422.1 416.3L413.7 414.2L428.1 406.9L436.5 409.0ZM436.5 409.0L428.1 406.9L442.4 399.5L450.8 401.6ZM370.7 436.4L362.3 434.2L376.6 426.8L385.0 429.0ZM385.0 429.0L376.6 426.8L391.0 419.4L399.4 421.6ZM399.4 421.6L391.0 419.4L405.3 412.1L413.7 414.2ZM413.7 414.2L405.3 412.1L419.7 404.7L428.1 406.9ZM428.1 406.9L419.7 404.7L434.0 397.3L442.4 399.5ZM442.4 399.5L434.0 397.3L448.4 390.0L456.8 392.1ZM456.8 392.1L448.4 390.0L462.7 382.6L471.1 384.7ZM391.0 419.4L382.6 417.2L396.9 409.8L405.3 412.1ZM405.3 412.1L396.9 409.8L411.3 402.5L419.7 404.7ZM419.7 404.7L411.3 402.5L425.6 395.1L434.0 397.3ZM434.0 397.3L425.6 395.1L440.0 387.8L448.4 390.0ZM448.4 390.0L440.0 387.8L454.3 380.4L462.7 382.6ZM462.7 382.6L454.3 380.4L468.7 373.1L477.1 375.2ZM477.1 375.2L468.7 373.1L483.0 365.7L491.4 367.9ZM425.6 395.1L417.2 392.8L431.6 385.5L440.0 387.8ZM440.0 387.8L431.6 385.5L445.9 378.2L454.3 380.4ZM454.3 380.4L445.9 378.2L460.3 370.8L468.7 373.1ZM468.7 373.1L460.3 370.8L474.6 363.5L483.0 365.7ZM483.0 365.7L474.6 363.5L489.0 356.1L497.4 358.3ZM497.4 358.3L489.0 356.1L503.3 348.8L511.7 351.0ZM445.9 378.2L437.5 375.8L451.9 368.5L460.3 370.8ZM460.3 370.8L451.9 368.5L466.2 361.2L474.6 363.5ZM474.6 363.5L466.2 361.2L480.6 353.8L489.0 356.1ZM489.0 356.1L480.6 353.8L494.9 346.5L503.3 348.8ZM503.3 348.8L494.9 346.5L509.3 339.2L517.7 341.4ZM517.7 341.4L509.3 339.2L523.6 331.8L532.0 334.1ZM532.0 334.1L523.6 331.8L538.0 324.5L546.4 326.7ZM466.2 361.2L457.9 358.8L472.2 351.5L480.6 353.8ZM480.6 353.8L472.2 351.5L486.6 344.2L494.9 346.5ZM494.9 346.5L486.6 344.2L500.9 336.8L509.3 339.2ZM509.3 339.2L500.9 336.8L515.3 329.5L523.6 331.8ZM523.6 331.8L515.3 329.5L529.6 322.2L538.0 324.5ZM538.0 324.5L529.6 322.2L543.9 314.9L552.3 317.2ZM486.6 344.2L478.2 341.8L492.5 334.5L500.9 336.8ZM500.9 336.8L492.5 334.5L506.9 327.2L515.3 329.5ZM515.3 329.5L506.9 327.2L521.2 319.8L529.6 322.2ZM529.6 322.2L521.2 319.8L535.6 312.5L543.9 314.9ZM506.9 327.2L498.5 324.8L512.8 317.4L521.2 319.8ZM521.2 319.8L512.8 317.4L527.2 310.1L535.6 312.5Z"/>
<path fill="#0faeb9" stroke="#0faeb9" stroke-width="0.6" d="M275.1 511.3L266.7 509.3L281.1 501.8L289.5 503.8ZM266.7 509.3L258.3 507.2L272.7 499.8L281.1 501.8ZM281.1 501.8L272.7 499.8L287.0 492.4L295.4 494.4ZM295.4 494.4L287.0 492.4L301.4 485.0L309.8 487.0ZM258.3 507.2L249.9 505.0L264.3 497.6L272.7 499.8ZM272.7 499.8L264.3 497.6L278.6 490.2L287.0 492.4ZM287.0 492.4L278.6 490.2L293.0 482.8L301.4 485.0ZM301.4 485.0L293.0 482.8L307.3 475.4L315.7 477.6ZM315.7 477.6L307.3 475.4L321.7 468.1L330.1 470.2ZM264.3 497.6L255.9 495.4L270.2 488.0L278.6 490.2ZM278.6 490.2L270.2 488.0L284.6 480.6L293.0 482.8ZM293.0 482.8L284.6 480.6L298.9 473.2L307.3 475.4ZM307.3 475.4L298.9 473.2L313.3 465.9L321.7 468.1ZM321.7 468.1L313.3 465.9L327.6 458.5L336.0 460.7ZM336.0 460.7L327.6 458.5L342.0 451.1L350.4 453.3ZM284.6 480.6L276.2 478.4L290.5 471.0L298.9 473.2ZM298.9 473.2L290.5 471.0L304.9 463.6L313.3 465.9ZM313.3 465.9L304.9 463.6L319.2 456.3L327.6 458.5ZM327.6 458.5L319.2 456.3L333.6 448.9L342.0 451.1ZM342.0 451.1L333.6 448.9L347.9 441.5L356.3 443.7ZM356.3 443.7L347.9 441.5L362.3 434.2L370.7 436.4ZM304.9 463.6L296.5 461.3L310.8 454.0L319.2 456.3ZM319.2 456.3L310.8 454.0L325.2 446.6L333.6 448.9ZM333.6 448.9L325.2 446.6L339.5 439.3L347.9 441.5ZM347.9 441.5L339.5 439.3L353.9 431.9L362.3 434.2ZM362.3 434.2L353.9 431.9L368.2 424.5L376.6 426.8ZM376.6 426.8L368.2 424.5L382.6 417.2L391.0 419.4ZM325.2 446.6L316.8 444.3L331.1 436.9L339.5 439.3ZM339.5 439.3L331.1 436.9L345.5 429.6L353.9 431.9ZM353.9 431.9L345.5 429.6L359.8 422.2L368.2 424.5ZM368.2 424.5L359.8 422.2L374.2 414.9L382.6 417.2ZM382.6 417.2L374.2 414.9L388.5 407.5L396.9 409.8ZM396.9 409.8L388.5 407.5L402.9 400.2L411.3 402.5ZM411.3 402.5L402.9 400.2L417.2 392.8L425.6 395.1ZM345.5 429.6L337.1 427.2L351.4 419.9L359.8 422.2ZM359.8 422.2L351.4 419.9L365.8 412.5L374.2 414.9ZM374.2 414.9L365.8 412.5L380.1 405.2L388.5 407.5ZM388.5 407.5L380.1 405.2L394.5 397.9L402.9 400.2ZM402.9 400.2L394.5 397.9L408.8 390.5L417.2 392.8ZM417.2 392.8L408.8 390.5L423.2 383.2L431.6 385.5ZM431.6 385.5L423.2 383.2L437.5 375.8L445.9 378.2ZM365.8 412.5L357.4 410.1L371.7 402.8L380.1 405.2ZM380.1 405.2L371.7 402.8L386.1 395.5L394.5 397.9ZM394.5 397.9L386.1 395.5L400.4 388.1L408.8 390.5ZM408.8 390.5L400.4 388.1L414.8 380.8L423.2 383.2ZM423.2 383.2L414.8 380.8L429.1 373.5L437.5 375.8ZM437.5 375.8L429.1 373.5L443.5 366.2L451.9 368.5ZM451.9 368.5L443.5 366.2L457.9 358.8L466.2 361.2ZM386.1 395.5L377.7 393.0L392.1 385.7L400.4 388.1ZM400.4 388.1L392.1 385.7L406.4 378.4L414.8 380.8ZM414.8 380.8L406.4 378.4L420.8 371.1L429.1 373.5ZM429.1 373.5L420.8 371.1L435.1 363.7L443.5 366.2ZM443.5 366.2L435.1 363.7L449.5 356.4L457.9 358.8ZM457.9 358.8L449.5 356.4L463.8 349.1L472.2 351.5ZM472.2 351.5L463.8 349.1L478.2 341.8L486.6 344.2ZM406.4 378.4L398.0 375.9L412.4 368.6L420.8 371.1ZM420.8 371.1L412.4 368.6L426.7 361.3L435.1 363.7ZM435.1 363.7L426.7 361.3L441.1 354.0L449.5 356.4ZM449.5 356.4L441.1 354.0L455.4 346.7L463.8 349.1ZM463.8 349.1L455.4 346.7L469.8 339.4L478.2 341.8ZM478.2 341.8L469.8 339.4L484.1 332.1L492.5 334.5ZM492.5 334.5L484.1 332.1L498.5 324.8L506.9 327.2ZM412.4 368.6L404.0 366.1L418.3 358.8L426.7 361.3ZM426.7 361.3L418.3 358.8L432.7 351.5L441.1 354.0ZM441.1 354.0L432.7 351.5L447.0 344.2L455.4 346.7ZM455.4 346.7L447.0 344.2L461.4 336.9L469.8 339.4ZM469.8 339.4L461.4 336.9L475.7 329.6L484.1 332.1ZM484.1 332.1L475.7 329.6L490.1 322.3L498.5 324.8ZM498.5 324.8L490.1 322.3L504.4 315.0L512.8 317.4ZM512.8 317.4L504.4 315.0L518.8 307.7L527.2 310.1ZM432.7 351.5L424.3 349.0L438.6 341.7L447.0 344.2ZM447.0 344.2L438.6 341.7L453.0 334.4L461.4 336.9ZM461.4 336.9L453.0 334.4L467.3 327.1L475.7 329.6ZM475.7 329.6L467.3 327.1L481.7 319.8L490.1 322.3ZM490.1 322.3L481.7 319.8L496.0 312.5L504.4 315.0ZM504.4 315.0L496.0 312.5L510.4 305.2L518.8 307.7ZM453.0 334.4L444.6 331.9L458.9 324.6L467.3 327.1ZM467.3 327.1L458.9 324.6L473.3 317.3L481.7 319.8ZM481.7 319.8L473.3 317.3L487.6 310.0L496.0 312.5ZM496.0 312.5L487.6 310.0L502.0 302.7L510.4 305.2ZM473.3 317.3L464.9 314.7L479.2 307.4L487.6 310.0ZM487.6 310.0L479.2 307.4L493.6 300.2L502.0 302.7Z"/>
<path fill="#0aacbe" stroke="#0aacbe" stroke-width="0.6" d="M249.9 505.0L241.5 502.8L255.9 495.4L264.3 497.6ZM241.5 502.8L233.1 500.5L247.5 493.1L255.9 495.4ZM255.9 495.4L247.5 493.1L261.8 485.7L270.2 488.0ZM270.2 488.0L261.8 485.7L276.2 478.4L284.6 480.6ZM233.1 500.5L224.7 498.1L239.1 490.7L247.5 493.1ZM247.5 493.1L239.1 490.7L253.4 483.4L261.8 485.7ZM261.8 485.7L253.4 483.4L267.8 476.0L276.2 478.4ZM276.2 478.4L267.8 476.0L282.1 468.7L290.5 471.0ZM290.5 471.0L282.1 468.7L296.5 461.3L304.9 463.6ZM224.7 498.1L216.3 495.7L230.7 488.3L239.1 490.7ZM239.1 490.7L230.7 488.3L245.0 481.0L253.4 483.4ZM253.4 483.4L245.0 481.0L259.4 473.6L267.8 476.0ZM267.8 476.0L259.4 473.6L273.7 466.3L282.1 468.7ZM282.1 468.7L273.7 466.3L288.1 459.0L296.5 461.3ZM296.5 461.3L288.1 459.0L302.4 451.6L310.8 454.0ZM310.8 454.0L302.4 451.6L316.8 444.3L325.2 446.6ZM245.0 481.0L236.6 478.5L251.0 471.2L259.4 473.6ZM259.4 473.6L251.0 471.2L265.3 463.9L273.7 466.3ZM273.7 466.3L265.3 463.9L279.7 456.5L288.1 459.0ZM288.1 459.0L279.7 456.5L294.0 449.2L302.4 451.6ZM302.4 451.6L294.0 449.2L308.4 441.9L316.8 444.3ZM316.8 444.3L308.4 441.9L322.7 434.5L331.1 436.9ZM331.1 436.9L322.7 434.5L337.1 427.2L345.5 429.6ZM265.3 463.9L256.9 461.4L271.3 454.1L279.7 456.5ZM279.7 456.5L271.3 454.1L285.6 446.8L294.0 449.2ZM294.0 449.2L285.6 446.8L300.0 439.4L308.4 441.9ZM308.4 441.9L300.0 439.4L314.4 432.1L322.7 434.5ZM322.7 434.5L314.4 432.1L328.7 424.8L337.1 427.2ZM337.1 427.2L328.7 424.8L343.0 417.4L351.4 419.9ZM351.4 419.9L343.0 417.4L357.4 410.1L365.8 412.5ZM271.3 454.1L262.9 451.6L277.3 444.3L285.6 446.8ZM285.6 446.8L277.3 444.3L291.6 436.9L300.0 439.4ZM300.0 439.4L291.6 436.9L306.0 429.6L314.4 432.1ZM314.4 432.1L306.0 429.6L320.3 422.3L328.7 424.8ZM328.7 424.8L320.3 422.3L334.7 415.0L343.0 417.4ZM343.0 417.4L334.7 415.0L349.0 407.7L357.4 410.1ZM357.4 410.1L349.0 407.7L363.4 400.3L371.7 402.8ZM371.7 402.8L363.4 400.3L377.7 393.0L386.1 395.5ZM291.6 436.9L283.2 434.4L297.6 427.1L306.0 429.6ZM306.0 429.6L297.6 427.1L311.9 419.8L320.3 422.3ZM320.3 422.3L311.9 419.8L326.3 412.5L334.7 415.0ZM334.7 415.0L326.3 412.5L340.6 405.2L349.0 407.7ZM349.0 407.7L340.6 405.2L355.0 397.9L363.4 400.3ZM363.4 400.3L355.0 397.9L369.3 390.5L377.7 393.0ZM377.7 393.0L369.3 390.5L383.7 383.2L392.1 385.7ZM392.1 385.7L383.7 383.2L398.0 375.9L406.4 378.4ZM311.9 419.8L303.5 417.2L317.9 409.9L326.3 412.5ZM326.3 412.5L317.9 409.9L332.2 402.6L340.6 405.2ZM340.6 405.2L332.2 402.6L346.6 395.3L355.0 397.9ZM355.0 397.9L346.6 395.3L360.9 388.0L369.3 390.5ZM369.3 390.5L360.9 388.0L375.3 380.7L383.7 383.2ZM383.7 383.2L375.3 380.7L389.6 373.4L398.0 375.9ZM398.0 375.9L389.6 373.4L404.0 366.1L412.4 368.6ZM332.2 402.6L323.8 400.1L338.2 392.8L346.6 395.3ZM346.6 395.3L338.2 392.8L352.5 385.5L360.9 388.0ZM360.9 388.0L352.5 385.5L366.9 378.2L375.3 380.7ZM375.3 380.7L366.9 378.2L381.2 370.9L389.6 373.4ZM389.6 373.4L381.2 370.9L395.6 363.6L404.0 366.1ZM404.0 366.1L395.6 363.6L409.9 356.3L418.3 358.8ZM418.3 358.8L409.9 356.3L424.3 349.0L432.7 351.5ZM352.5 385.5L344.1 382.9L358.5 375.6L366.9 378.2ZM366.9 378.2L358.5 375.6L372.8 368.3L381.2 370.9ZM381.2 370.9L372.8 368.3L387.2 361.0L395.6 363.6ZM395.6 363.6L387.2 361.0L401.5 353.7L409.9 356.3ZM409.9 356.3L401.5 353.7L415.9 346.4L424.3 349.0ZM424.3 349.0L415.9 346.4L430.2 339.2L438.6 341.7ZM438.6 341.7L430.2 339.2L444.6 331.9L453.0 334.4ZM372.8 368.3L364.4 365.7L378.8 358.4L387.2 361.0ZM387.2 361.0L378.8 358.4L393.1 351.1L401.5 353.7ZM401.5 353.7L393.1 351.1L407.5 343.8L415.9 346.4ZM415.9 346.4L407.5 343.8L421.8 336.6L430.2 339.2ZM430.2 339.2L421.8 336.6L436.2 329.3L444.6 331.9ZM444.6 331.9L436.2 329.3L450.5 322.0L458.9 324.6ZM458.9 324.6L450.5 322.0L464.9 314.7L473.3 317.3ZM378.8 358.4L370.4 355.8L384.7 348.5L393.1 351.1ZM393.1 351.1L384.7 348.5L399.1 341.2L407.5 343.8ZM407.5 343.8L399.1 341.2L413.4 334.0L421.8 336.6ZM421.8 336.6L413.4 334.0L427.8 326.7L436.2 329.3ZM436.2 329.3L427.8 326.7L442.1 319.4L450.5 322.0ZM450.5 322.0L442.1 319.4L456.5 312.1L464.9 314.7ZM464.9 314.7L456.5 312.1L470.8 304.9L479.2 307.4ZM479.2 307.4L470.8 304.9L485.2 297.6L493.6 300.2ZM399.1 341.2L390.7 338.6L405.0 331.3L413.4 334.0ZM413.4 334.0L405.0 331.3L419.4 324.0L427.8 326.7ZM427.8 326.7L419.4 324.0L433.7 316.8L442.1 319.4ZM442.1 319.4L433.7 316.8L448.1 309.5L456.5 312.1ZM456.5 312.1L448.1 309.5L462.4 302.2L470.8 304.9ZM470.8 304.9L462.4 302.2L476.8 295.0L485.2 297.6ZM419.4 324.0L411.0 321.4L425.3 314.1L433.7 316.8ZM433.7 316.8L425.3 314.1L439.7 306.9L448.1 309.5ZM448.1 309.5L439.7 306.9L454.0 299.6L462.4 302.2ZM462.4 302.2L454.0 299.6L468.4 292.3L476.8 295.0ZM439.7 306.9L431.3 304.2L445.7 296.9L454.0 299.6ZM454.0 299.6L445.7 296.9L460.0 289.7L468.4 292.3Z"/>
<path fill="#07a9c2" stroke="#07a9c2" stroke-width="0.6" d="M216.3 495.7L207.9 493.2L222.3 485.9L230.7 488.3ZM230.7 488.3L222.3 485.9L236.6 478.5L245.0 481.0ZM207.9 493.2L199.5 490.7L213.9 483.4L222.3 485.9ZM222.3 485.9L213.9 483.4L228.2 476.1L236.6 478.5ZM236.6 478.5L228.2 476.1L242.6 468.7L251.0 471.2ZM251.0 471.2L242.6 468.7L256.9 461.4L265.3 463.9ZM199.5 490.7L191.2 488.2L205.5 480.8L213.9 483.4ZM213.9 483.4L205.5 480.8L219.9 473.5L228.2 476.1ZM228.2 476.1L219.9 473.5L234.2 466.2L242.6 468.7ZM242.6 468.7L234.2 466.2L248.6 458.9L256.9 461.4ZM256.9 461.4L248.6 458.9L262.9 451.6L271.3 454.1ZM191.2 488.2L182.8 485.6L197.1 478.3L205.5 480.8ZM205.5 480.8L197.1 478.3L211.5 471.0L219.9 473.5ZM219.9 473.5L211.5 471.0L225.8 463.6L234.2 466.2ZM234.2 466.2L225.8 463.6L240.2 456.3L248.6 458.9ZM248.6 458.9L240.2 456.3L254.5 449.0L262.9 451.6ZM262.9 451.6L254.5 449.0L268.9 441.7L277.3 444.3ZM277.3 444.3L268.9 441.7L283.2 434.4L291.6 436.9ZM211.5 471.0L203.1 468.3L217.4 461.0L225.8 463.6ZM225.8 463.6L217.4 461.0L231.8 453.7L240.2 456.3ZM240.2 456.3L231.8 453.7L246.1 446.4L254.5 449.0ZM254.5 449.0L246.1 446.4L260.5 439.1L268.9 441.7ZM268.9 441.7L260.5 439.1L274.8 431.8L283.2 434.4ZM283.2 434.4L274.8 431.8L289.2 424.5L297.6 427.1ZM297.6 427.1L289.2 424.5L303.5 417.2L311.9 419.8ZM231.8 453.7L223.4 451.1L237.7 443.8L246.1 446.4ZM246.1 446.4L237.7 443.8L252.1 436.5L260.5 439.1ZM260.5 439.1L252.1 436.5L266.4 429.2L274.8 431.8ZM274.8 431.8L266.4 429.2L280.8 421.9L289.2 424.5ZM289.2 424.5L280.8 421.9L295.1 414.6L303.5 417.2ZM303.5 417.2L295.1 414.6L309.5 407.3L317.9 409.9ZM317.9 409.9L309.5 407.3L323.8 400.1L332.2 402.6ZM237.7 443.8L229.3 441.2L243.7 433.9L252.1 436.5ZM252.1 436.5L243.7 433.9L258.0 426.6L266.4 429.2ZM266.4 429.2L258.0 426.6L272.4 419.3L280.8 421.9ZM280.8 421.9L272.4 419.3L286.7 412.0L295.1 414.6ZM295.1 414.6L286.7 412.0L301.1 404.7L309.5 407.3ZM309.5 407.3L301.1 404.7L315.4 397.4L323.8 400.1ZM323.8 400.1L315.4 397.4L329.8 390.2L338.2 392.8ZM338.2 392.8L329.8 390.2L344.1 382.9L352.5 385.5ZM258.0 426.6L249.6 423.9L264.0 416.6L272.4 419.3ZM272.4 419.3L264.0 416.6L278.3 409.4L286.7 412.0ZM286.7 412.0L278.3 409.4L292.7 402.1L301.1 404.7ZM301.1 404.7L292.7 402.1L307.0 394.8L315.4 397.4ZM315.4 397.4L307.0 394.8L321.4 387.5L329.8 390.2ZM329.8 390.2L321.4 387.5L335.7 380.2L344.1 382.9ZM344.1 382.9L335.7 380.2L350.1 373.0L358.5 375.6ZM358.5 375.6L350.1 373.0L364.4 365.7L372.8 368.3ZM278.3 409.4L269.9 406.7L284.3 399.4L292.7 402.1ZM292.7 402.1L284.3 399.4L298.6 392.1L307.0 394.8ZM307.0 394.8L298.6 392.1L313.0 384.9L321.4 387.5ZM321.4 387.5L313.0 384.9L327.3 377.6L335.7 380.2ZM335.7 380.2L327.3 377.6L341.7 370.3L350.1 373.0ZM350.1 373.0L341.7 370.3L356.0 363.0L364.4 365.7ZM364.4 365.7L356.0 363.0L370.4 355.8L378.8 358.4ZM298.6 392.1L290.2 389.4L304.6 382.2L313.0 384.9ZM313.0 384.9L304.6 382.2L318.9 374.9L327.3 377.6ZM327.3 377.6L318.9 374.9L333.3 367.6L341.7 370.3ZM341.7 370.3L333.3 367.6L347.6 360.4L356.0 363.0ZM356.0 363.0L347.6 360.4L362.0 353.1L370.4 355.8ZM370.4 355.8L362.0 353.1L376.3 345.8L384.7 348.5ZM384.7 348.5L376.3 345.8L390.7 338.6L399.1 341.2ZM304.6 382.2L296.2 379.5L310.5 372.2L318.9 374.9ZM318.9 374.9L310.5 372.2L324.9 364.9L333.3 367.6ZM333.3 367.6L324.9 364.9L339.2 357.7L347.6 360.4ZM347.6 360.4L339.2 357.7L353.6 350.4L362.0 353.1ZM362.0 353.1L353.6 350.4L367.9 343.2L376.3 345.8ZM376.3 345.8L367.9 343.2L382.3 335.9L390.7 338.6ZM390.7 338.6L382.3 335.9L396.6 328.6L405.0 331.3ZM405.0 331.3L396.6 328.6L411.0 321.4L419.4 324.0ZM324.9 364.9L316.5 362.2L330.8 355.0L339.2 357.7ZM339.2 357.7L330.8 355.0L345.2 347.7L353.6 350.4ZM353.6 350.4L345.2 347.7L359.6 340.5L367.9 343.2ZM367.9 343.2L359.6 340.5L373.9 333.2L382.3 335.9ZM382.3 335.9L373.9 333.2L388.2 326.0L396.6 328.6ZM396.6 328.6L388.2 326.0L402.6 318.7L411.0 321.4ZM411.0 321.4L402.6 318.7L416.9 311.4L425.3 314.1ZM425.3 314.1L416.9 311.4L431.3 304.2L439.7 306.9Z"/>
<path fill="#06a7c6" stroke="#06a7c6" stroke-width="0.6" d="M182.8 485.6L174.4 483.0L188.7 475.7L197.1 478.3ZM197.1 478.3L188.7 475.7L203.1 468.3L211.5 471.0ZM174.4 483.0L166.0 480.3L180.3 473.0L188.7 475.7ZM188.7 475.7L180.3 473.0L194.7 465.7L203.1 468.3ZM203.1 468.3L194.7 465.7L209.0 458.4L217.4 461.0ZM217.4 461.0L209.0 458.4L223.4 451.1L231.8 453.7ZM166.0 480.3L157.6 477.6L171.9 470.3L180.3 473.0ZM180.3 473.0L171.9 470.3L186.3 463.0L194.7 465.7ZM194.7 465.7L186.3 463.0L200.6 455.7L209.0 458.4ZM209.0 458.4L200.6 455.7L215.0 448.5L223.4 451.1ZM223.4 451.1L215.0 448.5L229.3 441.2L237.7 443.8ZM157.6 477.6L149.2 474.9L163.5 467.6L171.9 470.3ZM171.9 470.3L163.5 467.6L177.9 460.3L186.3 463.0ZM186.3 463.0L177.9 460.3L192.2 453.0L200.6 455.7ZM200.6 455.7L192.2 453.0L206.6 445.8L215.0 448.5ZM215.0 448.5L206.6 445.8L220.9 438.5L229.3 441.2ZM229.3 441.2L220.9 438.5L235.3 431.2L243.7 433.9ZM243.7 433.9L235.3 431.2L249.6 423.9L258.0 426.6ZM163.5 467.6L155.1 464.9L169.5 457.6L177.9 460.3ZM177.9 460.3L169.5 457.6L183.8 450.3L192.2 453.0ZM192.2 453.0L183.8 450.3L198.2 443.1L206.6 445.8ZM206.6 445.8L198.2 443.1L212.5 435.8L220.9 438.5ZM220.9 438.5L212.5 435.8L226.9 428.5L235.3 431.2ZM235.3 431.2L226.9 428.5L241.2 421.2L249.6 423.9ZM249.6 423.9L241.2 421.2L255.6 414.0L264.0 416.6ZM264.0 416.6L255.6 414.0L269.9 406.7L278.3 409.4ZM183.8 450.3L175.4 447.6L189.8 440.3L198.2 443.1ZM198.2 443.1L189.8 440.3L204.1 433.0L212.5 435.8ZM212.5 435.8L204.1 433.0L218.5 425.8L226.9 428.5ZM226.9 428.5L218.5 425.8L232.8 418.5L241.2 421.2ZM241.2 421.2L232.8 418.5L247.2 411.2L255.6 414.0ZM255.6 414.0L247.2 411.2L261.5 404.0L269.9 406.7ZM269.9 406.7L261.5 404.0L275.9 396.7L284.3 399.4ZM284.3 399.4L275.9 396.7L290.2 389.4L298.6 392.1ZM204.1 433.0L195.7 430.3L210.1 423.0L218.5 425.8ZM218.5 425.8L210.1 423.0L224.4 415.8L232.8 418.5ZM232.8 418.5L224.4 415.8L238.8 408.5L247.2 411.2ZM247.2 411.2L238.8 408.5L253.1 401.2L261.5 404.0ZM261.5 404.0L253.1 401.2L267.5 394.0L275.9 396.7ZM275.9 396.7L267.5 394.0L281.8 386.7L290.2 389.4ZM290.2 389.4L281.8 386.7L296.2 379.5L304.6 382.2ZM210.1 423.0L201.7 420.3L216.1 413.0L224.4 415.8ZM224.4 415.8L216.1 413.0L230.4 405.7L238.8 408.5ZM238.8 408.5L230.4 405.7L244.7 398.5L253.1 401.2ZM253.1 401.2L244.7 398.5L259.1 391.2L267.5 394.0ZM267.5 394.0L259.1 391.2L273.4 384.0L281.8 386.7ZM281.8 386.7L273.4 384.0L287.8 376.7L296.2 379.5ZM296.2 379.5L287.8 376.7L302.2 369.5L310.5 372.2ZM310.5 372.2L302.2 369.5L316.5 362.2L324.9 364.9Z"/>
<path fill="#06a4ca" stroke="#06a4ca" stroke-width="0.6" d="M149.2 474.9L140.8 472.1L155.1 464.9L163.5 467.6ZM140.8 472.1L132.4 469.4L146.7 462.1L155.1 464.9ZM155.1 464.9L146.7 462.1L161.1 454.8L169.5 457.6ZM169.5 457.6L161.1 454.8L175.4 447.6L183.8 450.3ZM132.4 469.4L124.0 466.6L138.3 459.3L146.7 462.1ZM146.7 462.1L138.3 459.3L152.7 452.1L161.1 454.8ZM161.1 454.8L152.7 452.1L167.0 444.8L175.4 447.6ZM175.4 447.6L167.0 444.8L181.4 437.5L189.8 440.3ZM189.8 440.3L181.4 437.5L195.7 430.3L204.1 433.0ZM124.0 466.6L115.6 463.8L129.9 456.5L138.3 459.3ZM138.3 459.3L129.9 456.5L144.3 449.3L152.7 452.1ZM152.7 452.1L144.3 449.3L158.6 442.0L167.0 444.8ZM167.0 444.8L158.6 442.0L173.0 434.8L181.4 437.5ZM181.4 437.5L173.0 434.8L187.3 427.5L195.7 430.3ZM195.7 430.3L187.3 427.5L201.7 420.3L210.1 423.0Z"/>
</g>
<path fill="none" stroke="#000" stroke-width="0.80" shape-rendering="crispEdges" d="M451.4 517.5L465.8 509.7L480.1 501.8L494.4 494.0L508.8 486.2L523.1 478.4L537.5 470.5L551.9 462.7L566.2 454.9L580.5 447.0L594.9 439.2L609.2 431.4L623.6 423.6L638.0 415.7L652.3 407.9L666.6 400.1L681.0 392.3L695.4 384.4L709.7 376.6L724.0 368.8L738.4 361.0L752.8 353.1L767.1 345.3L781.5 337.5L795.8 329.7M443.0 519.8L457.4 512.0L471.7 504.2L486.1 496.4L500.4 488.6L514.8 480.8L529.1 473.0L543.5 465.2L557.8 457.4L572.2 449.6L586.5 441.8L600.9 434.0L615.2 426.2L629.6 418.4L643.9 410.7L658.3 402.9L672.6 395.1L687.0 387.3L701.3 379.5L715.7 371.7L730.0 363.9L744.4 356.1L758.7 348.3L773.1 340.5L787.4 332.7M434.6 521.8L449.0 514.0L463.3 506.2L477.7 498.5L492.0 490.7L506.4 482.9L520.7 475.2L535.1 467.4L549.4 459.6L563.8 451.8L578.1 444.1L592.5 436.3L606.8 428.5L621.2 420.7L635.5 413.0L649.9 405.2L664.2 397.4L678.6 389.6L692.9 381.9L707.3 374.1L721.6 366.3L736.0 358.5L750.3 350.8L764.7 343.0L779.0 335.2M426.2 523.4L440.6 515.6L454.9 507.9L469.3 500.1L483.6 492.4L498.0 484.6L512.3 476.9L526.7 469.1L541.0 461.4L555.4 453.6L569.7 445.9L584.1 438.1L598.4 430.4L612.8 422.6L627.1 414.9L641.5 407.1L655.8 399.4L670.2 391.6L684.5 383.9L698.9 376.1L713.2 368.4L727.6 360.6L741.9 352.9L756.3 345.2L770.6 337.4M417.8 524.6L432.2 516.9L446.5 509.1L460.9 501.4L475.2 493.7L489.6 486.0L503.9 478.2L518.3 470.5L532.6 462.8L547.0 455.1L561.3 447.4L575.7 439.6L590.0 431.9L604.4 424.2L618.7 416.5L633.1 408.7L647.4 401.0L661.8 393.3L676.1 385.6L690.5 377.8L704.8 370.1L719.2 362.4L733.5 354.7L747.9 346.9L762.2 339.2M409.4 525.5L423.8 517.8L438.1 510.1L452.5 502.4L466.8 494.7L481.2 487.0L495.5 479.3L509.9 471.6L524.2 463.9L538.6 456.2L552.9 448.5L567.3 440.8L581.6 433.1L596.0 425.4L610.3 417.7L624.7 410.0L639.0 402.3L653.4 394.6L667.7 386.9L682.1 379.2L696.4 371.5L710.8 363.8L725.1 356.1L739.5 348.4L753.8 340.7M401.0 526.1L415.4 518.4L429.7 510.7L444.1 503.1L458.4 495.4L472.8 487.7L487.1 480.0L501.5 472.4L515.8 464.7L530.2 457.0L544.5 449.3L558.9 441.6L573.2 434.0L587.6 426.3L601.9 418.6L616.3 410.9L630.6 403.3L645.0 395.6L659.3 387.9L673.7 380.2L688.0 372.5L702.4 364.9L716.7 357.2L731.1 349.5L745.4 341.8M392.6 526.4L407.0 518.8L421.3 511.1L435.7 503.5L450.0 495.8L464.4 488.2L478.7 480.5L493.1 472.8L507.4 465.2L521.8 457.5L536.1 449.9L550.5 442.2L564.8 434.6L579.2 426.9L593.5 419.2L607.9 411.6L622.2 403.9L636.6 396.3L650.9 388.6L665.3 381.0L679.6 373.3L694.0 365.7L708.3 358.0L722.7 350.3L737.0 342.7M384.2 526.5L398.6 518.9L412.9 511.2L427.3 503.6L441.6 496.0L456.0 488.3L470.3 480.7L484.7 473.1L499.0 465.4L513.4 457.8L527.7 450.2L542.1 442.5L556.4 434.9L570.8 427.3L585.1 419.6L599.5 412.0L613.8 404.3L628.2 396.7L642.5 389.1L656.9 381.4L671.2 373.8L685.6 366.2L699.9 358.5L714.3 350.9L728.6 343.3M375.8 526.3L390.2 518.7L404.5 511.1L418.9 503.5L433.2 495.9L447.6 488.3L461.9 480.7L476.3 473.0L490.6 465.4L505.0 457.8L519.3 450.2L533.7 442.6L548.0 435.0L562.4 427.4L576.7 419.7L591.1 412.1L605.4 404.5L619.8 396.9L634.1 389.3L648.5 381.7L662.8 374.1L677.2 366.4L691.5 358.8L705.9 351.2L720.2 343.6M367.4 526.0L381.8 518.4L396.1 510.8L410.5 503.2L424.9 495.6L439.2 488.0L453.6 480.4L467.9 472.8L482.3 465.2L496.6 457.6L510.9 450.0L525.3 442.4L539.6 434.8L554.0 427.2L568.3 419.6L582.7 412.0L597.0 404.4L611.4 396.9L625.8 389.3L640.1 381.7L654.5 374.1L668.8 366.5L683.2 358.9L697.5 351.3L711.8 343.7M359.1 525.4L373.4 517.8L387.8 510.2L402.1 502.6L416.5 495.1L430.8 487.5L445.2 479.9L459.5 472.3L473.9 464.8L488.2 457.2L502.6 449.6L516.9 442.0L531.3 434.5L545.6 426.9L560.0 419.3L574.3 411.7L588.7 404.2L603.0 396.6L617.4 389.0L631.7 381.4L646.1 373.9L660.4 366.3L674.8 358.7L689.1 351.1L703.5 343.6M350.7 524.6L365.0 517.0L379.4 509.5L393.7 501.9L408.1 494.4L422.4 486.8L436.8 479.3L451.1 471.7L465.5 464.1L479.8 456.6L494.2 449.0L508.5 441.5L522.9 433.9L537.2 426.4L551.6 418.8L565.9 411.2L580.3 403.7L594.6 396.1L609.0 388.6L623.3 381.0L637.7 373.5L652.0 365.9L666.4 358.3L680.7 350.8L695.1 343.2M342.3 523.7L356.6 516.1L371.0 508.6L385.3 501.0L399.7 493.5L414.0 486.0L428.4 478.4L442.7 470.9L457.1 463.3L471.4 455.8L485.8 448.3L500.1 440.7L514.5 433.2L528.8 425.6L543.2 418.1L557.5 410.6L571.9 403.0L586.2 395.5L600.6 387.9L614.9 380.4L629.3 372.9L643.6 365.3L658.0 357.8L672.3 350.2L686.7 342.7M333.9 522.6L348.2 515.0L362.6 507.5L376.9 500.0L391.3 492.5L405.6 484.9L420.0 477.4L434.3 469.9L448.7 462.4L463.0 454.9L477.4 447.3L491.7 439.8L506.1 432.3L520.4 424.8L534.8 417.2L549.1 409.7L563.5 402.2L577.8 394.7L592.2 387.1L606.5 379.6L620.9 372.1L635.2 364.6L649.6 357.1L663.9 349.5L678.3 342.0M325.5 521.3L339.8 513.8L354.2 506.3L368.5 498.8L382.9 491.3L397.2 483.8L411.6 476.3L425.9 468.8L440.3 461.3L454.6 453.7L469.0 446.2L483.3 438.7L497.7 431.2L512.0 423.7L526.4 416.2L540.7 408.7L555.1 401.2L569.4 393.7L583.8 386.2L598.1 378.7L612.5 371.2L626.8 363.7L641.2 356.2L655.5 348.7L669.9 341.1M317.1 519.9L331.4 512.4L345.8 504.9L360.1 497.4L374.5 490.0L388.8 482.5L403.2 475.0L417.5 467.5L431.9 460.0L446.2 452.5L460.6 445.0L474.9 437.5L489.3 430.0L503.6 422.5L518.0 415.0L532.3 407.6L546.7 400.1L561.0 392.6L575.4 385.1L589.7 377.6L604.1 370.1L618.4 362.6L632.8 355.1L647.1 347.6L661.5 340.1M308.7 518.4L323.0 510.9L337.4 503.5L351.7 496.0L366.1 488.5L380.4 481.0L394.8 473.6L409.1 466.1L423.5 458.6L437.8 451.1L452.2 443.6L466.5 436.2L480.9 428.7L495.2 421.2L509.6 413.7L523.9 406.3L538.3 398.8L552.6 391.3L567.0 383.8L581.3 376.4L595.7 368.9L610.0 361.4L624.4 353.9L638.7 346.5L653.1 339.0M300.3 516.8L314.6 509.3L329.0 501.9L343.3 494.4L357.7 486.9L372.0 479.5L386.4 472.0L400.7 464.5L415.1 457.1L429.4 449.6L443.8 442.2L458.1 434.7L472.5 427.2L486.8 419.8L501.2 412.3L515.5 404.9L529.9 397.4L544.2 389.9L558.6 382.5L572.9 375.0L587.3 367.5L601.6 360.1L616.0 352.6L630.3 345.2L644.7 337.7M291.9 515.0L306.2 507.6L320.6 500.1L334.9 492.7L349.3 485.2L363.6 477.8L378.0 470.4L392.3 462.9L406.7 455.5L421.0 448.0L435.4 440.6L449.7 433.1L464.1 425.7L478.4 418.2L492.8 410.8L507.1 403.3L521.5 395.9L535.8 388.4L550.2 381.0L564.5 373.5L578.9 366.1L593.2 358.6L607.6 351.2L621.9 343.7L636.3 336.3M283.5 513.2L297.9 505.8L312.2 498.3L326.5 490.9L340.9 483.5L355.2 476.0L369.6 468.6L384.0 461.2L398.3 453.7L412.6 446.3L427.0 438.9L441.4 431.4L455.7 424.0L470.1 416.6L484.4 409.1L498.8 401.7L513.1 394.2L527.5 386.8L541.8 379.4L556.1 371.9L570.5 364.5L584.9 357.1L599.2 349.6L613.6 342.2L627.9 334.8M275.1 511.3L289.5 503.8L303.8 496.4L318.2 489.0L332.5 481.6L346.9 474.2L361.2 466.7L375.6 459.3L389.9 451.9L404.3 444.5L418.6 437.1L433.0 429.6L447.3 422.2L461.7 414.8L476.0 407.4L490.4 399.9L504.7 392.5L519.1 385.1L533.4 377.7L547.8 370.3L562.1 362.8L576.5 355.4L590.8 348.0L605.2 340.6L619.5 333.1M266.7 509.3L281.1 501.8L295.4 494.4L309.8 487.0L324.1 479.6L338.5 472.2L352.8 464.8L367.2 457.4L381.5 450.0L395.9 442.6L410.2 435.2L424.6 427.7L438.9 420.3L453.3 412.9L467.6 405.5L482.0 398.1L496.3 390.7L510.7 383.3L525.0 375.9L539.4 368.5L553.7 361.1L568.1 353.7L582.4 346.2L596.8 338.8L611.1 331.4M258.3 507.2L272.7 499.8L287.0 492.4L301.4 485.0L315.7 477.6L330.1 470.2L344.4 462.8L358.8 455.4L373.1 448.0L387.5 440.6L401.8 433.2L416.2 425.8L430.5 418.4L444.9 411.0L459.2 403.6L473.6 396.2L487.9 388.8L502.3 381.4L516.6 374.0L531.0 366.6L545.3 359.2L559.7 351.8L574.0 344.4L588.4 337.0L602.7 329.6M249.9 505.0L264.3 497.6L278.6 490.2L293.0 482.8L307.3 475.4L321.7 468.1L336.0 460.7L350.4 453.3L364.7 445.9L379.1 438.5L393.4 431.1L407.8 423.7L422.1 416.3L436.5 409.0L450.8 401.6L465.2 394.2L479.5 386.8L493.9 379.4L508.2 372.0L522.6 364.6L536.9 357.3L551.3 349.9L565.6 342.5L580.0 335.1L594.3 327.7M241.5 502.8L255.9 495.4L270.2 488.0L284.6 480.6L298.9 473.2L313.3 465.9L327.6 458.5L342.0 451.1L356.3 443.7L370.7 436.4L385.0 429.0L399.4 421.6L413.7 414.2L428.1 406.9L442.4 399.5L456.8 392.1L471.1 384.7L485.5 377.4L499.8 370.0L514.2 362.6L528.5 355.2L542.9 347.9L557.2 340.5L571.6 333.1L585.9 325.7M233.1 500.5L247.5 493.1L261.8 485.7L276.2 478.4L290.5 471.0L304.9 463.6L319.2 456.3L333.6 448.9L347.9 441.5L362.3 434.2L376.6 426.8L391.0 419.4L405.3 412.1L419.7 404.7L434.0 397.3L448.4 390.0L462.7 382.6L477.1 375.2L491.4 367.9L505.8 360.5L520.1 353.1L534.5 345.8L548.8 338.4L563.2 331.1L577.5 323.7M224.7 498.1L239.1 490.7L253.4 483.4L267.8 476.0L282.1 468.7L296.5 461.3L310.8 454.0L325.2 446.6L339.5 439.3L353.9 431.9L368.2 424.5L382.6 417.2L396.9 409.8L411.3 402.5L425.6 395.1L440.0 387.8L454.3 380.4L468.7 373.1L483.0 365.7L497.4 358.3L511.7 351.0L526.1 343.6L540.4 336.3L554.8 328.9L569.1 321.6M216.3 495.7L230.7 488.3L245.0 481.0L259.4 473.6L273.7 466.3L288.1 459.0L302.4 451.6L316.8 444.3L331.1 436.9L345.5 429.6L359.8 422.2L374.2 414.9L388.5 407.5L402.9 400.2L417.2 392.8L431.6 385.5L445.9 378.2L460.3 370.8L474.6 363.5L489.0 356.1L503.3 348.8L517.7 341.4L532.0 334.1L546.4 326.7L560.7 319.4M207.9 493.2L222.3 485.9L236.6 478.5L251.0 471.2L265.3 463.9L279.7 456.5L294.0 449.2L308.4 441.9L322.7 434.5L337.1 427.2L351.4 419.9L365.8 412.5L380.1 405.2L394.5 397.9L408.8 390.5L423.2 383.2L437.5 375.8L451.9 368.5L466.2 361.2L480.6 353.8L494.9 346.5L509.3 339.2L523.6 331.8L538.0 324.5L552.3 317.2M199.5 490.7L213.9 483.4L228.2 476.1L242.6 468.7L256.9 461.4L271.3 454.1L285.6 446.8L300.0 439.4L314.4 432.1L328.7 424.8L343.0 417.4L357.4 410.1L371.7 402.8L386.1 395.5L400.4 388.1L414.8 380.8L429.1 373.5L443.5 366.2L457.9 358.8L472.2 351.5L486.6 344.2L500.9 336.8L515.3 329.5L529.6 322.2L543.9 314.9M191.2 488.2L205.5 480.8L219.9 473.5L234.2 466.2L248.6 458.9L262.9 451.6L277.3 444.3L291.6 436.9L306.0 429.6L320.3 422.3L334.7 415.0L349.0 407.7L363.4 400.3L377.7 393.0L392.1 385.7L406.4 378.4L420.8 371.1L435.1 363.7L449.5 356.4L463.8 349.1L478.2 341.8L492.5 334.5L506.9 327.2L521.2 319.8L535.6 312.5M182.8 485.6L197.1 478.3L211.5 471.0L225.8 463.6L240.2 456.3L254.5 449.0L268.9 441.7L283.2 434.4L297.6 427.1L311.9 419.8L326.3 412.5L340.6 405.2L355.0 397.9L369.3 390.5L383.7 383.2L398.0 375.9L412.4 368.6L426.7 361.3L441.1 354.0L455.4 346.7L469.8 339.4L484.1 332.1L498.5 324.8L512.8 317.4L527.2 310.1M174.4 483.0L188.7 475.7L203.1 468.3L217.4 461.0L231.8 453.7L246.1 446.4L260.5 439.1L274.8 431.8L289.2 424.5L303.5 417.2L317.9 409.9L332.2 402.6L346.6 395.3L360.9 388.0L375.3 380.7L389.6 373.4L404.0 366.1L418.3 358.8L432.7 351.5L447.0 344.2L461.4 336.9L475.7 329.6L490.1 322.3L504.4 315.0L518.8 307.7M166.0 480.3L180.3 473.0L194.7 465.7L209.0 458.4L223.4 451.1L237.7 443.8L252.1 436.5L266.4 429.2L280.8 421.9L295.1 414.6L309.5 407.3L323.8 400.1L338.2 392.8L352.5 385.5L366.9 378.2L381.2 370.9L395.6 363.6L409.9 356.3L424.3 349.0L438.6 341.7L453.0 334.4L467.3 327.1L481.7 319.8L496.0 312.5L510.4 305.2M157.6 477.6L171.9 470.3L186.3 463.0L200.6 455.7L215.0 448.5L229.3 441.2L243.7 433.9L258.0 426.6L272.4 419.3L286.7 412.0L301.1 404.7L315.4 397.4L329.8 390.2L344.1 382.9L358.5 375.6L372.8 368.3L387.2 361.0L401.5 353.7L415.9 346.4L430.2 339.2L444.6 331.9L458.9 324.6L473.3 317.3L487.6 310.0L502.0 302.7M149.2 474.9L163.5 467.6L177.9 460.3L192.2 453.0L206.6 445.8L220.9 438.5L235.3 431.2L249.6 423.9L264.0 416.6L278.3 409.4L292.7 402.1L307.0 394.8L321.4 387.5L335.7 380.2L350.1 373.0L364.4 365.7L378.8 358.4L393.1 351.1L407.5 343.8L421.8 336.6L436.2 329.3L450.5 322.0L464.9 314.7L479.2 307.4L493.6 300.2M140.8 472.1L155.1 464.9L169.5 457.6L183.8 450.3L198.2 443.1L212.5 435.8L226.9 428.5L241.2 421.2L255.6 414.0L269.9 406.7L284.3 399.4L298.6 392.1L313.0 384.9L327.3 377.6L341.7 370.3L356.0 363.0L370.4 355.8L384.7 348.5L399.1 341.2L413.4 334.0L427.8 326.7L442.1 319.4L456.5 312.1L470.8 304.9L485.2 297.6M132.4 469.4L146.7 462.1L161.1 454.8L175.4 447.6L189.8 440.3L204.1 433.0L218.5 425.8L232.8 418.5L247.2 411.2L261.5 404.0L275.9 396.7L290.2 389.4L304.6 382.2L318.9 374.9L333.3 367.6L347.6 360.4L362.0 353.1L376.3 345.8L390.7 338.6L405.0 331.3L419.4 324.0L433.7 316.8L448.1 309.5L462.4 302.2L476.8 295.0M124.0 466.6L138.3 459.3L152.7 452.1L167.0 444.8L181.4 437.5L195.7 430.3L210.1 423.0L224.4 415.8L238.8 408.5L253.1 401.2L267.5 394.0L281.8 386.7L296.2 379.5L310.5 372.2L324.9 364.9L339.2 357.7L353.6 350.4L367.9 343.2L382.3 335.9L396.6 328.6L411.0 321.4L425.3 314.1L439.7 306.9L454.0 299.6L468.4 292.3M115.6 463.8L129.9 456.5L144.3 449.3L158.6 442.0L173.0 434.8L187.3 427.5L201.7 420.3L216.1 413.0L230.4 405.7L244.7 398.5L259.1 391.2L273.4 384.0L287.8 376.7L302.2 369.5L316.5 362.2L330.8 355.0L345.2 347.7L359.6 340.5L373.9 333.2L388.2 326.0L402.6 318.7L416.9 311.4L431.3 304.2L445.7 296.9L460.0 289.7M451.4 517.5L443.0 519.8L434.6 521.8L426.2 523.4L417.8 524.6L409.4 525.5L401.0 526.1L392.6 526.4L384.2 526.5L375.8 526.3L367.4 526.0L359.1 525.4L350.7 524.6L342.3 523.7L333.9 522.6L325.5 521.3L317.1 519.9L308.7 518.4L300.3 516.8L291.9 515.0L283.5 513.2L275.1 511.3L266.7 509.3L258.3 507.2L249.9 505.0L241.5 502.8L233.1 500.5L224.7 498.1L216.3 495.7L207.9 493.2L199.5 490.7L191.2 488.2L182.8 485.6L174.4 483.0L166.0 480.3L157.6 477.6L149.2 474.9L140.8 472.1L132.4 469.4L124.0 466.6L115.6 463.8M465.8 509.7L457.4 512.0L449.0 514.0L440.6 515.6L432.2 516.9L423.8 517.8L415.4 518.4L407.0 518.8L398.6 518.9L390.2 518.7L381.8 518.4L373.4 517.8L365.0 517.0L356.6 516.1L348.2 515.0L339.8 513.8L331.4 512.4L323.0 510.9L314.6 509.3L306.2 507.6L297.9 505.8L289.5 503.8L281.1 501.8L272.7 499.8L264.3 497.6L255.9 495.4L247.5 493.1L239.1 490.7L230.7 488.3L222.3 485.9L213.9 483.4L205.5 480.8L197.1 478.3L188.7 475.7L180.3 473.0L171.9 470.3L163.5 467.6L155.1 464.9L146.7 462.1L138.3 459.3L129.9 456.5M480.1 501.8L471.7 504.2L463.3 506.2L454.9 507.9L446.5 509.1L438.1 510.1L429.7 510.7L421.3 511.1L412.9 511.2L404.5 511.1L396.1 510.8L387.8 510.2L379.4 509.5L371.0 508.6L362.6 507.5L354.2 506.3L345.8 504.9L337.4 503.5L329.0 501.9L320.6 500.1L312.2 498.3L303.8 496.4L295.4 494.4L287.0 492.4L278.6 490.2L270.2 488.0L261.8 485.7L253.4 483.4L245.0 481.0L236.6 478.5L228.2 476.1L219.9 473.5L211.5 471.0L203.1 468.3L194.7 465.7L186.3 463.0L177.9 460.3L169.5 457.6L161.1 454.8L152.7 452.1L144.3 449.3M494.4 494.0L486.1 496.4L477.7 498.5L469.3 500.1L460.9 501.4L452.5 502.4L444.1 503.1L435.7 503.5L427.3 503.6L418.9 503.5L410.5 503.2L402.1 502.6L393.7 501.9L385.3 501.0L376.9 500.0L368.5 498.8L360.1 497.4L351.7 496.0L343.3 494.4L334.9 492.7L326.5 490.9L318.2 489.0L309.8 487.0L301.4 485.0L293.0 482.8L284.6 480.6L276.2 478.4L267.8 476.0L259.4 473.6L251.0 471.2L242.6 468.7L234.2 466.2L225.8 463.6L217.4 461.0L209.0 458.4L200.6 455.7L192.2 453.0L183.8 450.3L175.4 447.6L167.0 444.8L158.6 442.0M508.8 486.2L500.4 488.6L492.0 490.7L483.6 492.4L475.2 493.7L466.8 494.7L458.4 495.4L450.0 495.8L441.6 496.0L433.2 495.9L424.9 495.6L416.5 495.1L408.1 494.4L399.7 493.5L391.3 492.5L382.9 491.3L374.5 490.0L366.1 488.5L357.7 486.9L349.3 485.2L340.9 483.5L332.5 481.6L324.1 479.6L315.7 477.6L307.3 475.4L298.9 473.2L290.5 471.0L282.1 468.7L273.7 466.3L265.3 463.9L256.9 461.4L248.6 458.9L240.2 456.3L231.8 453.7L223.4 451.1L215.0 448.5L206.6 445.8L198.2 443.1L189.8 440.3L181.4 437.5L173.0 434.8M523.1 478.4L514.8 480.8L506.4 482.9L498.0 484.6L489.6 486.0L481.2 487.0L472.8 487.7L464.4 488.2L456.0 488.3L447.6 488.3L439.2 488.0L430.8 487.5L422.4 486.8L414.0 486.0L405.6 484.9L397.2 483.8L388.8 482.5L380.4 481.0L372.0 479.5L363.6 477.8L355.2 476.0L346.9 474.2L338.5 472.2L330.1 470.2L321.7 468.1L313.3 465.9L304.9 463.6L296.5 461.3L288.1 459.0L279.7 456.5L271.3 454.1L262.9 451.6L254.5 449.0L246.1 446.4L237.7 443.8L229.3 441.2L220.9 438.5L212.5 435.8L204.1 433.0L195.7 430.3L187.3 427.5M537.5 470.5L529.1 473.0L520.7 475.2L512.3 476.9L503.9 478.2L495.5 479.3L487.1 480.0L478.7 480.5L470.3 480.7L461.9 480.7L453.6 480.4L445.2 479.9L436.8 479.3L428.4 478.4L420.0 477.4L411.6 476.3L403.2 475.0L394.8 473.6L386.4 472.0L378.0 470.4L369.6 468.6L361.2 466.7L352.8 464.8L344.4 462.8L336.0 460.7L327.6 458.5L319.2 456.3L310.8 454.0L302.4 451.6L294.0 449.2L285.6 446.8L277.3 444.3L268.9 441.7L260.5 439.1L252.1 436.5L243.7 433.9L235.3 431.2L226.9 428.5L218.5 425.8L210.1 423.0L201.7 420.3M551.9 462.7L543.5 465.2L535.1 467.4L526.7 469.1L518.3 470.5L509.9 471.6L501.5 472.4L493.1 472.8L484.7 473.1L476.3 473.0L467.9 472.8L459.5 472.3L451.1 471.7L442.7 470.9L434.3 469.9L425.9 468.8L417.5 467.5L409.1 466.1L400.7 464.5L392.3 462.9L384.0 461.2L375.6 459.3L367.2 457.4L358.8 455.4L350.4 453.3L342.0 451.1L333.6 448.9L325.2 446.6L316.8 444.3L308.4 441.9L300.0 439.4L291.6 436.9L283.2 434.4L274.8 431.8L266.4 429.2L258.0 426.6L249.6 423.9L241.2 421.2L232.8 418.5L224.4 415.8L216.1 413.0M566.2 454.9L557.8 457.4L549.4 459.6L541.0 461.4L532.6 462.8L524.2 463.9L515.8 464.7L507.4 465.2L499.0 465.4L490.6 465.4L482.3 465.2L473.9 464.8L465.5 464.1L457.1 463.3L448.7 462.4L440.3 461.3L431.9 460.0L423.5 458.6L415.1 457.1L406.7 455.5L398.3 453.7L389.9 451.9L381.5 450.0L373.1 448.0L364.7 445.9L356.3 443.7L347.9 441.5L339.5 439.3L331.1 436.9L322.7 434.5L314.4 432.1L306.0 429.6L297.6 427.1L289.2 424.5L280.8 421.9L272.4 419.3L264.0 416.6L255.6 414.0L247.2 411.2L238.8 408.5L230.4 405.7M580.5 447.0L572.2 449.6L563.8 451.8L555.4 453.6L547.0 455.1L538.6 456.2L530.2 457.0L521.8 457.5L513.4 457.8L505.0 457.8L496.6 457.6L488.2 457.2L479.8 456.6L471.4 455.8L463.0 454.9L454.6 453.7L446.2 452.5L437.8 451.1L429.4 449.6L421.0 448.0L412.6 446.3L404.3 444.5L395.9 442.6L387.5 440.6L379.1 438.5L370.7 436.4L362.3 434.2L353.9 431.9L345.5 429.6L337.1 427.2L328.7 424.8L320.3 422.3L311.9 419.8L303.5 417.2L295.1 414.6L286.7 412.0L278.3 409.4L269.9 406.7L261.5 404.0L253.1 401.2L244.7 398.5M594.9 439.2L586.5 441.8L578.1 444.1L569.7 445.9L561.3 447.4L552.9 448.5L544.5 449.3L536.1 449.9L527.7 450.2L519.3 450.2L510.9 450.0L502.6 449.6L494.2 449.0L485.8 448.3L477.4 447.3L469.0 446.2L460.6 445.0L452.2 443.6L443.8 442.2L435.4 440.6L427.0 438.9L418.6 437.1L410.2 435.2L401.8 433.2L393.4 431.1L385.0 429.0L376.6 426.8L368.2 424.5L359.8 422.2L351.4 419.9L343.0 417.4L334.7 415.0L326.3 412.5L317.9 409.9L309.5 407.3L301.1 404.7L292.7 402.1L284.3 399.4L275.9 396.7L267.5 394.0L259.1 391.2M609.2 431.4L600.9 434.0L592.5 436.3L584.1 438.1L575.7 439.6L567.3 440.8L558.9 441.6L550.5 442.2L542.1 442.5L533.7 442.6L525.3 442.4L516.9 442.0L508.5 441.5L500.1 440.7L491.7 439.8L483.3 438.7L474.9 437.5L466.5 436.2L458.1 434.7L449.7 433.1L441.4 431.4L433.0 429.6L424.6 427.7L416.2 425.8L407.8 423.7L399.4 421.6L391.0 419.4L382.6 417.2L374.2 414.9L365.8 412.5L357.4 410.1L349.0 407.7L340.6 405.2L332.2 402.6L323.8 400.1L315.4 397.4L307.0 394.8L298.6 392.1L290.2 389.4L281.8 386.7L273.4 384.0M623.6 423.6L615.2 426.2L606.8 428.5L598.4 430.4L590.0 431.9L581.6 433.1L573.2 434.0L564.8 434.6L556.4 434.9L548.0 435.0L539.6 434.8L531.3 434.5L522.9 433.9L514.5 433.2L506.1 432.3L497.7 431.2L489.3 430.0L480.9 428.7L472.5 427.2L464.1 425.7L455.7 424.0L447.3 422.2L438.9 420.3L430.5 418.4L422.1 416.3L413.7 414.2L405.3 412.1L396.9 409.8L388.5 407.5L380.1 405.2L371.7 402.8L363.4 400.3L355.0 397.9L346.6 395.3L338.2 392.8L329.8 390.2L321.4 387.5L313.0 384.9L304.6 382.2L296.2 379.5L287.8 376.7M638.0 415.7L629.6 418.4L621.2 420.7L612.8 422.6L604.4 424.2L596.0 425.4L587.6 426.3L579.2 426.9L570.8 427.3L562.4 427.4L554.0 427.2L545.6 426.9L537.2 426.4L528.8 425.6L520.4 424.8L512.0 423.7L503.6 422.5L495.2 421.2L486.8 419.8L478.4 418.2L470.1 416.6L461.7 414.8L453.3 412.9L444.9 411.0L436.5 409.0L428.1 406.9L419.7 404.7L411.3 402.5L402.9 400.2L394.5 397.9L386.1 395.5L377.7 393.0L369.3 390.5L360.9 388.0L352.5 385.5L344.1 382.9L335.7 380.2L327.3 377.6L318.9 374.9L310.5 372.2L302.2 369.5M652.3 407.9L643.9 410.7L635.5 413.0L627.1 414.9L618.7 416.5L610.3 417.7L601.9 418.6L593.5 419.2L585.1 419.6L576.7 419.7L568.3 419.6L560.0 419.3L551.6 418.8L543.2 418.1L534.8 417.2L526.4 416.2L518.0 415.0L509.6 413.7L501.2 412.3L492.8 410.8L484.4 409.1L476.0 407.4L467.6 405.5L459.2 403.6L450.8 401.6L442.4 399.5L434.0 397.3L425.6 395.1L417.2 392.8L408.8 390.5L400.4 388.1L392.1 385.7L383.7 383.2L375.3 380.7L366.9 378.2L358.5 375.6L350.1 373.0L341.7 370.3L333.3 367.6L324.9 364.9L316.5 362.2M666.6 400.1L658.3 402.9L649.9 405.2L641.5 407.1L633.1 408.7L624.7 410.0L616.3 410.9L607.9 411.6L599.5 412.0L591.1 412.1L582.7 412.0L574.3 411.7L565.9 411.2L557.5 410.6L549.1 409.7L540.7 408.7L532.3 407.6L523.9 406.3L515.5 404.9L507.1 403.3L498.8 401.7L490.4 399.9L482.0 398.1L473.6 396.2L465.2 394.2L456.8 392.1L448.4 390.0L440.0 387.8L431.6 385.5L423.2 383.2L414.8 380.8L406.4 378.4L398.0 375.9L389.6 373.4L381.2 370.9L372.8 368.3L364.4 365.7L356.0 363.0L347.6 360.4L339.2 357.7L330.8 355.0M681.0 392.3L672.6 395.1L664.2 397.4L655.8 399.4L647.4 401.0L639.0 402.3L630.6 403.3L622.2 403.9L613.8 404.3L605.4 404.5L597.0 404.4L588.7 404.2L580.3 403.7L571.9 403.0L563.5 402.2L555.1 401.2L546.7 400.1L538.3 398.8L529.9 397.4L521.5 395.9L513.1 394.2L504.7 392.5L496.3 390.7L487.9 388.8L479.5 386.8L471.1 384.7L462.7 382.6L454.3 380.4L445.9 378.2L437.5 375.8L429.1 373.5L420.8 371.1L412.4 368.6L404.0 366.1L395.6 363.6L387.2 361.0L378.8 358.4L370.4 355.8L362.0 353.1L353.6 350.4L345.2 347.7M695.4 384.4L687.0 387.3L678.6 389.6L670.2 391.6L661.8 393.3L653.4 394.6L645.0 395.6L636.6 396.3L628.2 396.7L619.8 396.9L611.4 396.9L603.0 396.6L594.6 396.1L586.2 395.5L577.8 394.7L569.4 393.7L561.0 392.6L552.6 391.3L544.2 389.9L535.8 388.4L527.5 386.8L519.1 385.1L510.7 383.3L502.3 381.4L493.9 379.4L485.5 377.4L477.1 375.2L468.7 373.1L460.3 370.8L451.9 368.5L443.5 366.2L435.1 363.7L426.7 361.3L418.3 358.8L409.9 356.3L401.5 353.7L393.1 351.1L384.7 348.5L376.3 345.8L367.9 343.2L359.6 340.5M709.7 376.6L701.3 379.5L692.9 381.9L684.5 383.9L676.1 385.6L667.7 386.9L659.3 387.9L650.9 388.6L642.5 389.1L634.1 389.3L625.8 389.3L617.4 389.0L609.0 388.6L600.6 387.9L592.2 387.1L583.8 386.2L575.4 385.1L567.0 383.8L558.6 382.5L550.2 381.0L541.8 379.4L533.4 377.7L525.0 375.9L516.6 374.0L508.2 372.0L499.8 370.0L491.4 367.9L483.0 365.7L474.6 363.5L466.2 361.2L457.9 358.8L449.5 356.4L441.1 354.0L432.7 351.5L424.3 349.0L415.9 346.4L407.5 343.8L399.1 341.2L390.7 338.6L382.3 335.9L373.9 333.2M724.0 368.8L715.7 371.7L707.3 374.1L698.9 376.1L690.5 377.8L682.1 379.2L673.7 380.2L665.3 381.0L656.9 381.4L648.5 381.7L640.1 381.7L631.7 381.4L623.3 381.0L614.9 380.4L606.5 379.6L598.1 378.7L589.7 377.6L581.3 376.4L572.9 375.0L564.5 373.5L556.1 371.9L547.8 370.3L539.4 368.5L531.0 366.6L522.6 364.6L514.2 362.6L505.8 360.5L497.4 358.3L489.0 356.1L480.6 353.8L472.2 351.5L463.8 349.1L455.4 346.7L447.0 344.2L438.6 341.7L430.2 339.2L421.8 336.6L413.4 334.0L405.0 331.3L396.6 328.6L388.2 326.0M738.4 361.0L730.0 363.9L721.6 366.3L713.2 368.4L704.8 370.1L696.4 371.5L688.0 372.5L679.6 373.3L671.2 373.8L662.8 374.1L654.5 374.1L646.1 373.9L637.7 373.5L629.3 372.9L620.9 372.1L612.5 371.2L604.1 370.1L595.7 368.9L587.3 367.5L578.9 366.1L570.5 364.5L562.1 362.8L553.7 361.1L545.3 359.2L536.9 357.3L528.5 355.2L520.1 353.1L511.7 351.0L503.3 348.8L494.9 346.5L486.6 344.2L478.2 341.8L469.8 339.4L461.4 336.9L453.0 334.4L444.6 331.9L436.2 329.3L427.8 326.7L419.4 324.0L411.0 321.4L402.6 318.7M752.8 353.1L744.4 356.1L736.0 358.5L727.6 360.6L719.2 362.4L710.8 363.8L702.4 364.9L694.0 365.7L685.6 366.2L677.2 366.4L668.8 366.5L660.4 366.3L652.0 365.9L643.6 365.3L635.2 364.6L626.8 363.7L618.4 362.6L610.0 361.4L601.6 360.1L593.2 358.6L584.9 357.1L576.5 355.4L568.1 353.7L559.7 351.8L551.3 349.9L542.9 347.9L534.5 345.8L526.1 343.6L517.7 341.4L509.3 339.2L500.9 336.8L492.5 334.5L484.1 332.1L475.7 329.6L467.3 327.1L458.9 324.6L450.5 322.0L442.1 319.4L433.7 316.8L425.3 314.1L416.9 311.4M767.1 345.3L758.7 348.3L750.3 350.8L741.9 352.9L733.5 354.7L725.1 356.1L716.7 357.2L708.3 358.0L699.9 358.5L691.5 358.8L683.2 358.9L674.8 358.7L666.4 358.3L658.0 357.8L649.6 357.1L641.2 356.2L632.8 355.1L624.4 353.9L616.0 352.6L607.6 351.2L599.2 349.6L590.8 348.0L582.4 346.2L574.0 344.4L565.6 342.5L557.2 340.5L548.8 338.4L540.4 336.3L532.0 334.1L523.6 331.8L515.3 329.5L506.9 327.2L498.5 324.8L490.1 322.3L481.7 319.8L473.3 317.3L464.9 314.7L456.5 312.1L448.1 309.5L439.7 306.9L431.3 304.2M781.5 337.5L773.1 340.5L764.7 343.0L756.3 345.2L747.9 346.9L739.5 348.4L731.1 349.5L722.7 350.3L714.3 350.9L705.9 351.2L697.5 351.3L689.1 351.1L680.7 350.8L672.3 350.2L663.9 349.5L655.5 348.7L647.1 347.6L638.7 346.5L630.3 345.2L621.9 343.7L613.6 342.2L605.2 340.6L596.8 338.8L588.4 337.0L580.0 335.1L571.6 333.1L563.2 331.1L554.8 328.9L546.4 326.7L538.0 324.5L529.6 322.2L521.2 319.8L512.8 317.4L504.4 315.0L496.0 312.5L487.6 310.0L479.2 307.4L470.8 304.9L462.4 302.2L454.0 299.6L445.7 296.9M795.8 329.7L787.4 332.7L779.0 335.2L770.6 337.4L762.2 339.2L753.8 340.7L745.4 341.8L737.0 342.7L728.6 343.3L720.2 343.6L711.8 343.7L703.5 343.6L695.1 343.2L686.7 342.7L678.3 342.0L669.9 341.1L661.5 340.1L653.1 339.0L644.7 337.7L636.3 336.3L627.9 334.8L619.5 333.1L611.1 331.4L602.7 329.6L594.3 327.7L585.9 325.7L577.5 323.7L569.1 321.6L560.7 319.4L552.3 317.2L543.9 314.9L535.6 312.5L527.2 310.1L518.8 307.7L510.4 305.2L502.0 302.7L493.6 300.2L485.2 297.6L476.8 295.0L468.4 292.3L460.0 289.7"/>
<g opacity="0.50">
<path fill="#c8bc5d" stroke="#c8bc5d" stroke-width="0.6" d="M451.4 487.6L443.0 483.6L457.4 474.3L465.8 478.3ZM443.0 483.6L434.6 479.6L449.0 470.2L457.4 474.3ZM434.6 479.6L426.2 475.6L440.6 466.2L449.0 470.2ZM426.2 475.6L417.8 471.6L432.2 462.2L440.6 466.2ZM417.8 471.6L409.4 467.6L423.8 458.2L432.2 462.2ZM409.4 467.6L401.0 463.6L415.4 454.2L423.8 458.2ZM401.0 463.6L392.6 459.6L407.0 450.2L415.4 454.2ZM392.6 459.6L384.2 455.6L398.6 446.2L407.0 450.2ZM384.2 455.6L375.8 451.6L390.2 442.2L398.6 446.2ZM375.8 451.6L367.4 447.6L381.8 438.2L390.2 442.2ZM367.4 447.6L359.1 443.6L373.4 434.2L381.8 438.2ZM359.1 443.6L350.7 439.6L365.0 430.2L373.4 434.2ZM350.7 439.6L342.3 435.6L356.6 426.2L365.0 430.2ZM342.3 435.6L333.9 431.6L348.2 422.2L356.6 426.2ZM333.9 431.6L325.5 427.6L339.8 418.2L348.2 422.2ZM325.5 427.6L317.1 423.6L331.4 414.2L339.8 418.2ZM317.1 423.6L308.7 419.6L323.0 410.2L331.4 414.2ZM308.7 419.6L300.3 415.5L314.6 406.2L323.0 410.2ZM300.3 415.5L291.9 411.5L306.2 402.2L314.6 406.2ZM291.9 411.5L283.5 407.5L297.9 398.2L306.2 402.2ZM283.5 407.5L275.1 403.5L289.5 394.2L297.9 398.2ZM275.1 403.5L266.7 399.5L281.1 390.2L289.5 394.2ZM266.7 399.5L258.3 395.5L272.7 386.2L281.1 390.2ZM258.3 395.5L249.9 391.5L264.3 382.2L272.7 386.2ZM249.9 391.5L241.5 387.5L255.9 378.2L264.3 382.2ZM241.5 387.5L233.1 383.5L247.5 374.2L255.9 378.2ZM233.1 383.5L224.7 379.5L239.1 370.2L247.5 374.2ZM224.7 379.5L216.3 375.5L230.7 366.2L239.1 370.2ZM216.3 375.5L207.9 371.5L222.3 362.2L230.7 366.2ZM207.9 371.5L199.5 367.5L213.9 358.2L222.3 362.2ZM199.5 367.5L191.2 363.5L205.5 354.2L213.9 358.2ZM191.2 363.5L182.8 359.5L197.1 350.2L205.5 354.2ZM182.8 359.5L174.4 355.5L188.7 346.2L197.1 350.2ZM174.4 355.5L166.0 351.5L180.3 342.2L188.7 346.2ZM166.0 351.5L157.6 347.5L171.9 338.2L180.3 342.2ZM157.6 347.5L149.2 343.5L163.5 334.2L171.9 338.2ZM149.2 343.5L140.8 339.5L155.1 330.2L163.5 334.2ZM140.8 339.5L132.4 335.5L146.7 326.2L155.1 330.2ZM132.4 335.5L124.0 331.5L138.3 322.2L146.7 326.2ZM124.0 331.5L115.6 327.5L129.9 318.2L138.3 322.2Z"/>
<path fill="#d1bb59" stroke="#d1bb59" stroke-width="0.6" d="M465.8 478.3L457.4 474.3L471.7 464.8L480.1 468.8ZM480.1 468.8L471.7 464.8L486.1 455.2L494.4 459.2ZM457.4 474.3L449.0 470.2L463.3 460.8L471.7 464.8ZM471.7 464.8L463.3 460.8L477.7 451.2L486.1 455.2ZM449.0 470.2L440.6 466.2L454.9 456.8L463.3 460.8ZM463.3 460.8L454.9 456.8L469.3 447.2L477.7 451.2ZM440.6 466.2L432.2 462.2L446.5 452.8L454.9 456.8ZM454.9 456.8L446.5 452.8L460.9 443.2L469.3 447.2ZM432.2 462.2L423.8 458.2L438.1 448.8L446.5 452.8ZM446.5 452.8L438.1 448.8L452.5 439.2L460.9 443.2ZM423.8 458.2L415.4 454.2L429.7 444.8L438.1 448.8ZM438.1 448.8L429.7 444.8L444.1 435.2L452.5 439.2ZM415.4 454.2L407.0 450.2L421.3 440.8L429.7 444.8ZM429.7 444.8L421.3 440.8L435.7 431.2L444.1 435.2ZM407.0 450.2L398.6 446.2L412.9 436.8L421.3 440.8ZM421.3 440.8L412.9 436.8L427.3 427.2L435.7 431.2ZM398.6 446.2L390.2 442.2L404.5 432.8L412.9 436.8ZM412.9 436.8L404.5 432.8L418.9 423.2L427.3 427.2ZM390.2 442.2L381.8 438.2L396.1 428.8L404.5 432.8ZM404.5 432.8L396.1 428.8L410.5 419.2L418.9 423.2ZM381.8 438.2L373.4 434.2L387.8 424.8L396.1 428.8ZM396.1 428.8L387.8 424.8L402.1 415.2L410.5 419.2ZM373.4 434.2L365.0 430.2L379.4 420.8L387.8 424.8ZM387.8 424.8L379.4 420.8L393.7 411.2L402.1 415.2ZM365.0 430.2L356.6 426.2L371.0 416.8L379.4 420.8ZM379.4 420.8L371.0 416.8L385.3 407.2L393.7 411.2ZM356.6 426.2L348.2 422.2L362.6 412.8L371.0 416.8ZM371.0 416.8L362.6 412.8L376.9 403.2L385.3 407.2ZM348.2 422.2L339.8 418.2L354.2 408.8L362.6 412.8ZM362.6 412.8L354.2 408.8L368.5 399.2L376.9 403.2ZM339.8 418.2L331.4 414.2L345.8 404.8L354.2 408.8ZM354.2 408.8L345.8 404.8L360.1 395.2L368.5 399.2ZM331.4 414.2L323.0 410.2L337.4 400.8L345.8 404.8ZM345.8 404.8L337.4 400.8L351.7 391.2L360.1 395.2ZM323.0 410.2L314.6 406.2L329.0 396.8L337.4 400.8ZM337.4 400.8L329.0 396.8L343.3 387.2L351.7 391.2ZM314.6 406.2L306.2 402.2L320.6 392.7L329.0 396.8ZM329.0 396.8L320.6 392.7L334.9 383.2L343.3 387.2ZM306.2 402.2L297.9 398.2L312.2 388.7L320.6 392.7ZM320.6 392.7L312.2 388.7L326.5 379.2L334.9 383.2ZM297.9 398.2L289.5 394.2L303.8 384.7L312.2 388.7ZM312.2 388.7L303.8 384.7L318.2 375.2L326.5 379.2ZM289.5 394.2L281.1 390.2L295.4 380.7L303.8 384.7ZM303.8 384.7L295.4 380.7L309.8 371.2L318.2 375.2ZM281.1 390.2L272.7 386.2L287.0 376.7L295.4 380.7ZM295.4 380.7L287.0 376.7L301.4 367.2L309.8 371.2ZM272.7 386.2L264.3 382.2L278.6 372.7L287.0 376.7ZM287.0 376.7L278.6 372.7L293.0 363.2L301.4 367.2ZM264.3 382.2L255.9 378.2L270.2 368.7L278.6 372.7ZM278.6 372.7L270.2 368.7L284.6 359.2L293.0 363.2ZM255.9 378.2L247.5 374.2L261.8 364.7L270.2 368.7ZM270.2 368.7L261.8 364.7L276.2 355.2L284.6 359.2ZM247.5 374.2L239.1 370.2L253.4 360.7L261.8 364.7ZM261.8 364.7L253.4 360.7L267.8 351.2L276.2 355.2ZM239.1 370.2L230.7 366.2L245.0 356.7L253.4 360.7ZM253.4 360.7L245.0 356.7L259.4 347.2L267.8 351.2ZM230.7 366.2L222.3 362.2L236.6 352.7L245.0 356.7ZM245.0 356.7L236.6 352.7L251.0 343.1L259.4 347.2ZM222.3 362.2L213.9 358.2L228.2 348.7L236.6 352.7ZM236.6 352.7L228.2 348.7L242.6 339.1L251.0 343.1ZM213.9 358.2L205.5 354.2L219.9 344.7L228.2 348.7ZM228.2 348.7L219.9 344.7L234.2 335.1L242.6 339.1ZM205.5 354.2L197.1 350.2L211.5 340.7L219.9 344.7ZM219.9 344.7L211.5 340.7L225.8 331.1L234.2 335.1ZM197.1 350.2L188.7 346.2L203.1 336.7L211.5 340.7ZM211.5 340.7L203.1 336.7L217.4 327.1L225.8 331.1ZM188.7 346.2L180.3 342.2L194.7 332.7L203.1 336.7ZM203.1 336.7L194.7 332.7L209.0 323.1L217.4 327.1ZM180.3 342.2L171.9 338.2L186.3 328.7L194.7 332.7ZM194.7 332.7L186.3 328.7L200.6 319.1L209.0 323.1ZM171.9 338.2L163.5 334.2L177.9 324.7L186.3 328.7ZM186.3 328.7L177.9 324.7L192.2 315.1L200.6 319.1ZM163.5 334.2L155.1 330.2L169.5 320.7L177.9 324.7ZM177.9 324.7L169.5 320.7L183.8 311.1L192.2 315.1ZM155.1 330.2L146.7 326.2L161.1 316.7L169.5 320.7ZM169.5 320.7L161.1 316.7L175.4 307.1L183.8 311.1ZM146.7 326.2L138.3 322.2L152.7 312.7L161.1 316.7ZM161.1 316.7L152.7 312.7L167.0 303.1L175.4 307.1ZM138.3 322.2L129.9 318.2L144.3 308.7L152.7 312.7ZM152.7 312.7L144.3 308.7L158.6 299.1L167.0 303.1Z"/>
<path fill="#d9ba56" stroke="#d9ba56" stroke-width="0.6" d="M494.4 459.2L486.1 455.2L500.4 445.5L508.8 449.5ZM508.8 449.5L500.4 445.5L514.8 435.7L523.1 439.7ZM486.1 455.2L477.7 451.2L492.0 441.5L500.4 445.5ZM500.4 445.5L492.0 441.5L506.4 431.7L514.8 435.7ZM477.7 451.2L469.3 447.2L483.6 437.5L492.0 441.5ZM492.0 441.5L483.6 437.5L498.0 427.7L506.4 431.7ZM469.3 447.2L460.9 443.2L475.2 433.5L483.6 437.5ZM483.6 437.5L475.2 433.5L489.6 423.7L498.0 427.7ZM460.9 443.2L452.5 439.2L466.8 429.5L475.2 433.5ZM475.2 433.5L466.8 429.5L481.2 419.7L489.6 423.7ZM452.5 439.2L444.1 435.2L458.4 425.5L466.8 429.5ZM466.8 429.5L458.4 425.5L472.8 415.7L481.2 419.7ZM444.1 435.2L435.7 431.2L450.0 421.5L458.4 425.5ZM458.4 425.5L450.0 421.5L464.4 411.7L472.8 415.7ZM435.7 431.2L427.3 427.2L441.6 417.5L450.0 421.5ZM450.0 421.5L441.6 417.5L456.0 407.7L464.4 411.7ZM427.3 427.2L418.9 423.2L433.2 413.5L441.6 417.5ZM441.6 417.5L433.2 413.5L447.6 403.7L456.0 407.7ZM418.9 423.2L410.5 419.2L424.9 409.5L433.2 413.5ZM433.2 413.5L424.9 409.5L439.2 399.7L447.6 403.7ZM410.5 419.2L402.1 415.2L416.5 405.5L424.9 409.5ZM424.9 409.5L416.5 405.5L430.8 395.7L439.2 399.7ZM402.1 415.2L393.7 411.2L408.1 401.5L416.5 405.5ZM416.5 405.5L408.1 401.5L422.4 391.7L430.8 395.7ZM393.7 411.2L385.3 407.2L399.7 397.5L408.1 401.5ZM408.1 401.5L399.7 397.5L414.0 387.7L422.4 391.7ZM385.3 407.2L376.9 403.2L391.3 393.5L399.7 397.5ZM399.7 397.5L391.3 393.5L405.6 383.7L414.0 387.7ZM376.9 403.2L368.5 399.2L382.9 389.5L391.3 393.5ZM391.3 393.5L382.9 389.5L397.2 379.7L405.6 383.7ZM368.5 399.2L360.1 395.2L374.5 385.5L382.9 389.5ZM382.9 389.5L374.5 385.5L388.8 375.7L397.2 379.7ZM360.1 395.2L351.7 391.2L366.1 381.5L374.5 385.5ZM374.5 385.5L366.1 381.5L380.4 371.7L388.8 375.7ZM351.7 391.2L343.3 387.2L357.7 377.5L366.1 381.5ZM366.1 381.5L357.7 377.5L372.0 367.7L380.4 371.7ZM343.3 387.2L334.9 383.2L349.3 373.5L357.7 377.5ZM357.7 377.5L349.3 373.5L363.6 363.7L372.0 367.7ZM334.9 383.2L326.5 379.2L340.9 369.5L349.3 373.5ZM349.3 373.5L340.9 369.5L355.2 359.7L363.6 363.7ZM326.5 379.2L318.2 375.2L332.5 365.5L340.9 369.5ZM340.9 369.5L332.5 365.5L346.9 355.7L355.2 359.7ZM318.2 375.2L309.8 371.2L324.1 361.5L332.5 365.5ZM332.5 365.5L324.1 361.5L338.5 351.7L346.9 355.7ZM309.8 371.2L301.4 367.2L315.7 357.5L324.1 361.5ZM324.1 361.5L315.7 357.5L330.1 347.7L338.5 351.7ZM301.4 367.2L293.0 363.2L307.3 353.5L315.7 357.5ZM315.7 357.5L307.3 353.5L321.7 343.7L330.1 347.7ZM293.0 363.2L284.6 359.2L298.9 349.5L307.3 353.5ZM307.3 353.5L298.9 349.5L313.3 339.7L321.7 343.7ZM284.6 359.2L276.2 355.2L290.5 345.5L298.9 349.5ZM298.9 349.5L290.5 345.5L304.9 335.7L313.3 339.7ZM276.2 355.2L267.8 351.2L282.1 341.5L290.5 345.5ZM290.5 345.5L282.1 341.5L296.5 331.7L304.9 335.7ZM267.8 351.2L259.4 347.2L273.7 337.5L282.1 341.5ZM282.1 341.5L273.7 337.5L288.1 327.7L296.5 331.7ZM259.4 347.2L251.0 343.1L265.3 333.5L273.7 337.5ZM273.7 337.5L265.3 333.5L279.7 323.7L288.1 327.7ZM251.0 343.1L242.6 339.1L256.9 329.5L265.3 333.5ZM265.3 333.5L256.9 329.5L271.3 319.7L279.7 323.7ZM242.6 339.1L234.2 335.1L248.6 325.5L256.9 329.5ZM256.9 329.5L248.6 325.5L262.9 315.6L271.3 319.7ZM234.2 335.1L225.8 331.1L240.2 321.5L248.6 325.5ZM248.6 325.5L240.2 321.5L254.5 311.6L262.9 315.6ZM225.8 331.1L217.4 327.1L231.8 317.4L240.2 321.5ZM240.2 321.5L231.8 317.4L246.1 307.6L254.5 311.6ZM217.4 327.1L209.0 323.1L223.4 313.4L231.8 317.4ZM231.8 317.4L223.4 313.4L237.7 303.6L246.1 307.6ZM209.0 323.1L200.6 319.1L215.0 309.4L223.4 313.4ZM223.4 313.4L215.0 309.4L229.3 299.6L237.7 303.6ZM200.6 319.1L192.2 315.1L206.6 305.4L215.0 309.4ZM215.0 309.4L206.6 305.4L220.9 295.6L229.3 299.6ZM192.2 315.1L183.8 311.1L198.2 301.4L206.6 305.4ZM206.6 305.4L198.2 301.4L212.5 291.6L220.9 295.6ZM183.8 311.1L175.4 307.1L189.8 297.4L198.2 301.4ZM198.2 301.4L189.8 297.4L204.1 287.6L212.5 291.6ZM175.4 307.1L167.0 303.1L181.4 293.4L189.8 297.4ZM189.8 297.4L181.4 293.4L195.7 283.6L204.1 287.6ZM167.0 303.1L158.6 299.1L173.0 289.4L181.4 293.4ZM181.4 293.4L173.0 289.4L187.3 279.6L195.7 283.6Z"/>
<path fill="#e1b952" stroke="#e1b952" stroke-width="0.6" d="M523.1 439.7L514.8 435.7L529.1 425.8L537.5 429.8ZM537.5 429.8L529.1 425.8L543.5 415.8L551.9 419.8ZM514.8 435.7L506.4 431.7L520.7 421.8L529.1 425.8ZM529.1 425.8L520.7 421.8L535.1 411.8L543.5 415.8ZM506.4 431.7L498.0 427.7L512.3 417.8L520.7 421.8ZM520.7 421.8L512.3 417.8L526.7 407.8L535.1 411.8ZM498.0 427.7L489.6 423.7L503.9 413.8L512.3 417.8ZM512.3 417.8L503.9 413.8L518.3 403.8L526.7 407.8ZM489.6 423.7L481.2 419.7L495.5 409.8L503.9 413.8ZM503.9 413.8L495.5 409.8L509.9 399.8L518.3 403.8ZM481.2 419.7L472.8 415.7L487.1 405.8L495.5 409.8ZM495.5 409.8L487.1 405.8L501.5 395.7L509.9 399.8ZM472.8 415.7L464.4 411.7L478.7 401.8L487.1 405.8ZM487.1 405.8L478.7 401.8L493.1 391.7L501.5 395.7ZM464.4 411.7L456.0 407.7L470.3 397.8L478.7 401.8ZM478.7 401.8L470.3 397.8L484.7 387.7L493.1 391.7ZM456.0 407.7L447.6 403.7L461.9 393.8L470.3 397.8ZM470.3 397.8L461.9 393.8L476.3 383.7L484.7 387.7ZM447.6 403.7L439.2 399.7L453.6 389.8L461.9 393.8ZM461.9 393.8L453.6 389.8L467.9 379.7L476.3 383.7ZM439.2 399.7L430.8 395.7L445.2 385.8L453.6 389.8ZM453.6 389.8L445.2 385.8L459.5 375.7L467.9 379.7ZM430.8 395.7L422.4 391.7L436.8 381.8L445.2 385.8ZM445.2 385.8L436.8 381.8L451.1 371.7L459.5 375.7ZM422.4 391.7L414.0 387.7L428.4 377.8L436.8 381.8ZM436.8 381.8L428.4 377.8L442.7 367.7L451.1 371.7ZM414.0 387.7L405.6 383.7L420.0 373.8L428.4 377.8ZM428.4 377.8L420.0 373.8L434.3 363.7L442.7 367.7ZM405.6 383.7L397.2 379.7L411.6 369.8L420.0 373.8ZM420.0 373.8L411.6 369.8L425.9 359.7L434.3 363.7ZM397.2 379.7L388.8 375.7L403.2 365.8L411.6 369.8ZM411.6 369.8L403.2 365.8L417.5 355.7L425.9 359.7ZM388.8 375.7L380.4 371.7L394.8 361.8L403.2 365.8ZM403.2 365.8L394.8 361.8L409.1 351.7L417.5 355.7ZM380.4 371.7L372.0 367.7L386.4 357.8L394.8 361.8ZM394.8 361.8L386.4 357.8L400.7 347.7L409.1 351.7ZM372.0 367.7L363.6 363.7L378.0 353.8L386.4 357.8ZM386.4 357.8L378.0 353.8L392.3 343.7L400.7 347.7ZM363.6 363.7L355.2 359.7L369.6 349.8L378.0 353.8ZM378.0 353.8L369.6 349.8L384.0 339.7L392.3 343.7ZM355.2 359.7L346.9 355.7L361.2 345.8L369.6 349.8ZM369.6 349.8L361.2 345.8L375.6 335.7L384.0 339.7ZM346.9 355.7L338.5 351.7L352.8 341.7L361.2 345.8ZM361.2 345.8L352.8 341.7L367.2 331.7L375.6 335.7ZM338.5 351.7L330.1 347.7L344.4 337.7L352.8 341.7ZM352.8 341.7L344.4 337.7L358.8 327.7L367.2 331.7ZM330.1 347.7L321.7 343.7L336.0 333.7L344.4 337.7ZM344.4 337.7L336.0 333.7L350.4 323.7L358.8 327.7ZM321.7 343.7L313.3 339.7L327.6 329.7L336.0 333.7ZM336.0 333.7L327.6 329.7L342.0 319.7L350.4 323.7ZM313.3 339.7L304.9 335.7L319.2 325.7L327.6 329.7ZM327.6 329.7L319.2 325.7L333.6 315.7L342.0 319.7ZM304.9 335.7L296.5 331.7L310.8 321.7L319.2 325.7ZM319.2 325.7L310.8 321.7L325.2 311.7L333.6 315.7ZM296.5 331.7L288.1 327.7L302.4 317.7L310.8 321.7ZM310.8 321.7L302.4 317.7L316.8 307.7L325.2 311.7ZM288.1 327.7L279.7 323.7L294.0 313.7L302.4 317.7ZM302.4 317.7L294.0 313.7L308.4 303.7L316.8 307.7ZM279.7 323.7L271.3 319.7L285.6 309.7L294.0 313.7ZM294.0 313.7L285.6 309.7L300.0 299.7L308.4 303.7ZM271.3 319.7L262.9 315.6L277.3 305.7L285.6 309.7ZM285.6 309.7L277.3 305.7L291.6 295.7L300.0 299.7ZM262.9 315.6L254.5 311.6L268.9 301.7L277.3 305.7ZM277.3 305.7L268.9 301.7L283.2 291.7L291.6 295.7ZM254.5 311.6L246.1 307.6L260.5 297.7L268.9 301.7ZM268.9 301.7L260.5 297.7L274.8 287.7L283.2 291.7ZM246.1 307.6L237.7 303.6L252.1 293.7L260.5 297.7ZM260.5 297.7L252.1 293.7L266.4 283.7L274.8 287.7ZM237.7 303.6L229.3 299.6L243.7 289.7L252.1 293.7ZM252.1 293.7L243.7 289.7L258.0 279.7L266.4 283.7ZM229.3 299.6L220.9 295.6L235.3 285.7L243.7 289.7ZM243.7 289.7L235.3 285.7L249.6 275.7L258.0 279.7ZM220.9 295.6L212.5 291.6L226.9 281.7L235.3 285.7ZM235.3 285.7L226.9 281.7L241.2 271.7L249.6 275.7ZM212.5 291.6L204.1 287.6L218.5 277.7L226.9 281.7ZM226.9 281.7L218.5 277.7L232.8 267.7L241.2 271.7ZM204.1 287.6L195.7 283.6L210.1 273.7L218.5 277.7ZM218.5 277.7L210.1 273.7L224.4 263.7L232.8 267.7ZM195.7 283.6L187.3 279.6L201.7 269.7L210.1 273.7ZM210.1 273.7L201.7 269.7L216.1 259.7L224.4 263.7Z"/>
<path fill="#e9b94e" stroke="#e9b94e" stroke-width="0.6" d="M551.9 419.8L543.5 415.8L557.8 405.6L566.2 409.6ZM543.5 415.8L535.1 411.8L549.4 401.6L557.8 405.6ZM535.1 411.8L526.7 407.8L541.0 397.6L549.4 401.6ZM526.7 407.8L518.3 403.8L532.6 393.6L541.0 397.6ZM518.3 403.8L509.9 399.8L524.2 389.6L532.6 393.6ZM509.9 399.8L501.5 395.7L515.8 385.6L524.2 389.6ZM501.5 395.7L493.1 391.7L507.4 381.6L515.8 385.6ZM493.1 391.7L484.7 387.7L499.0 377.6L507.4 381.6ZM484.7 387.7L476.3 383.7L490.6 373.6L499.0 377.6ZM476.3 383.7L467.9 379.7L482.3 369.6L490.6 373.6ZM467.9 379.7L459.5 375.7L473.9 365.6L482.3 369.6ZM459.5 375.7L451.1 371.7L465.5 361.6L473.9 365.6ZM451.1 371.7L442.7 367.7L457.1 357.6L465.5 361.6ZM442.7 367.7L434.3 363.7L448.7 353.6L457.1 357.6ZM434.3 363.7L425.9 359.7L440.3 349.6L448.7 353.6ZM425.9 359.7L417.5 355.7L431.9 345.6L440.3 349.6ZM417.5 355.7L409.1 351.7L423.5 341.6L431.9 345.6ZM409.1 351.7L400.7 347.7L415.1 337.6L423.5 341.6ZM400.7 347.7L392.3 343.7L406.7 333.6L415.1 337.6ZM392.3 343.7L384.0 339.7L398.3 329.6L406.7 333.6ZM384.0 339.7L375.6 335.7L389.9 325.6L398.3 329.6ZM375.6 335.7L367.2 331.7L381.5 321.6L389.9 325.6ZM367.2 331.7L358.8 327.7L373.1 317.6L381.5 321.6ZM358.8 327.7L350.4 323.7L364.7 313.5L373.1 317.6ZM350.4 323.7L342.0 319.7L356.3 309.5L364.7 313.5ZM342.0 319.7L333.6 315.7L347.9 305.5L356.3 309.5ZM333.6 315.7L325.2 311.7L339.5 301.5L347.9 305.5ZM325.2 311.7L316.8 307.7L331.1 297.5L339.5 301.5ZM316.8 307.7L308.4 303.7L322.7 293.5L331.1 297.5ZM308.4 303.7L300.0 299.7L314.4 289.5L322.7 293.5ZM300.0 299.7L291.6 295.7L306.0 285.5L314.4 289.5ZM291.6 295.7L283.2 291.7L297.6 281.5L306.0 285.5ZM283.2 291.7L274.8 287.7L289.2 277.5L297.6 281.5ZM274.8 287.7L266.4 283.7L280.8 273.5L289.2 277.5ZM266.4 283.7L258.0 279.7L272.4 269.5L280.8 273.5ZM258.0 279.7L249.6 275.7L264.0 265.5L272.4 269.5ZM249.6 275.7L241.2 271.7L255.6 261.5L264.0 265.5ZM241.2 271.7L232.8 267.7L247.2 257.5L255.6 261.5ZM232.8 267.7L224.4 263.7L238.8 253.5L247.2 257.5ZM224.4 263.7L216.1 259.7L230.4 249.5L238.8 253.5Z"/>
<path fill="#f1b94a" stroke="#f1b94a" stroke-width="0.6" d="M566.2 409.6L557.8 405.6L572.2 395.3L580.5 399.3ZM580.5 399.3L572.2 395.3L586.5 384.9L594.9 388.9ZM557.8 405.6L549.4 401.6L563.8 391.3L572.2 395.3ZM572.2 395.3L563.8 391.3L578.1 380.9L586.5 384.9ZM549.4 401.6L541.0 397.6L555.4 387.3L563.8 391.3ZM563.8 391.3L555.4 387.3L569.7 376.9L578.1 380.9ZM541.0 397.6L532.6 393.6L547.0 383.3L555.4 387.3ZM555.4 387.3L547.0 383.3L561.3 372.9L569.7 376.9ZM532.6 393.6L524.2 389.6L538.6 379.3L547.0 383.3ZM547.0 383.3L538.6 379.3L552.9 368.9L561.3 372.9ZM524.2 389.6L515.8 385.6L530.2 375.3L538.6 379.3ZM538.6 379.3L530.2 375.3L544.5 364.9L552.9 368.9ZM515.8 385.6L507.4 381.6L521.8 371.3L530.2 375.3ZM530.2 375.3L521.8 371.3L536.1 360.9L544.5 364.9ZM507.4 381.6L499.0 377.6L513.4 367.3L521.8 371.3ZM521.8 371.3L513.4 367.3L527.7 356.9L536.1 360.9ZM499.0 377.6L490.6 373.6L505.0 363.3L513.4 367.3ZM513.4 367.3L505.0 363.3L519.3 352.9L527.7 356.9ZM490.6 373.6L482.3 369.6L496.6 359.3L505.0 363.3ZM505.0 363.3L496.6 359.3L510.9 348.9L519.3 352.9ZM482.3 369.6L473.9 365.6L488.2 355.3L496.6 359.3ZM496.6 359.3L488.2 355.3L502.6 344.9L510.9 348.9ZM473.9 365.6L465.5 361.6L479.8 351.3L488.2 355.3ZM488.2 355.3L479.8 351.3L494.2 340.9L502.6 344.9ZM465.5 361.6L457.1 357.6L471.4 347.3L479.8 351.3ZM479.8 351.3L471.4 347.3L485.8 336.9L494.2 340.9ZM457.1 357.6L448.7 353.6L463.0 343.3L471.4 347.3ZM471.4 347.3L463.0 343.3L477.4 332.9L485.8 336.9ZM448.7 353.6L440.3 349.6L454.6 339.3L463.0 343.3ZM463.0 343.3L454.6 339.3L469.0 328.9L477.4 332.9ZM440.3 349.6L431.9 345.6L446.2 335.3L454.6 339.3ZM454.6 339.3L446.2 335.3L460.6 324.9L469.0 328.9ZM431.9 345.6L423.5 341.6L437.8 331.3L446.2 335.3ZM446.2 335.3L437.8 331.3L452.2 320.9L460.6 324.9ZM423.5 341.6L415.1 337.6L429.4 327.3L437.8 331.3ZM437.8 331.3L429.4 327.3L443.8 316.9L452.2 320.9ZM415.1 337.6L406.7 333.6L421.0 323.3L429.4 327.3ZM429.4 327.3L421.0 323.3L435.4 312.9L443.8 316.9ZM406.7 333.6L398.3 329.6L412.6 319.3L421.0 323.3ZM421.0 323.3L412.6 319.3L427.0 308.9L435.4 312.9ZM398.3 329.6L389.9 325.6L404.3 315.3L412.6 319.3ZM412.6 319.3L404.3 315.3L418.6 304.9L427.0 308.9ZM389.9 325.6L381.5 321.6L395.9 311.3L404.3 315.3ZM404.3 315.3L395.9 311.3L410.2 300.9L418.6 304.9ZM381.5 321.6L373.1 317.6L387.5 307.3L395.9 311.3ZM395.9 311.3L387.5 307.3L401.8 296.9L410.2 300.9ZM373.1 317.6L364.7 313.5L379.1 303.3L387.5 307.3ZM387.5 307.3L379.1 303.3L393.4 292.9L401.8 296.9ZM364.7 313.5L356.3 309.5L370.7 299.3L379.1 303.3ZM379.1 303.3L370.7 299.3L385.0 288.9L393.4 292.9ZM356.3 309.5L347.9 305.5L362.3 295.3L370.7 299.3ZM370.7 299.3L362.3 295.3L376.6 284.9L385.0 288.9ZM347.9 305.5L339.5 301.5L353.9 291.3L362.3 295.3ZM362.3 295.3L353.9 291.3L368.2 280.9L376.6 284.9ZM339.5 301.5L331.1 297.5L345.5 287.3L353.9 291.3ZM353.9 291.3L345.5 287.3L359.8 276.9L368.2 280.9ZM331.1 297.5L322.7 293.5L337.1 283.3L345.5 287.3ZM345.5 287.3L337.1 283.3L351.4 272.9L359.8 276.9ZM322.7 293.5L314.4 289.5L328.7 279.3L337.1 283.3ZM337.1 283.3L328.7 279.3L343.0 268.9L351.4 272.9ZM314.4 289.5L306.0 285.5L320.3 275.3L328.7 279.3ZM328.7 279.3L320.3 275.3L334.7 264.9L343.0 268.9ZM306.0 285.5L297.6 281.5L311.9 271.3L320.3 275.3ZM320.3 275.3L311.9 271.3L326.3 260.9L334.7 264.9ZM297.6 281.5L289.2 277.5L303.5 267.3L311.9 271.3ZM311.9 271.3L303.5 267.3L317.9 256.9L326.3 260.9ZM289.2 277.5L280.8 273.5L295.1 263.3L303.5 267.3ZM303.5 267.3L295.1 263.3L309.5 252.9L317.9 256.9ZM280.8 273.5L272.4 269.5L286.7 259.2L295.1 263.3ZM295.1 263.3L286.7 259.2L301.1 248.9L309.5 252.9ZM272.4 269.5L264.0 265.5L278.3 255.2L286.7 259.2ZM286.7 259.2L278.3 255.2L292.7 244.9L301.1 248.9ZM264.0 265.5L255.6 261.5L269.9 251.2L278.3 255.2ZM278.3 255.2L269.9 251.2L284.3 240.9L292.7 244.9ZM255.6 261.5L247.2 257.5L261.5 247.2L269.9 251.2ZM269.9 251.2L261.5 247.2L275.9 236.9L284.3 240.9ZM247.2 257.5L238.8 253.5L253.1 243.2L261.5 247.2ZM261.5 247.2L253.1 243.2L267.5 232.9L275.9 236.9ZM238.8 253.5L230.4 249.5L244.7 239.2L253.1 243.2ZM253.1 243.2L244.7 239.2L259.1 228.8L267.5 232.9Z"/>
<path fill="#f8bb44" stroke="#f8bb44" stroke-width="0.6" d="M594.9 388.9L586.5 384.9L600.9 374.4L609.2 378.4ZM586.5 384.9L578.1 380.9L592.5 370.4L600.9 374.4ZM578.1 380.9L569.7 376.9L584.1 366.4L592.5 370.4ZM569.7 376.9L561.3 372.9L575.7 362.4L584.1 366.4ZM561.3 372.9L552.9 368.9L567.3 358.4L575.7 362.4ZM552.9 368.9L544.5 364.9L558.9 354.4L567.3 358.4ZM544.5 364.9L536.1 360.9L550.5 350.4L558.9 354.4ZM536.1 360.9L527.7 356.9L542.1 346.4L550.5 350.4ZM527.7 356.9L519.3 352.9L533.7 342.4L542.1 346.4ZM519.3 352.9L510.9 348.9L525.3 338.4L533.7 342.4ZM510.9 348.9L502.6 344.9L516.9 334.4L525.3 338.4ZM502.6 344.9L494.2 340.9L508.5 330.4L516.9 334.4ZM494.2 340.9L485.8 336.9L500.1 326.4L508.5 330.4ZM485.8 336.9L477.4 332.9L491.7 322.4L500.1 326.4ZM477.4 332.9L469.0 328.9L483.3 318.4L491.7 322.4ZM469.0 328.9L460.6 324.9L474.9 314.4L483.3 318.4ZM460.6 324.9L452.2 320.9L466.5 310.4L474.9 314.4ZM452.2 320.9L443.8 316.9L458.1 306.4L466.5 310.4ZM443.8 316.9L435.4 312.9L449.7 302.4L458.1 306.4ZM435.4 312.9L427.0 308.9L441.4 298.4L449.7 302.4ZM427.0 308.9L418.6 304.9L433.0 294.4L441.4 298.4ZM418.6 304.9L410.2 300.9L424.6 290.4L433.0 294.4ZM410.2 300.9L401.8 296.9L416.2 286.4L424.6 290.4ZM401.8 296.9L393.4 292.9L407.8 282.4L416.2 286.4ZM393.4 292.9L385.0 288.9L399.4 278.4L407.8 282.4ZM385.0 288.9L376.6 284.9L391.0 274.4L399.4 278.4ZM376.6 284.9L368.2 280.9L382.6 270.4L391.0 274.4ZM368.2 280.9L359.8 276.9L374.2 266.4L382.6 270.4ZM359.8 276.9L351.4 272.9L365.8 262.4L374.2 266.4ZM351.4 272.9L343.0 268.9L357.4 258.4L365.8 262.4ZM343.0 268.9L334.7 264.9L349.0 254.4L357.4 258.4ZM334.7 264.9L326.3 260.9L340.6 250.4L349.0 254.4ZM326.3 260.9L317.9 256.9L332.2 246.4L340.6 250.4ZM317.9 256.9L309.5 252.9L323.8 242.4L332.2 246.4ZM309.5 252.9L301.1 248.9L315.4 238.4L323.8 242.4ZM301.1 248.9L292.7 244.9L307.0 234.4L315.4 238.4ZM292.7 244.9L284.3 240.9L298.6 230.4L307.0 234.4ZM284.3 240.9L275.9 236.9L290.2 226.4L298.6 230.4ZM275.9 236.9L267.5 232.9L281.8 222.3L290.2 226.4ZM267.5 232.9L259.1 228.8L273.4 218.3L281.8 222.3Z"/>
<path fill="#fdbe3d" stroke="#fdbe3d" stroke-width="0.6" d="M609.2 378.4L600.9 374.4L615.2 363.8L623.6 367.8ZM623.6 367.8L615.2 363.8L629.6 353.1L638.0 357.1ZM600.9 374.4L592.5 370.4L606.8 359.8L615.2 363.8ZM615.2 363.8L606.8 359.8L621.2 349.1L629.6 353.1ZM592.5 370.4L584.1 366.4L598.4 355.8L606.8 359.8ZM606.8 359.8L598.4 355.8L612.8 345.1L621.2 349.1ZM584.1 366.4L575.7 362.4L590.0 351.8L598.4 355.8ZM598.4 355.8L590.0 351.8L604.4 341.1L612.8 345.1ZM575.7 362.4L567.3 358.4L581.6 347.8L590.0 351.8ZM590.0 351.8L581.6 347.8L596.0 337.1L604.4 341.1ZM567.3 358.4L558.9 354.4L573.2 343.8L581.6 347.8ZM581.6 347.8L573.2 343.8L587.6 333.1L596.0 337.1ZM558.9 354.4L550.5 350.4L564.8 339.8L573.2 343.8ZM573.2 343.8L564.8 339.8L579.2 329.1L587.6 333.1ZM550.5 350.4L542.1 346.4L556.4 335.8L564.8 339.8ZM564.8 339.8L556.4 335.8L570.8 325.1L579.2 329.1ZM542.1 346.4L533.7 342.4L548.0 331.8L556.4 335.8ZM556.4 335.8L548.0 331.8L562.4 321.1L570.8 325.1ZM533.7 342.4L525.3 338.4L539.6 327.8L548.0 331.8ZM548.0 331.8L539.6 327.8L554.0 317.1L562.4 321.1ZM525.3 338.4L516.9 334.4L531.3 323.8L539.6 327.8ZM539.6 327.8L531.3 323.8L545.6 313.1L554.0 317.1ZM516.9 334.4L508.5 330.4L522.9 319.8L531.3 323.8ZM531.3 323.8L522.9 319.8L537.2 309.1L545.6 313.1ZM508.5 330.4L500.1 326.4L514.5 315.8L522.9 319.8ZM522.9 319.8L514.5 315.8L528.8 305.1L537.2 309.1ZM500.1 326.4L491.7 322.4L506.1 311.8L514.5 315.8ZM514.5 315.8L506.1 311.8L520.4 301.1L528.8 305.1ZM491.7 322.4L483.3 318.4L497.7 307.8L506.1 311.8ZM506.1 311.8L497.7 307.8L512.0 297.1L520.4 301.1ZM483.3 318.4L474.9 314.4L489.3 303.8L497.7 307.8ZM497.7 307.8L489.3 303.8L503.6 293.0L512.0 297.1ZM474.9 314.4L466.5 310.4L480.9 299.8L489.3 303.8ZM489.3 303.8L480.9 299.8L495.2 289.0L503.6 293.0ZM466.5 310.4L458.1 306.4L472.5 295.8L480.9 299.8ZM480.9 299.8L472.5 295.8L486.8 285.0L495.2 289.0ZM458.1 306.4L449.7 302.4L464.1 291.8L472.5 295.8ZM472.5 295.8L464.1 291.8L478.4 281.0L486.8 285.0ZM449.7 302.4L441.4 298.4L455.7 287.8L464.1 291.8ZM464.1 291.8L455.7 287.8L470.1 277.0L478.4 281.0ZM441.4 298.4L433.0 294.4L447.3 283.8L455.7 287.8ZM455.7 287.8L447.3 283.8L461.7 273.0L470.1 277.0ZM433.0 294.4L424.6 290.4L438.9 279.8L447.3 283.8ZM447.3 283.8L438.9 279.8L453.3 269.0L461.7 273.0ZM424.6 290.4L416.2 286.4L430.5 275.8L438.9 279.8ZM438.9 279.8L430.5 275.8L444.9 265.0L453.3 269.0ZM416.2 286.4L407.8 282.4L422.1 271.8L430.5 275.8ZM430.5 275.8L422.1 271.8L436.5 261.0L444.9 265.0ZM407.8 282.4L399.4 278.4L413.7 267.8L422.1 271.8ZM422.1 271.8L413.7 267.8L428.1 257.0L436.5 261.0ZM399.4 278.4L391.0 274.4L405.3 263.8L413.7 267.8ZM413.7 267.8L405.3 263.8L419.7 253.0L428.1 257.0ZM391.0 274.4L382.6 270.4L396.9 259.8L405.3 263.8ZM405.3 263.8L396.9 259.8L411.3 249.0L419.7 253.0ZM382.6 270.4L374.2 266.4L388.5 255.8L396.9 259.8ZM396.9 259.8L388.5 255.8L402.9 245.0L411.3 249.0ZM374.2 266.4L365.8 262.4L380.1 251.8L388.5 255.8ZM388.5 255.8L380.1 251.8L394.5 241.0L402.9 245.0ZM365.8 262.4L357.4 258.4L371.7 247.8L380.1 251.8ZM380.1 251.8L371.7 247.8L386.1 237.0L394.5 241.0ZM357.4 258.4L349.0 254.4L363.4 243.7L371.7 247.8ZM371.7 247.8L363.4 243.7L377.7 233.0L386.1 237.0ZM349.0 254.4L340.6 250.4L355.0 239.7L363.4 243.7ZM363.4 243.7L355.0 239.7L369.3 229.0L377.7 233.0ZM340.6 250.4L332.2 246.4L346.6 235.7L355.0 239.7ZM355.0 239.7L346.6 235.7L360.9 225.0L369.3 229.0ZM332.2 246.4L323.8 242.4L338.2 231.7L346.6 235.7ZM346.6 235.7L338.2 231.7L352.5 221.0L360.9 225.0ZM323.8 242.4L315.4 238.4L329.8 227.7L338.2 231.7ZM338.2 231.7L329.8 227.7L344.1 217.0L352.5 221.0ZM315.4 238.4L307.0 234.4L321.4 223.7L329.8 227.7ZM329.8 227.7L321.4 223.7L335.7 213.0L344.1 217.0ZM307.0 234.4L298.6 230.4L313.0 219.7L321.4 223.7ZM321.4 223.7L313.0 219.7L327.3 209.0L335.7 213.0ZM298.6 230.4L290.2 226.4L304.6 215.7L313.0 219.7ZM313.0 219.7L304.6 215.7L318.9 205.0L327.3 209.0ZM290.2 226.4L281.8 222.3L296.2 211.7L304.6 215.7ZM304.6 215.7L296.2 211.7L310.5 201.0L318.9 205.0ZM281.8 222.3L273.4 218.3L287.8 207.7L296.2 211.7ZM296.2 211.7L287.8 207.7L302.2 197.0L310.5 201.0Z"/>
<path fill="#ffc337" stroke="#ffc337" stroke-width="0.6" d="M638.0 357.1L629.6 353.1L643.9 342.2L652.3 346.2ZM629.6 353.1L621.2 349.1L635.5 338.2L643.9 342.2ZM621.2 349.1L612.8 345.1L627.1 334.2L635.5 338.2ZM612.8 345.1L604.4 341.1L618.7 330.2L627.1 334.2ZM604.4 341.1L596.0 337.1L610.3 326.2L618.7 330.2ZM596.0 337.1L587.6 333.1L601.9 322.2L610.3 326.2ZM587.6 333.1L579.2 329.1L593.5 318.2L601.9 322.2ZM579.2 329.1L570.8 325.1L585.1 314.2L593.5 318.2ZM570.8 325.1L562.4 321.1L576.7 310.2L585.1 314.2ZM562.4 321.1L554.0 317.1L568.3 306.2L576.7 310.2ZM554.0 317.1L545.6 313.1L560.0 302.2L568.3 306.2ZM545.6 313.1L537.2 309.1L551.6 298.2L560.0 302.2ZM537.2 309.1L528.8 305.1L543.2 294.2L551.6 298.2ZM528.8 305.1L520.4 301.1L534.8 290.2L543.2 294.2ZM520.4 301.1L512.0 297.1L526.4 286.2L534.8 290.2ZM512.0 297.1L503.6 293.0L518.0 282.2L526.4 286.2ZM503.6 293.0L495.2 289.0L509.6 278.2L518.0 282.2ZM495.2 289.0L486.8 285.0L501.2 274.2L509.6 278.2ZM486.8 285.0L478.4 281.0L492.8 270.2L501.2 274.2ZM478.4 281.0L470.1 277.0L484.4 266.2L492.8 270.2ZM470.1 277.0L461.7 273.0L476.0 262.2L484.4 266.2ZM461.7 273.0L453.3 269.0L467.6 258.2L476.0 262.2ZM453.3 269.0L444.9 265.0L459.2 254.2L467.6 258.2ZM444.9 265.0L436.5 261.0L450.8 250.2L459.2 254.2ZM436.5 261.0L428.1 257.0L442.4 246.2L450.8 250.2ZM428.1 257.0L419.7 253.0L434.0 242.2L442.4 246.2ZM419.7 253.0L411.3 249.0L425.6 238.2L434.0 242.2ZM411.3 249.0L402.9 245.0L417.2 234.2L425.6 238.2ZM402.9 245.0L394.5 241.0L408.8 230.2L417.2 234.2ZM394.5 241.0L386.1 237.0L400.4 226.2L408.8 230.2ZM386.1 237.0L377.7 233.0L392.1 222.2L400.4 226.2ZM377.7 233.0L369.3 229.0L383.7 218.2L392.1 222.2ZM369.3 229.0L360.9 225.0L375.3 214.2L383.7 218.2ZM360.9 225.0L352.5 221.0L366.9 210.2L375.3 214.2ZM352.5 221.0L344.1 217.0L358.5 206.1L366.9 210.2ZM344.1 217.0L335.7 213.0L350.1 202.1L358.5 206.1ZM335.7 213.0L327.3 209.0L341.7 198.1L350.1 202.1ZM327.3 209.0L318.9 205.0L333.3 194.1L341.7 198.1ZM318.9 205.0L310.5 201.0L324.9 190.1L333.3 194.1ZM310.5 201.0L302.2 197.0L316.5 186.1L324.9 190.1Z"/>
<path fill="#fec832" stroke="#fec832" stroke-width="0.6" d="M652.3 346.2L643.9 342.2L658.3 331.3L666.6 335.3ZM643.9 342.2L635.5 338.2L649.9 327.3L658.3 331.3ZM635.5 338.2L627.1 334.2L641.5 323.3L649.9 327.3ZM627.1 334.2L618.7 330.2L633.1 319.3L641.5 323.3ZM618.7 330.2L610.3 326.2L624.7 315.3L633.1 319.3ZM610.3 326.2L601.9 322.2L616.3 311.3L624.7 315.3ZM601.9 322.2L593.5 318.2L607.9 307.2L616.3 311.3ZM593.5 318.2L585.1 314.2L599.5 303.2L607.9 307.2ZM585.1 314.2L576.7 310.2L591.1 299.2L599.5 303.2ZM576.7 310.2L568.3 306.2L582.7 295.2L591.1 299.2ZM568.3 306.2L560.0 302.2L574.3 291.2L582.7 295.2ZM560.0 302.2L551.6 298.2L565.9 287.2L574.3 291.2ZM551.6 298.2L543.2 294.2L557.5 283.2L565.9 287.2ZM543.2 294.2L534.8 290.2L549.1 279.2L557.5 283.2ZM534.8 290.2L526.4 286.2L540.7 275.2L549.1 279.2ZM526.4 286.2L518.0 282.2L532.3 271.2L540.7 275.2ZM518.0 282.2L509.6 278.2L523.9 267.2L532.3 271.2ZM509.6 278.2L501.2 274.2L515.5 263.2L523.9 267.2ZM501.2 274.2L492.8 270.2L507.1 259.2L515.5 263.2ZM492.8 270.2L484.4 266.2L498.8 255.2L507.1 259.2ZM484.4 266.2L476.0 262.2L490.4 251.2L498.8 255.2ZM476.0 262.2L467.6 258.2L482.0 247.2L490.4 251.2ZM467.6 258.2L459.2 254.2L473.6 243.2L482.0 247.2ZM459.2 254.2L450.8 250.2L465.2 239.2L473.6 243.2ZM450.8 250.2L442.4 246.2L456.8 235.2L465.2 239.2ZM442.4 246.2L434.0 242.2L448.4 231.2L456.8 235.2ZM434.0 242.2L425.6 238.2L440.0 227.2L448.4 231.2ZM425.6 238.2L417.2 234.2L431.6 223.2L440.0 227.2ZM417.2 234.2L408.8 230.2L423.2 219.2L431.6 223.2ZM408.8 230.2L400.4 226.2L414.8 215.2L423.2 219.2ZM400.4 226.2L392.1 222.2L406.4 211.2L414.8 215.2ZM392.1 222.2L383.7 218.2L398.0 207.2L406.4 211.2ZM383.7 218.2L375.3 214.2L389.6 203.2L398.0 207.2ZM375.3 214.2L366.9 210.2L381.2 199.2L389.6 203.2ZM366.9 210.2L358.5 206.1L372.8 195.2L381.2 199.2ZM358.5 206.1L350.1 202.1L364.4 191.2L372.8 195.2ZM350.1 202.1L341.7 198.1L356.0 187.2L364.4 191.2ZM341.7 198.1L333.3 194.1L347.6 183.2L356.0 187.2ZM333.3 194.1L324.9 190.1L339.2 179.2L347.6 183.2ZM324.9 190.1L316.5 186.1L330.8 175.2L339.2 179.2Z"/>
<path fill="#fcce2e" stroke="#fcce2e" stroke-width="0.6" d="M666.6 335.3L658.3 331.3L672.6 320.2L681.0 324.2ZM681.0 324.2L672.6 320.2L687.0 309.0L695.4 313.0ZM658.3 331.3L649.9 327.3L664.2 316.2L672.6 320.2ZM672.6 320.2L664.2 316.2L678.6 305.0L687.0 309.0ZM649.9 327.3L641.5 323.3L655.8 312.2L664.2 316.2ZM664.2 316.2L655.8 312.2L670.2 301.0L678.6 305.0ZM641.5 323.3L633.1 319.3L647.4 308.2L655.8 312.2ZM655.8 312.2L647.4 308.2L661.8 297.0L670.2 301.0ZM633.1 319.3L624.7 315.3L639.0 304.2L647.4 308.2ZM647.4 308.2L639.0 304.2L653.4 293.0L661.8 297.0ZM624.7 315.3L616.3 311.3L630.6 300.2L639.0 304.2ZM639.0 304.2L630.6 300.2L645.0 289.0L653.4 293.0ZM616.3 311.3L607.9 307.2L622.2 296.2L630.6 300.2ZM630.6 300.2L622.2 296.2L636.6 285.0L645.0 289.0ZM607.9 307.2L599.5 303.2L613.8 292.2L622.2 296.2ZM622.2 296.2L613.8 292.2L628.2 281.0L636.6 285.0ZM599.5 303.2L591.1 299.2L605.4 288.2L613.8 292.2ZM613.8 292.2L605.4 288.2L619.8 277.0L628.2 281.0ZM591.1 299.2L582.7 295.2L597.0 284.2L605.4 288.2ZM605.4 288.2L597.0 284.2L611.4 273.0L619.8 277.0ZM582.7 295.2L574.3 291.2L588.7 280.2L597.0 284.2ZM597.0 284.2L588.7 280.2L603.0 269.0L611.4 273.0ZM574.3 291.2L565.9 287.2L580.3 276.2L588.7 280.2ZM588.7 280.2L580.3 276.2L594.6 264.9L603.0 269.0ZM565.9 287.2L557.5 283.2L571.9 272.1L580.3 276.2ZM580.3 276.2L571.9 272.1L586.2 260.9L594.6 264.9ZM557.5 283.2L549.1 279.2L563.5 268.1L571.9 272.1ZM571.9 272.1L563.5 268.1L577.8 256.9L586.2 260.9ZM549.1 279.2L540.7 275.2L555.1 264.1L563.5 268.1ZM563.5 268.1L555.1 264.1L569.4 252.9L577.8 256.9ZM540.7 275.2L532.3 271.2L546.7 260.1L555.1 264.1ZM555.1 264.1L546.7 260.1L561.0 248.9L569.4 252.9ZM532.3 271.2L523.9 267.2L538.3 256.1L546.7 260.1ZM546.7 260.1L538.3 256.1L552.6 244.9L561.0 248.9ZM523.9 267.2L515.5 263.2L529.9 252.1L538.3 256.1ZM538.3 256.1L529.9 252.1L544.2 240.9L552.6 244.9ZM515.5 263.2L507.1 259.2L521.5 248.1L529.9 252.1ZM529.9 252.1L521.5 248.1L535.8 236.9L544.2 240.9ZM507.1 259.2L498.8 255.2L513.1 244.1L521.5 248.1ZM521.5 248.1L513.1 244.1L527.5 232.9L535.8 236.9ZM498.8 255.2L490.4 251.2L504.7 240.1L513.1 244.1ZM513.1 244.1L504.7 240.1L519.1 228.9L527.5 232.9ZM490.4 251.2L482.0 247.2L496.3 236.1L504.7 240.1ZM504.7 240.1L496.3 236.1L510.7 224.9L519.1 228.9ZM482.0 247.2L473.6 243.2L487.9 232.1L496.3 236.1ZM496.3 236.1L487.9 232.1L502.3 220.9L510.7 224.9ZM473.6 243.2L465.2 239.2L479.5 228.1L487.9 232.1ZM487.9 232.1L479.5 228.1L493.9 216.9L502.3 220.9ZM465.2 239.2L456.8 235.2L471.1 224.1L479.5 228.1ZM479.5 228.1L471.1 224.1L485.5 212.9L493.9 216.9ZM456.8 235.2L448.4 231.2L462.7 220.1L471.1 224.1ZM471.1 224.1L462.7 220.1L477.1 208.9L485.5 212.9ZM448.4 231.2L440.0 227.2L454.3 216.1L462.7 220.1ZM462.7 220.1L454.3 216.1L468.7 204.9L477.1 208.9ZM440.0 227.2L431.6 223.2L445.9 212.1L454.3 216.1ZM454.3 216.1L445.9 212.1L460.3 200.9L468.7 204.9ZM431.6 223.2L423.2 219.2L437.5 208.1L445.9 212.1ZM445.9 212.1L437.5 208.1L451.9 196.9L460.3 200.9ZM423.2 219.2L414.8 215.2L429.1 204.1L437.5 208.1ZM437.5 208.1L429.1 204.1L443.5 192.9L451.9 196.9ZM414.8 215.2L406.4 211.2L420.8 200.1L429.1 204.1ZM429.1 204.1L420.8 200.1L435.1 188.9L443.5 192.9ZM406.4 211.2L398.0 207.2L412.4 196.1L420.8 200.1ZM420.8 200.1L412.4 196.1L426.7 184.9L435.1 188.9ZM398.0 207.2L389.6 203.2L404.0 192.1L412.4 196.1ZM412.4 196.1L404.0 192.1L418.3 180.9L426.7 184.9ZM389.6 203.2L381.2 199.2L395.6 188.1L404.0 192.1ZM404.0 192.1L395.6 188.1L409.9 176.9L418.3 180.9ZM381.2 199.2L372.8 195.2L387.2 184.1L395.6 188.1ZM395.6 188.1L387.2 184.1L401.5 172.9L409.9 176.9ZM372.8 195.2L364.4 191.2L378.8 180.1L387.2 184.1ZM387.2 184.1L378.8 180.1L393.1 168.9L401.5 172.9ZM364.4 191.2L356.0 187.2L370.4 176.1L378.8 180.1ZM378.8 180.1L370.4 176.1L384.7 164.9L393.1 168.9ZM356.0 187.2L347.6 183.2L362.0 172.1L370.4 176.1ZM370.4 176.1L362.0 172.1L376.3 160.9L384.7 164.9ZM347.6 183.2L339.2 179.2L353.6 168.1L362.0 172.1ZM362.0 172.1L353.6 168.1L367.9 156.9L376.3 160.9ZM339.2 179.2L330.8 175.2L345.2 164.1L353.6 168.1ZM353.6 168.1L345.2 164.1L359.6 152.9L367.9 156.9Z"/>
<path fill="#fad32a" stroke="#fad32a" stroke-width="0.6" d="M695.4 313.0L687.0 309.0L701.3 297.7L709.7 301.7ZM687.0 309.0L678.6 305.0L692.9 293.7L701.3 297.7ZM678.6 305.0L670.2 301.0L684.5 289.7L692.9 293.7ZM670.2 301.0L661.8 297.0L676.1 285.7L684.5 289.7ZM661.8 297.0L653.4 293.0L667.7 281.6L676.1 285.7ZM653.4 293.0L645.0 289.0L659.3 277.6L667.7 281.6ZM645.0 289.0L636.6 285.0L650.9 273.6L659.3 277.6ZM636.6 285.0L628.2 281.0L642.5 269.6L650.9 273.6ZM628.2 281.0L619.8 277.0L634.1 265.6L642.5 269.6ZM619.8 277.0L611.4 273.0L625.8 261.6L634.1 265.6ZM611.4 273.0L603.0 269.0L617.4 257.6L625.8 261.6ZM603.0 269.0L594.6 264.9L609.0 253.6L617.4 257.6ZM594.6 264.9L586.2 260.9L600.6 249.6L609.0 253.6ZM586.2 260.9L577.8 256.9L592.2 245.6L600.6 249.6ZM577.8 256.9L569.4 252.9L583.8 241.6L592.2 245.6ZM569.4 252.9L561.0 248.9L575.4 237.6L583.8 241.6ZM561.0 248.9L552.6 244.9L567.0 233.6L575.4 237.6ZM552.6 244.9L544.2 240.9L558.6 229.6L567.0 233.6ZM544.2 240.9L535.8 236.9L550.2 225.6L558.6 229.6ZM535.8 236.9L527.5 232.9L541.8 221.6L550.2 225.6ZM527.5 232.9L519.1 228.9L533.4 217.6L541.8 221.6ZM519.1 228.9L510.7 224.9L525.0 213.6L533.4 217.6ZM510.7 224.9L502.3 220.9L516.6 209.6L525.0 213.6ZM502.3 220.9L493.9 216.9L508.2 205.6L516.6 209.6ZM493.9 216.9L485.5 212.9L499.8 201.6L508.2 205.6ZM485.5 212.9L477.1 208.9L491.4 197.6L499.8 201.6ZM477.1 208.9L468.7 204.9L483.0 193.6L491.4 197.6ZM468.7 204.9L460.3 200.9L474.6 189.6L483.0 193.6ZM460.3 200.9L451.9 196.9L466.2 185.6L474.6 189.6ZM451.9 196.9L443.5 192.9L457.9 181.6L466.2 185.6ZM443.5 192.9L435.1 188.9L449.5 177.6L457.9 181.6ZM435.1 188.9L426.7 184.9L441.1 173.6L449.5 177.6ZM426.7 184.9L418.3 180.9L432.7 169.6L441.1 173.6ZM418.3 180.9L409.9 176.9L424.3 165.6L432.7 169.6ZM409.9 176.9L401.5 172.9L415.9 161.6L424.3 165.6ZM401.5 172.9L393.1 168.9L407.5 157.6L415.9 161.6ZM393.1 168.9L384.7 164.9L399.1 153.6L407.5 157.6ZM384.7 164.9L376.3 160.9L390.7 149.6L399.1 153.6ZM376.3 160.9L367.9 156.9L382.3 145.6L390.7 149.6ZM367.9 156.9L359.6 152.9L373.9 141.6L382.3 145.6Z"/>
<path fill="#f7d826" stroke="#f7d826" stroke-width="0.6" d="M709.7 301.7L701.3 297.7L715.7 286.2L724.0 290.2ZM701.3 297.7L692.9 293.7L707.3 282.2L715.7 286.2ZM692.9 293.7L684.5 289.7L698.9 278.2L707.3 282.2ZM684.5 289.7L676.1 285.7L690.5 274.2L698.9 278.2ZM676.1 285.7L667.7 281.6L682.1 270.2L690.5 274.2ZM667.7 281.6L659.3 277.6L673.7 266.2L682.1 270.2ZM659.3 277.6L650.9 273.6L665.3 262.2L673.7 266.2ZM650.9 273.6L642.5 269.6L656.9 258.2L665.3 262.2ZM642.5 269.6L634.1 265.6L648.5 254.2L656.9 258.2ZM634.1 265.6L625.8 261.6L640.1 250.2L648.5 254.2ZM625.8 261.6L617.4 257.6L631.7 246.2L640.1 250.2ZM617.4 257.6L609.0 253.6L623.3 242.2L631.7 246.2ZM609.0 253.6L600.6 249.6L614.9 238.2L623.3 242.2ZM600.6 249.6L592.2 245.6L606.5 234.2L614.9 238.2ZM592.2 245.6L583.8 241.6L598.1 230.2L606.5 234.2ZM583.8 241.6L575.4 237.6L589.7 226.2L598.1 230.2ZM575.4 237.6L567.0 233.6L581.3 222.2L589.7 226.2ZM567.0 233.6L558.6 229.6L572.9 218.2L581.3 222.2ZM558.6 229.6L550.2 225.6L564.5 214.2L572.9 218.2ZM550.2 225.6L541.8 221.6L556.1 210.2L564.5 214.2ZM541.8 221.6L533.4 217.6L547.8 206.2L556.1 210.2ZM533.4 217.6L525.0 213.6L539.4 202.2L547.8 206.2ZM525.0 213.6L516.6 209.6L531.0 198.2L539.4 202.2ZM516.6 209.6L508.2 205.6L522.6 194.2L531.0 198.2ZM508.2 205.6L499.8 201.6L514.2 190.2L522.6 194.2ZM499.8 201.6L491.4 197.6L505.8 186.2L514.2 190.2ZM491.4 197.6L483.0 193.6L497.4 182.2L505.8 186.2ZM483.0 193.6L474.6 189.6L489.0 178.2L497.4 182.2ZM474.6 189.6L466.2 185.6L480.6 174.2L489.0 178.2ZM466.2 185.6L457.9 181.6L472.2 170.2L480.6 174.2ZM457.9 181.6L449.5 177.6L463.8 166.1L472.2 170.2ZM449.5 177.6L441.1 173.6L455.4 162.1L463.8 166.1ZM441.1 173.6L432.7 169.6L447.0 158.1L455.4 162.1ZM432.7 169.6L424.3 165.6L438.6 154.1L447.0 158.1ZM424.3 165.6L415.9 161.6L430.2 150.1L438.6 154.1ZM415.9 161.6L407.5 157.6L421.8 146.1L430.2 150.1ZM407.5 157.6L399.1 153.6L413.4 142.1L421.8 146.1ZM399.1 153.6L390.7 149.6L405.0 138.1L413.4 142.1ZM390.7 149.6L382.3 145.6L396.6 134.1L405.0 138.1ZM382.3 145.6L373.9 141.6L388.2 130.1L396.6 134.1Z"/>
<path fill="#f5de21" stroke="#f5de21" stroke-width="0.6" d="M724.0 290.2L715.7 286.2L730.0 274.7L738.4 278.7ZM715.7 286.2L707.3 282.2L721.6 270.7L730.0 274.7ZM707.3 282.2L698.9 278.2L713.2 266.7L721.6 270.7ZM698.9 278.2L690.5 274.2L704.8 262.7L713.2 266.7ZM690.5 274.2L682.1 270.2L696.4 258.7L704.8 262.7ZM682.1 270.2L673.7 266.2L688.0 254.7L696.4 258.7ZM673.7 266.2L665.3 262.2L679.6 250.7L688.0 254.7ZM665.3 262.2L656.9 258.2L671.2 246.7L679.6 250.7ZM656.9 258.2L648.5 254.2L662.8 242.7L671.2 246.7ZM648.5 254.2L640.1 250.2L654.5 238.6L662.8 242.7ZM640.1 250.2L631.7 246.2L646.1 234.6L654.5 238.6ZM631.7 246.2L623.3 242.2L637.7 230.6L646.1 234.6ZM623.3 242.2L614.9 238.2L629.3 226.6L637.7 230.6ZM614.9 238.2L606.5 234.2L620.9 222.6L629.3 226.6ZM606.5 234.2L598.1 230.2L612.5 218.6L620.9 222.6ZM598.1 230.2L589.7 226.2L604.1 214.6L612.5 218.6ZM589.7 226.2L581.3 222.2L595.7 210.6L604.1 214.6ZM581.3 222.2L572.9 218.2L587.3 206.6L595.7 210.6ZM572.9 218.2L564.5 214.2L578.9 202.6L587.3 206.6ZM564.5 214.2L556.1 210.2L570.5 198.6L578.9 202.6ZM556.1 210.2L547.8 206.2L562.1 194.6L570.5 198.6ZM547.8 206.2L539.4 202.2L553.7 190.6L562.1 194.6ZM539.4 202.2L531.0 198.2L545.3 186.6L553.7 190.6ZM531.0 198.2L522.6 194.2L536.9 182.6L545.3 186.6ZM522.6 194.2L514.2 190.2L528.5 178.6L536.9 182.6ZM514.2 190.2L505.8 186.2L520.1 174.6L528.5 178.6ZM505.8 186.2L497.4 182.2L511.7 170.6L520.1 174.6ZM497.4 182.2L489.0 178.2L503.3 166.6L511.7 170.6ZM489.0 178.2L480.6 174.2L494.9 162.6L503.3 166.6ZM480.6 174.2L472.2 170.2L486.6 158.6L494.9 162.6ZM472.2 170.2L463.8 166.1L478.2 154.6L486.6 158.6ZM463.8 166.1L455.4 162.1L469.8 150.6L478.2 154.6ZM455.4 162.1L447.0 158.1L461.4 146.6L469.8 150.6ZM447.0 158.1L438.6 154.1L453.0 142.6L461.4 146.6ZM438.6 154.1L430.2 150.1L444.6 138.6L453.0 142.6ZM430.2 150.1L421.8 146.1L436.2 134.6L444.6 138.6ZM421.8 146.1L413.4 142.1L427.8 130.6L436.2 134.6ZM413.4 142.1L405.0 138.1L419.4 126.6L427.8 130.6ZM405.0 138.1L396.6 134.1L411.0 122.6L419.4 126.6ZM396.6 134.1L388.2 130.1L402.6 118.6L411.0 122.6Z"/>
<path fill="#f5e41d" stroke="#f5e41d" stroke-width="0.6" d="M738.4 278.7L730.0 274.7L744.4 263.0L752.8 267.0ZM730.0 274.7L721.6 270.7L736.0 259.0L744.4 263.0ZM721.6 270.7L713.2 266.7L727.6 255.0L736.0 259.0ZM713.2 266.7L704.8 262.7L719.2 251.0L727.6 255.0ZM704.8 262.7L696.4 258.7L710.8 247.0L719.2 251.0ZM696.4 258.7L688.0 254.7L702.4 243.0L710.8 247.0ZM688.0 254.7L679.6 250.7L694.0 239.0L702.4 243.0ZM679.6 250.7L671.2 246.7L685.6 235.0L694.0 239.0ZM671.2 246.7L662.8 242.7L677.2 231.0L685.6 235.0ZM662.8 242.7L654.5 238.6L668.8 227.0L677.2 231.0ZM654.5 238.6L646.1 234.6L660.4 223.0L668.8 227.0ZM646.1 234.6L637.7 230.6L652.0 219.0L660.4 223.0ZM637.7 230.6L629.3 226.6L643.6 215.0L652.0 219.0ZM629.3 226.6L620.9 222.6L635.2 211.0L643.6 215.0ZM620.9 222.6L612.5 218.6L626.8 207.0L635.2 211.0ZM612.5 218.6L604.1 214.6L618.4 203.0L626.8 207.0ZM604.1 214.6L595.7 210.6L610.0 199.0L618.4 203.0ZM595.7 210.6L587.3 206.6L601.6 195.0L610.0 199.0ZM587.3 206.6L578.9 202.6L593.2 191.0L601.6 195.0ZM578.9 202.6L570.5 198.6L584.9 187.0L593.2 191.0ZM570.5 198.6L562.1 194.6L576.5 183.0L584.9 187.0ZM562.1 194.6L553.7 190.6L568.1 179.0L576.5 183.0ZM553.7 190.6L545.3 186.6L559.7 174.9L568.1 179.0ZM545.3 186.6L536.9 182.6L551.3 170.9L559.7 174.9ZM536.9 182.6L528.5 178.6L542.9 166.9L551.3 170.9ZM528.5 178.6L520.1 174.6L534.5 162.9L542.9 166.9ZM520.1 174.6L511.7 170.6L526.1 158.9L534.5 162.9ZM511.7 170.6L503.3 166.6L517.7 154.9L526.1 158.9ZM503.3 166.6L494.9 162.6L509.3 150.9L517.7 154.9ZM494.9 162.6L486.6 158.6L500.9 146.9L509.3 150.9ZM486.6 158.6L478.2 154.6L492.5 142.9L500.9 146.9ZM478.2 154.6L469.8 150.6L484.1 138.9L492.5 142.9ZM469.8 150.6L461.4 146.6L475.7 134.9L484.1 138.9ZM461.4 146.6L453.0 142.6L467.3 130.9L475.7 134.9ZM453.0 142.6L444.6 138.6L458.9 126.9L467.3 130.9ZM444.6 138.6L436.2 134.6L450.5 122.9L458.9 126.9ZM436.2 134.6L427.8 130.6L442.1 118.9L450.5 122.9ZM427.8 130.6L419.4 126.6L433.7 114.9L442.1 118.9ZM419.4 126.6L411.0 122.6L425.3 110.9L433.7 114.9ZM411.0 122.6L402.6 118.6L416.9 106.9L425.3 110.9Z"/>
<path fill="#f5eb18" stroke="#f5eb18" stroke-width="0.6" d="M752.8 267.0L744.4 263.0L758.7 251.2L767.1 255.2ZM744.4 263.0L736.0 259.0L750.3 247.2L758.7 251.2ZM736.0 259.0L727.6 255.0L741.9 243.2L750.3 247.2ZM727.6 255.0L719.2 251.0L733.5 239.2L741.9 243.2ZM719.2 251.0L710.8 247.0L725.1 235.2L733.5 239.2ZM710.8 247.0L702.4 243.0L716.7 231.2L725.1 235.2ZM702.4 243.0L694.0 239.0L708.3 227.2L716.7 231.2ZM694.0 239.0L685.6 235.0L699.9 223.2L708.3 227.2ZM685.6 235.0L677.2 231.0L691.5 219.2L699.9 223.2ZM677.2 231.0L668.8 227.0L683.2 215.2L691.5 219.2ZM668.8 227.0L660.4 223.0L674.8 211.2L683.2 215.2ZM660.4 223.0L652.0 219.0L666.4 207.2L674.8 211.2ZM652.0 219.0L643.6 215.0L658.0 203.2L666.4 207.2ZM643.6 215.0L635.2 211.0L649.6 199.2L658.0 203.2ZM635.2 211.0L626.8 207.0L641.2 195.2L649.6 199.2ZM626.8 207.0L618.4 203.0L632.8 191.2L641.2 195.2ZM618.4 203.0L610.0 199.0L624.4 187.2L632.8 191.2ZM610.0 199.0L601.6 195.0L616.0 183.2L624.4 187.2ZM601.6 195.0L593.2 191.0L607.6 179.2L616.0 183.2ZM593.2 191.0L584.9 187.0L599.2 175.2L607.6 179.2ZM584.9 187.0L576.5 183.0L590.8 171.2L599.2 175.2ZM576.5 183.0L568.1 179.0L582.4 167.2L590.8 171.2ZM568.1 179.0L559.7 174.9L574.0 163.2L582.4 167.2ZM559.7 174.9L551.3 170.9L565.6 159.2L574.0 163.2ZM551.3 170.9L542.9 166.9L557.2 155.2L565.6 159.2ZM542.9 166.9L534.5 162.9L548.8 151.2L557.2 155.2ZM534.5 162.9L526.1 158.9L540.4 147.2L548.8 151.2ZM526.1 158.9L517.7 154.9L532.0 143.2L540.4 147.2ZM517.7 154.9L509.3 150.9L523.6 139.2L532.0 143.2ZM509.3 150.9L500.9 146.9L515.3 135.1L523.6 139.2ZM500.9 146.9L492.5 142.9L506.9 131.1L515.3 135.1ZM492.5 142.9L484.1 138.9L498.5 127.1L506.9 131.1ZM484.1 138.9L475.7 134.9L490.1 123.1L498.5 127.1ZM475.7 134.9L467.3 130.9L481.7 119.1L490.1 123.1ZM467.3 130.9L458.9 126.9L473.3 115.1L481.7 119.1ZM458.9 126.9L450.5 122.9L464.9 111.1L473.3 115.1ZM450.5 122.9L442.1 118.9L456.5 107.1L464.9 111.1ZM442.1 118.9L433.7 114.9L448.1 103.1L456.5 107.1ZM433.7 114.9L425.3 110.9L439.7 99.1L448.1 103.1ZM425.3 110.9L416.9 106.9L431.3 95.1L439.7 99.1Z"/>
<path fill="#f6f313" stroke="#f6f313" stroke-width="0.6" d="M767.1 255.2L758.7 251.2L773.1 239.3L781.5 243.3ZM781.5 243.3L773.1 239.3L787.4 227.3L795.8 231.3ZM758.7 251.2L750.3 247.2L764.7 235.3L773.1 239.3ZM773.1 239.3L764.7 235.3L779.0 223.3L787.4 227.3ZM750.3 247.2L741.9 243.2L756.3 231.3L764.7 235.3ZM764.7 235.3L756.3 231.3L770.6 219.3L779.0 223.3ZM741.9 243.2L733.5 239.2L747.9 227.3L756.3 231.3ZM756.3 231.3L747.9 227.3L762.2 215.3L770.6 219.3ZM733.5 239.2L725.1 235.2L739.5 223.3L747.9 227.3ZM747.9 227.3L739.5 223.3L753.8 211.3L762.2 215.3ZM725.1 235.2L716.7 231.2L731.1 219.3L739.5 223.3ZM739.5 223.3L731.1 219.3L745.4 207.3L753.8 211.3ZM716.7 231.2L708.3 227.2L722.7 215.3L731.1 219.3ZM731.1 219.3L722.7 215.3L737.0 203.3L745.4 207.3ZM708.3 227.2L699.9 223.2L714.3 211.3L722.7 215.3ZM722.7 215.3L714.3 211.3L728.6 199.3L737.0 203.3ZM699.9 223.2L691.5 219.2L705.9 207.3L714.3 211.3ZM714.3 211.3L705.9 207.3L720.2 195.3L728.6 199.3ZM691.5 219.2L683.2 215.2L697.5 203.3L705.9 207.3ZM705.9 207.3L697.5 203.3L711.8 191.3L720.2 195.3ZM683.2 215.2L674.8 211.2L689.1 199.3L697.5 203.3ZM697.5 203.3L689.1 199.3L703.5 187.3L711.8 191.3ZM674.8 211.2L666.4 207.2L680.7 195.3L689.1 199.3ZM689.1 199.3L680.7 195.3L695.1 183.3L703.5 187.3ZM666.4 207.2L658.0 203.2L672.3 191.3L680.7 195.3ZM680.7 195.3L672.3 191.3L686.7 179.3L695.1 183.3ZM658.0 203.2L649.6 199.2L663.9 187.3L672.3 191.3ZM672.3 191.3L663.9 187.3L678.3 175.3L686.7 179.3ZM649.6 199.2L641.2 195.2L655.5 183.3L663.9 187.3ZM663.9 187.3L655.5 183.3L669.9 171.3L678.3 175.3ZM641.2 195.2L632.8 191.2L647.1 179.3L655.5 183.3ZM655.5 183.3L647.1 179.3L661.5 167.3L669.9 171.3ZM632.8 191.2L624.4 187.2L638.7 175.3L647.1 179.3ZM647.1 179.3L638.7 175.3L653.1 163.3L661.5 167.3ZM624.4 187.2L616.0 183.2L630.3 171.3L638.7 175.3ZM638.7 175.3L630.3 171.3L644.7 159.3L653.1 163.3ZM616.0 183.2L607.6 179.2L621.9 167.3L630.3 171.3ZM630.3 171.3L621.9 167.3L636.3 155.3L644.7 159.3ZM607.6 179.2L599.2 175.2L613.6 163.3L621.9 167.3ZM621.9 167.3L613.6 163.3L627.9 151.3L636.3 155.3ZM599.2 175.2L590.8 171.2L605.2 159.3L613.6 163.3ZM613.6 163.3L605.2 159.3L619.5 147.3L627.9 151.3ZM590.8 171.2L582.4 167.2L596.8 155.3L605.2 159.3ZM605.2 159.3L596.8 155.3L611.1 143.3L619.5 147.3ZM582.4 167.2L574.0 163.2L588.4 151.3L596.8 155.3ZM596.8 155.3L588.4 151.3L602.7 139.3L611.1 143.3ZM574.0 163.2L565.6 159.2L580.0 147.3L588.4 151.3ZM588.4 151.3L580.0 147.3L594.3 135.2L602.7 139.3ZM565.6 159.2L557.2 155.2L571.6 143.3L580.0 147.3ZM580.0 147.3L571.6 143.3L585.9 131.2L594.3 135.2ZM557.2 155.2L548.8 151.2L563.2 139.3L571.6 143.3ZM571.6 143.3L563.2 139.3L577.5 127.2L585.9 131.2ZM548.8 151.2L540.4 147.2L554.8 135.3L563.2 139.3ZM563.2 139.3L554.8 135.3L569.1 123.2L577.5 127.2ZM540.4 147.2L532.0 143.2L546.4 131.3L554.8 135.3ZM554.8 135.3L546.4 131.3L560.7 119.2L569.1 123.2ZM532.0 143.2L523.6 139.2L538.0 127.3L546.4 131.3ZM546.4 131.3L538.0 127.3L552.3 115.2L560.7 119.2ZM523.6 139.2L515.3 135.1L529.6 123.2L538.0 127.3ZM538.0 127.3L529.6 123.2L543.9 111.2L552.3 115.2ZM515.3 135.1L506.9 131.1L521.2 119.2L529.6 123.2ZM529.6 123.2L521.2 119.2L535.6 107.2L543.9 111.2ZM506.9 131.1L498.5 127.1L512.8 115.2L521.2 119.2ZM521.2 119.2L512.8 115.2L527.2 103.2L535.6 107.2ZM498.5 127.1L490.1 123.1L504.4 111.2L512.8 115.2ZM512.8 115.2L504.4 111.2L518.8 99.2L527.2 103.2ZM490.1 123.1L481.7 119.1L496.0 107.2L504.4 111.2ZM504.4 111.2L496.0 107.2L510.4 95.2L518.8 99.2ZM481.7 119.1L473.3 115.1L487.6 103.2L496.0 107.2ZM496.0 107.2L487.6 103.2L502.0 91.2L510.4 95.2ZM473.3 115.1L464.9 111.1L479.2 99.2L487.6 103.2ZM487.6 103.2L479.2 99.2L493.6 87.2L502.0 91.2ZM464.9 111.1L456.5 107.1L470.8 95.2L479.2 99.2ZM479.2 99.2L470.8 95.2L485.2 83.2L493.6 87.2ZM456.5 107.1L448.1 103.1L462.4 91.2L470.8 95.2ZM470.8 95.2L462.4 91.2L476.8 79.2L485.2 83.2ZM448.1 103.1L439.7 99.1L454.0 87.2L462.4 91.2ZM462.4 91.2L454.0 87.2L468.4 75.2L476.8 79.2ZM439.7 99.1L431.3 95.1L445.7 83.2L454.0 87.2ZM454.0 87.2L445.7 83.2L460.0 71.2L468.4 75.2Z"/>
</g>
<path fill="none" stroke="#000" stroke-width="0.80" shape-rendering="crispEdges" d="M451.4 487.6L465.8 478.3L480.1 468.8L494.4 459.2L508.8 449.5L523.1 439.7L537.5 429.8L551.9 419.8L566.2 409.6L580.5 399.3L594.9 388.9L609.2 378.4L623.6 367.8L638.0 357.1L652.3 346.2L666.6 335.3L681.0 324.2L695.4 313.0L709.7 301.7L724.0 290.2L738.4 278.7L752.8 267.0L767.1 255.2L781.5 243.3L795.8 231.3M443.0 483.6L457.4 474.3L471.7 464.8L486.1 455.2L500.4 445.5L514.8 435.7L529.1 425.8L543.5 415.8L557.8 405.6L572.2 395.3L586.5 384.9L600.9 374.4L615.2 363.8L629.6 353.1L643.9 342.2L658.3 331.3L672.6 320.2L687.0 309.0L701.3 297.7L715.7 286.2L730.0 274.7L744.4 263.0L758.7 251.2L773.1 239.3L787.4 227.3M434.6 479.6L449.0 470.2L463.3 460.8L477.7 451.2L492.0 441.5L506.4 431.7L520.7 421.8L535.1 411.8L549.4 401.6L563.8 391.3L578.1 380.9L592.5 370.4L606.8 359.8L621.2 349.1L635.5 338.2L649.9 327.3L664.2 316.2L678.6 305.0L692.9 293.7L707.3 282.2L721.6 270.7L736.0 259.0L750.3 247.2L764.7 235.3L779.0 223.3M426.2 475.6L440.6 466.2L454.9 456.8L469.3 447.2L483.6 437.5L498.0 427.7L512.3 417.8L526.7 407.8L541.0 397.6L555.4 387.3L569.7 376.9L584.1 366.4L598.4 355.8L612.8 345.1L627.1 334.2L641.5 323.3L655.8 312.2L670.2 301.0L684.5 289.7L698.9 278.2L713.2 266.7L727.6 255.0L741.9 243.2L756.3 231.3L770.6 219.3M417.8 471.6L432.2 462.2L446.5 452.8L460.9 443.2L475.2 433.5L489.6 423.7L503.9 413.8L518.3 403.8L532.6 393.6L547.0 383.3L561.3 372.9L575.7 362.4L590.0 351.8L604.4 341.1L618.7 330.2L633.1 319.3L647.4 308.2L661.8 297.0L676.1 285.7L690.5 274.2L704.8 262.7L719.2 251.0L733.5 239.2L747.9 227.3L762.2 215.3M409.4 467.6L423.8 458.2L438.1 448.8L452.5 439.2L466.8 429.5L481.2 419.7L495.5 409.8L509.9 399.8L524.2 389.6L538.6 379.3L552.9 368.9L567.3 358.4L581.6 347.8L596.0 337.1L610.3 326.2L624.7 315.3L639.0 304.2L653.4 293.0L667.7 281.6L682.1 270.2L696.4 258.7L710.8 247.0L725.1 235.2L739.5 223.3L753.8 211.3M401.0 463.6L415.4 454.2L429.7 444.8L444.1 435.2L458.4 425.5L472.8 415.7L487.1 405.8L501.5 395.7L515.8 385.6L530.2 375.3L544.5 364.9L558.9 354.4L573.2 343.8L587.6 333.1L601.9 322.2L616.3 311.3L630.6 300.2L645.0 289.0L659.3 277.6L673.7 266.2L688.0 254.7L702.4 243.0L716.7 231.2L731.1 219.3L745.4 207.3M392.6 459.6L407.0 450.2L421.3 440.8L435.7 431.2L450.0 421.5L464.4 411.7L478.7 401.8L493.1 391.7L507.4 381.6L521.8 371.3L536.1 360.9L550.5 350.4L564.8 339.8L579.2 329.1L593.5 318.2L607.9 307.2L622.2 296.2L636.6 285.0L650.9 273.6L665.3 262.2L679.6 250.7L694.0 239.0L708.3 227.2L722.7 215.3L737.0 203.3M384.2 455.6L398.6 446.2L412.9 436.8L427.3 427.2L441.6 417.5L456.0 407.7L470.3 397.8L484.7 387.7L499.0 377.6L513.4 367.3L527.7 356.9L542.1 346.4L556.4 335.8L570.8 325.1L585.1 314.2L599.5 303.2L613.8 292.2L628.2 281.0L642.5 269.6L656.9 258.2L671.2 246.7L685.6 235.0L699.9 223.2L714.3 211.3L728.6 199.3M375.8 451.6L390.2 442.2L404.5 432.8L418.9 423.2L433.2 413.5L447.6 403.7L461.9 393.8L476.3 383.7L490.6 373.6L505.0 363.3L519.3 352.9L533.7 342.4L548.0 331.8L562.4 321.1L576.7 310.2L591.1 299.2L605.4 288.2L619.8 277.0L634.1 265.6L648.5 254.2L662.8 242.7L677.2 231.0L691.5 219.2L705.9 207.3L720.2 195.3M367.4 447.6L381.8 438.2L396.1 428.8L410.5 419.2L424.9 409.5L439.2 399.7L453.6 389.8L467.9 379.7L482.3 369.6L496.6 359.3L510.9 348.9L525.3 338.4L539.6 327.8L554.0 317.1L568.3 306.2L582.7 295.2L597.0 284.2L611.4 273.0L625.8 261.6L640.1 250.2L654.5 238.6L668.8 227.0L683.2 215.2L697.5 203.3L711.8 191.3M359.1 443.6L373.4 434.2L387.8 424.8L402.1 415.2L416.5 405.5L430.8 395.7L445.2 385.8L459.5 375.7L473.9 365.6L488.2 355.3L502.6 344.9L516.9 334.4L531.3 323.8L545.6 313.1L560.0 302.2L574.3 291.2L588.7 280.2L603.0 269.0L617.4 257.6L631.7 246.2L646.1 234.6L660.4 223.0L674.8 211.2L689.1 199.3L703.5 187.3M350.7 439.6L365.0 430.2L379.4 420.8L393.7 411.2L408.1 401.5L422.4 391.7L436.8 381.8L451.1 371.7L465.5 361.6L479.8 351.3L494.2 340.9L508.5 330.4L522.9 319.8L537.2 309.1L551.6 298.2L565.9 287.2L580.3 276.2L594.6 264.9L609.0 253.6L623.3 242.2L637.7 230.6L652.0 219.0L666.4 207.2L680.7 195.3L695.1 183.3M342.3 435.6L356.6 426.2L371.0 416.8L385.3 407.2L399.7 397.5L414.0 387.7L428.4 377.8L442.7 367.7L457.1 357.6L471.4 347.3L485.8 336.9L500.1 326.4L514.5 315.8L528.8 305.1L543.2 294.2L557.5 283.2L571.9 272.1L586.2 260.9L600.6 249.6L614.9 238.2L629.3 226.6L643.6 215.0L658.0 203.2L672.3 191.3L686.7 179.3M333.9 431.6L348.2 422.2L362.6 412.8L376.9 403.2L391.3 393.5L405.6 383.7L420.0 373.8L434.3 363.7L448.7 353.6L463.0 343.3L477.4 332.9L491.7 322.4L506.1 311.8L520.4 301.1L534.8 290.2L549.1 279.2L563.5 268.1L577.8 256.9L592.2 245.6L606.5 234.2L620.9 222.6L635.2 211.0L649.6 199.2L663.9 187.3L678.3 175.3M325.5 427.6L339.8 418.2L354.2 408.8L368.5 399.2L382.9 389.5L397.2 379.7L411.6 369.8L425.9 359.7L440.3 349.6L454.6 339.3L469.0 328.9L483.3 318.4L497.7 307.8L512.0 297.1L526.4 286.2L540.7 275.2L555.1 264.1L569.4 252.9L583.8 241.6L598.1 230.2L612.5 218.6L626.8 207.0L641.2 195.2L655.5 183.3L669.9 171.3M317.1 423.6L331.4 414.2L345.8 404.8L360.1 395.2L374.5 385.5L388.8 375.7L403.2 365.8L417.5 355.7L431.9 345.6L446.2 335.3L460.6 324.9L474.9 314.4L489.3 303.8L503.6 293.0L518.0 282.2L532.3 271.2L546.7 260.1L561.0 248.9L575.4 237.6L589.7 226.2L604.1 214.6L618.4 203.0L632.8 191.2L647.1 179.3L661.5 167.3M308.7 419.6L323.0 410.2L337.4 400.8L351.7 391.2L366.1 381.5L380.4 371.7L394.8 361.8L409.1 351.7L423.5 341.6L437.8 331.3L452.2 320.9L466.5 310.4L480.9 299.8L495.2 289.0L509.6 278.2L523.9 267.2L538.3 256.1L552.6 244.9L567.0 233.6L581.3 222.2L595.7 210.6L610.0 199.0L624.4 187.2L638.7 175.3L653.1 163.3M300.3 415.5L314.6 406.2L329.0 396.8L343.3 387.2L357.7 377.5L372.0 367.7L386.4 357.8L400.7 347.7L415.1 337.6L429.4 327.3L443.8 316.9L458.1 306.4L472.5 295.8L486.8 285.0L501.2 274.2L515.5 263.2L529.9 252.1L544.2 240.9L558.6 229.6L572.9 218.2L587.3 206.6L601.6 195.0L616.0 183.2L630.3 171.3L644.7 159.3M291.9 411.5L306.2 402.2L320.6 392.7L334.9 383.2L349.3 373.5L363.6 363.7L378.0 353.8L392.3 343.7L406.7 333.6L421.0 323.3L435.4 312.9L449.7 302.4L464.1 291.8L478.4 281.0L492.8 270.2L507.1 259.2L521.5 248.1L535.8 236.9L550.2 225.6L564.5 214.2L578.9 202.6L593.2 191.0L607.6 179.2L621.9 167.3L636.3 155.3M283.5 407.5L297.9 398.2L312.2 388.7L326.5 379.2L340.9 369.5L355.2 359.7L369.6 349.8L384.0 339.7L398.3 329.6L412.6 319.3L427.0 308.9L441.4 298.4L455.7 287.8L470.1 277.0L484.4 266.2L498.8 255.2L513.1 244.1L527.5 232.9L541.8 221.6L556.1 210.2L570.5 198.6L584.9 187.0L599.2 175.2L613.6 163.3L627.9 151.3M275.1 403.5L289.5 394.2L303.8 384.7L318.2 375.2L332.5 365.5L346.9 355.7L361.2 345.8L375.6 335.7L389.9 325.6L404.3 315.3L418.6 304.9L433.0 294.4L447.3 283.8L461.7 273.0L476.0 262.2L490.4 251.2L504.7 240.1L519.1 228.9L533.4 217.6L547.8 206.2L562.1 194.6L576.5 183.0L590.8 171.2L605.2 159.3L619.5 147.3M266.7 399.5L281.1 390.2L295.4 380.7L309.8 371.2L324.1 361.5L338.5 351.7L352.8 341.7L367.2 331.7L381.5 321.6L395.9 311.3L410.2 300.9L424.6 290.4L438.9 279.8L453.3 269.0L467.6 258.2L482.0 247.2L496.3 236.1L510.7 224.9L525.0 213.6L539.4 202.2L553.7 190.6L568.1 179.0L582.4 167.2L596.8 155.3L611.1 143.3M258.3 395.5L272.7 386.2L287.0 376.7L301.4 367.2L315.7 357.5L330.1 347.7L344.4 337.7L358.8 327.7L373.1 317.6L387.5 307.3L401.8 296.9L416.2 286.4L430.5 275.8L444.9 265.0L459.2 254.2L473.6 243.2L487.9 232.1L502.3 220.9L516.6 209.6L531.0 198.2L545.3 186.6L559.7 174.9L574.0 163.2L588.4 151.3L602.7 139.3M249.9 391.5L264.3 382.2L278.6 372.7L293.0 363.2L307.3 353.5L321.7 343.7L336.0 333.7L350.4 323.7L364.7 313.5L379.1 303.3L393.4 292.9L407.8 282.4L422.1 271.8L436.5 261.0L450.8 250.2L465.2 239.2L479.5 228.1L493.9 216.9L508.2 205.6L522.6 194.2L536.9 182.6L551.3 170.9L565.6 159.2L580.0 147.3L594.3 135.2M241.5 387.5L255.9 378.2L270.2 368.7L284.6 359.2L298.9 349.5L313.3 339.7L327.6 329.7L342.0 319.7L356.3 309.5L370.7 299.3L385.0 288.9L399.4 278.4L413.7 267.8L428.1 257.0L442.4 246.2L456.8 235.2L471.1 224.1L485.5 212.9L499.8 201.6L514.2 190.2L528.5 178.6L542.9 166.9L557.2 155.2L571.6 143.3L585.9 131.2M233.1 383.5L247.5 374.2L261.8 364.7L276.2 355.2L290.5 345.5L304.9 335.7L319.2 325.7L333.6 315.7L347.9 305.5L362.3 295.3L376.6 284.9L391.0 274.4L405.3 263.8L419.7 253.0L434.0 242.2L448.4 231.2L462.7 220.1L477.1 208.9L491.4 197.6L505.8 186.2L520.1 174.6L534.5 162.9L548.8 151.2L563.2 139.3L577.5 127.2M224.7 379.5L239.1 370.2L253.4 360.7L267.8 351.2L282.1 341.5L296.5 331.7L310.8 321.7L325.2 311.7L339.5 301.5L353.9 291.3L368.2 280.9L382.6 270.4L396.9 259.8L411.3 249.0L425.6 238.2L440.0 227.2L454.3 216.1L468.7 204.9L483.0 193.6L497.4 182.2L511.7 170.6L526.1 158.9L540.4 147.2L554.8 135.3L569.1 123.2M216.3 375.5L230.7 366.2L245.0 356.7L259.4 347.2L273.7 337.5L288.1 327.7L302.4 317.7L316.8 307.7L331.1 297.5L345.5 287.3L359.8 276.9L374.2 266.4L388.5 255.8L402.9 245.0L417.2 234.2L431.6 223.2L445.9 212.1L460.3 200.9L474.6 189.6L489.0 178.2L503.3 166.6L517.7 154.9L532.0 143.2L546.4 131.3L560.7 119.2M207.9 371.5L222.3 362.2L236.6 352.7L251.0 343.1L265.3 333.5L279.7 323.7L294.0 313.7L308.4 303.7L322.7 293.5L337.1 283.3L351.4 272.9L365.8 262.4L380.1 251.8L394.5 241.0L408.8 230.2L423.2 219.2L437.5 208.1L451.9 196.9L466.2 185.6L480.6 174.2L494.9 162.6L509.3 150.9L523.6 139.2L538.0 127.3L552.3 115.2M199.5 367.5L213.9 358.2L228.2 348.7L242.6 339.1L256.9 329.5L271.3 319.7L285.6 309.7L300.0 299.7L314.4 289.5L328.7 279.3L343.0 268.9L357.4 258.4L371.7 247.8L386.1 237.0L400.4 226.2L414.8 215.2L429.1 204.1L443.5 192.9L457.9 181.6L472.2 170.2L486.6 158.6L500.9 146.9L515.3 135.1L529.6 123.2L543.9 111.2M191.2 363.5L205.5 354.2L219.9 344.7L234.2 335.1L248.6 325.5L262.9 315.6L277.3 305.7L291.6 295.7L306.0 285.5L320.3 275.3L334.7 264.9L349.0 254.4L363.4 243.7L377.7 233.0L392.1 222.2L406.4 211.2L420.8 200.1L435.1 188.9L449.5 177.6L463.8 166.1L478.2 154.6L492.5 142.9L506.9 131.1L521.2 119.2L535.6 107.2M182.8 359.5L197.1 350.2L211.5 340.7L225.8 331.1L240.2 321.5L254.5 311.6L268.9 301.7L283.2 291.7L297.6 281.5L311.9 271.3L326.3 260.9L340.6 250.4L355.0 239.7L369.3 229.0L383.7 218.2L398.0 207.2L412.4 196.1L426.7 184.9L441.1 173.6L455.4 162.1L469.8 150.6L484.1 138.9L498.5 127.1L512.8 115.2L527.2 103.2M174.4 355.5L188.7 346.2L203.1 336.7L217.4 327.1L231.8 317.4L246.1 307.6L260.5 297.7L274.8 287.7L289.2 277.5L303.5 267.3L317.9 256.9L332.2 246.4L346.6 235.7L360.9 225.0L375.3 214.2L389.6 203.2L404.0 192.1L418.3 180.9L432.7 169.6L447.0 158.1L461.4 146.6L475.7 134.9L490.1 123.1L504.4 111.2L518.8 99.2M166.0 351.5L180.3 342.2L194.7 332.7L209.0 323.1L223.4 313.4L237.7 303.6L252.1 293.7L266.4 283.7L280.8 273.5L295.1 263.3L309.5 252.9L323.8 242.4L338.2 231.7L352.5 221.0L366.9 210.2L381.2 199.2L395.6 188.1L409.9 176.9L424.3 165.6L438.6 154.1L453.0 142.6L467.3 130.9L481.7 119.1L496.0 107.2L510.4 95.2M157.6 347.5L171.9 338.2L186.3 328.7L200.6 319.1L215.0 309.4L229.3 299.6L243.7 289.7L258.0 279.7L272.4 269.5L286.7 259.2L301.1 248.9L315.4 238.4L329.8 227.7L344.1 217.0L358.5 206.1L372.8 195.2L387.2 184.1L401.5 172.9L415.9 161.6L430.2 150.1L444.6 138.6L458.9 126.9L473.3 115.1L487.6 103.2L502.0 91.2M149.2 343.5L163.5 334.2L177.9 324.7L192.2 315.1L206.6 305.4L220.9 295.6L235.3 285.7L249.6 275.7L264.0 265.5L278.3 255.2L292.7 244.9L307.0 234.4L321.4 223.7L335.7 213.0L350.1 202.1L364.4 191.2L378.8 180.1L393.1 168.9L407.5 157.6L421.8 146.1L436.2 134.6L450.5 122.9L464.9 111.1L479.2 99.2L493.6 87.2M140.8 339.5L155.1 330.2L169.5 320.7L183.8 311.1L198.2 301.4L212.5 291.6L226.9 281.7L241.2 271.7L255.6 261.5L269.9 251.2L284.3 240.9L298.6 230.4L313.0 219.7L327.3 209.0L341.7 198.1L356.0 187.2L370.4 176.1L384.7 164.9L399.1 153.6L413.4 142.1L427.8 130.6L442.1 118.9L456.5 107.1L470.8 95.2L485.2 83.2M132.4 335.5L146.7 326.2L161.1 316.7L175.4 307.1L189.8 297.4L204.1 287.6L218.5 277.7L232.8 267.7L247.2 257.5L261.5 247.2L275.9 236.9L290.2 226.4L304.6 215.7L318.9 205.0L333.3 194.1L347.6 183.2L362.0 172.1L376.3 160.9L390.7 149.6L405.0 138.1L419.4 126.6L433.7 114.9L448.1 103.1L462.4 91.2L476.8 79.2M124.0 331.5L138.3 322.2L152.7 312.7L167.0 303.1L181.4 293.4L195.7 283.6L210.1 273.7L224.4 263.7L238.8 253.5L253.1 243.2L267.5 232.9L281.8 222.3L296.2 211.7L310.5 201.0L324.9 190.1L339.2 179.2L353.6 168.1L367.9 156.9L382.3 145.6L396.6 134.1L411.0 122.6L425.3 110.9L439.7 99.1L454.0 87.2L468.4 75.2M115.6 327.5L129.9 318.2L144.3 308.7L158.6 299.1L173.0 289.4L187.3 279.6L201.7 269.7L216.1 259.7L230.4 249.5L244.7 239.2L259.1 228.8L273.4 218.3L287.8 207.7L302.2 197.0L316.5 186.1L330.8 175.2L345.2 164.1L359.6 152.9L373.9 141.6L388.2 130.1L402.6 118.6L416.9 106.9L431.3 95.1L445.7 83.2L460.0 71.2M451.4 487.6L443.0 483.6L434.6 479.6L426.2 475.6L417.8 471.6L409.4 467.6L401.0 463.6L392.6 459.6L384.2 455.6L375.8 451.6L367.4 447.6L359.1 443.6L350.7 439.6L342.3 435.6L333.9 431.6L325.5 427.6L317.1 423.6L308.7 419.6L300.3 415.5L291.9 411.5L283.5 407.5L275.1 403.5L266.7 399.5L258.3 395.5L249.9 391.5L241.5 387.5L233.1 383.5L224.7 379.5L216.3 375.5L207.9 371.5L199.5 367.5L191.2 363.5L182.8 359.5L174.4 355.5L166.0 351.5L157.6 347.5L149.2 343.5L140.8 339.5L132.4 335.5L124.0 331.5L115.6 327.5M465.8 478.3L457.4 474.3L449.0 470.2L440.6 466.2L432.2 462.2L423.8 458.2L415.4 454.2L407.0 450.2L398.6 446.2L390.2 442.2L381.8 438.2L373.4 434.2L365.0 430.2L356.6 426.2L348.2 422.2L339.8 418.2L331.4 414.2L323.0 410.2L314.6 406.2L306.2 402.2L297.9 398.2L289.5 394.2L281.1 390.2L272.7 386.2L264.3 382.2L255.9 378.2L247.5 374.2L239.1 370.2L230.7 366.2L222.3 362.2L213.9 358.2L205.5 354.2L197.1 350.2L188.7 346.2L180.3 342.2L171.9 338.2L163.5 334.2L155.1 330.2L146.7 326.2L138.3 322.2L129.9 318.2M480.1 468.8L471.7 464.8L463.3 460.8L454.9 456.8L446.5 452.8L438.1 448.8L429.7 444.8L421.3 440.8L412.9 436.8L404.5 432.8L396.1 428.8L387.8 424.8L379.4 420.8L371.0 416.8L362.6 412.8L354.2 408.8L345.8 404.8L337.4 400.8L329.0 396.8L320.6 392.7L312.2 388.7L303.8 384.7L295.4 380.7L287.0 376.7L278.6 372.7L270.2 368.7L261.8 364.7L253.4 360.7L245.0 356.7L236.6 352.7L228.2 348.7L219.9 344.7L211.5 340.7L203.1 336.7L194.7 332.7L186.3 328.7L177.9 324.7L169.5 320.7L161.1 316.7L152.7 312.7L144.3 308.7M494.4 459.2L486.1 455.2L477.7 451.2L469.3 447.2L460.9 443.2L452.5 439.2L444.1 435.2L435.7 431.2L427.3 427.2L418.9 423.2L410.5 419.2L402.1 415.2L393.7 411.2L385.3 407.2L376.9 403.2L368.5 399.2L360.1 395.2L351.7 391.2L343.3 387.2L334.9 383.2L326.5 379.2L318.2 375.2L309.8 371.2L301.4 367.2L293.0 363.2L284.6 359.2L276.2 355.2L267.8 351.2L259.4 347.2L251.0 343.1L242.6 339.1L234.2 335.1L225.8 331.1L217.4 327.1L209.0 323.1L200.6 319.1L192.2 315.1L183.8 311.1L175.4 307.1L167.0 303.1L158.6 299.1M508.8 449.5L500.4 445.5L492.0 441.5L483.6 437.5L475.2 433.5L466.8 429.5L458.4 425.5L450.0 421.5L441.6 417.5L433.2 413.5L424.9 409.5L416.5 405.5L408.1 401.5L399.7 397.5L391.3 393.5L382.9 389.5L374.5 385.5L366.1 381.5L357.7 377.5L349.3 373.5L340.9 369.5L332.5 365.5L324.1 361.5L315.7 357.5L307.3 353.5L298.9 349.5L290.5 345.5L282.1 341.5L273.7 337.5L265.3 333.5L256.9 329.5L248.6 325.5L240.2 321.5L231.8 317.4L223.4 313.4L215.0 309.4L206.6 305.4L198.2 301.4L189.8 297.4L181.4 293.4L173.0 289.4M523.1 439.7L514.8 435.7L506.4 431.7L498.0 427.7L489.6 423.7L481.2 419.7L472.8 415.7L464.4 411.7L456.0 407.7L447.6 403.7L439.2 399.7L430.8 395.7L422.4 391.7L414.0 387.7L405.6 383.7L397.2 379.7L388.8 375.7L380.4 371.7L372.0 367.7L363.6 363.7L355.2 359.7L346.9 355.7L338.5 351.7L330.1 347.7L321.7 343.7L313.3 339.7L304.9 335.7L296.5 331.7L288.1 327.7L279.7 323.7L271.3 319.7L262.9 315.6L254.5 311.6L246.1 307.6L237.7 303.6L229.3 299.6L220.9 295.6L212.5 291.6L204.1 287.6L195.7 283.6L187.3 279.6M537.5 429.8L529.1 425.8L520.7 421.8L512.3 417.8L503.9 413.8L495.5 409.8L487.1 405.8L478.7 401.8L470.3 397.8L461.9 393.8L453.6 389.8L445.2 385.8L436.8 381.8L428.4 377.8L420.0 373.8L411.6 369.8L403.2 365.8L394.8 361.8L386.4 357.8L378.0 353.8L369.6 349.8L361.2 345.8L352.8 341.7L344.4 337.7L336.0 333.7L327.6 329.7L319.2 325.7L310.8 321.7L302.4 317.7L294.0 313.7L285.6 309.7L277.3 305.7L268.9 301.7L260.5 297.7L252.1 293.7L243.7 289.7L235.3 285.7L226.9 281.7L218.5 277.7L210.1 273.7L201.7 269.7M551.9 419.8L543.5 415.8L535.1 411.8L526.7 407.8L518.3 403.8L509.9 399.8L501.5 395.7L493.1 391.7L484.7 387.7L476.3 383.7L467.9 379.7L459.5 375.7L451.1 371.7L442.7 367.7L434.3 363.7L425.9 359.7L417.5 355.7L409.1 351.7L400.7 347.7L392.3 343.7L384.0 339.7L375.6 335.7L367.2 331.7L358.8 327.7L350.4 323.7L342.0 319.7L333.6 315.7L325.2 311.7L316.8 307.7L308.4 303.7L300.0 299.7L291.6 295.7L283.2 291.7L274.8 287.7L266.4 283.7L258.0 279.7L249.6 275.7L241.2 271.7L232.8 267.7L224.4 263.7L216.1 259.7M566.2 409.6L557.8 405.6L549.4 401.6L541.0 397.6L532.6 393.6L524.2 389.6L515.8 385.6L507.4 381.6L499.0 377.6L490.6 373.6L482.3 369.6L473.9 365.6L465.5 361.6L457.1 357.6L448.7 353.6L440.3 349.6L431.9 345.6L423.5 341.6L415.1 337.6L406.7 333.6L398.3 329.6L389.9 325.6L381.5 321.6L373.1 317.6L364.7 313.5L356.3 309.5L347.9 305.5L339.5 301.5L331.1 297.5L322.7 293.5L314.4 289.5L306.0 285.5L297.6 281.5L289.2 277.5L280.8 273.5L272.4 269.5L264.0 265.5L255.6 261.5L247.2 257.5L238.8 253.5L230.4 249.5M580.5 399.3L572.2 395.3L563.8 391.3L555.4 387.3L547.0 383.3L538.6 379.3L530.2 375.3L521.8 371.3L513.4 367.3L505.0 363.3L496.6 359.3L488.2 355.3L479.8 351.3L471.4 347.3L463.0 343.3L454.6 339.3L446.2 335.3L437.8 331.3L429.4 327.3L421.0 323.3L412.6 319.3L404.3 315.3L395.9 311.3L387.5 307.3L379.1 303.3L370.7 299.3L362.3 295.3L353.9 291.3L345.5 287.3L337.1 283.3L328.7 279.3L320.3 275.3L311.9 271.3L303.5 267.3L295.1 263.3L286.7 259.2L278.3 255.2L269.9 251.2L261.5 247.2L253.1 243.2L244.7 239.2M594.9 388.9L586.5 384.9L578.1 380.9L569.7 376.9L561.3 372.9L552.9 368.9L544.5 364.9L536.1 360.9L527.7 356.9L519.3 352.9L510.9 348.9L502.6 344.9L494.2 340.9L485.8 336.9L477.4 332.9L469.0 328.9L460.6 324.9L452.2 320.9L443.8 316.9L435.4 312.9L427.0 308.9L418.6 304.9L410.2 300.9L401.8 296.9L393.4 292.9L385.0 288.9L376.6 284.9L368.2 280.9L359.8 276.9L351.4 272.9L343.0 268.9L334.7 264.9L326.3 260.9L317.9 256.9L309.5 252.9L301.1 248.9L292.7 244.9L284.3 240.9L275.9 236.9L267.5 232.9L259.1 228.8M609.2 378.4L600.9 374.4L592.5 370.4L584.1 366.4L575.7 362.4L567.3 358.4L558.9 354.4L550.5 350.4L542.1 346.4L533.7 342.4L525.3 338.4L516.9 334.4L508.5 330.4L500.1 326.4L491.7 322.4L483.3 318.4L474.9 314.4L466.5 310.4L458.1 306.4L449.7 302.4L441.4 298.4L433.0 294.4L424.6 290.4L416.2 286.4L407.8 282.4L399.4 278.4L391.0 274.4L382.6 270.4L374.2 266.4L365.8 262.4L357.4 258.4L349.0 254.4L340.6 250.4L332.2 246.4L323.8 242.4L315.4 238.4L307.0 234.4L298.6 230.4L290.2 226.4L281.8 222.3L273.4 218.3M623.6 367.8L615.2 363.8L606.8 359.8L598.4 355.8L590.0 351.8L581.6 347.8L573.2 343.8L564.8 339.8L556.4 335.8L548.0 331.8L539.6 327.8L531.3 323.8L522.9 319.8L514.5 315.8L506.1 311.8L497.7 307.8L489.3 303.8L480.9 299.8L472.5 295.8L464.1 291.8L455.7 287.8L447.3 283.8L438.9 279.8L430.5 275.8L422.1 271.8L413.7 267.8L405.3 263.8L396.9 259.8L388.5 255.8L380.1 251.8L371.7 247.8L363.4 243.7L355.0 239.7L346.6 235.7L338.2 231.7L329.8 227.7L321.4 223.7L313.0 219.7L304.6 215.7L296.2 211.7L287.8 207.7M638.0 357.1L629.6 353.1L621.2 349.1L612.8 345.1L604.4 341.1L596.0 337.1L587.6 333.1L579.2 329.1L570.8 325.1L562.4 321.1L554.0 317.1L545.6 313.1L537.2 309.1L528.8 305.1L520.4 301.1L512.0 297.1L503.6 293.0L495.2 289.0L486.8 285.0L478.4 281.0L470.1 277.0L461.7 273.0L453.3 269.0L444.9 265.0L436.5 261.0L428.1 257.0L419.7 253.0L411.3 249.0L402.9 245.0L394.5 241.0L386.1 237.0L377.7 233.0L369.3 229.0L360.9 225.0L352.5 221.0L344.1 217.0L335.7 213.0L327.3 209.0L318.9 205.0L310.5 201.0L302.2 197.0M652.3 346.2L643.9 342.2L635.5 338.2L627.1 334.2L618.7 330.2L610.3 326.2L601.9 322.2L593.5 318.2L585.1 314.2L576.7 310.2L568.3 306.2L560.0 302.2L551.6 298.2L543.2 294.2L534.8 290.2L526.4 286.2L518.0 282.2L509.6 278.2L501.2 274.2L492.8 270.2L484.4 266.2L476.0 262.2L467.6 258.2L459.2 254.2L450.8 250.2L442.4 246.2L434.0 242.2L425.6 238.2L417.2 234.2L408.8 230.2L400.4 226.2L392.1 222.2L383.7 218.2L375.3 214.2L366.9 210.2L358.5 206.1L350.1 202.1L341.7 198.1L333.3 194.1L324.9 190.1L316.5 186.1M666.6 335.3L658.3 331.3L649.9 327.3L641.5 323.3L633.1 319.3L624.7 315.3L616.3 311.3L607.9 307.2L599.5 303.2L591.1 299.2L582.7 295.2L574.3 291.2L565.9 287.2L557.5 283.2L549.1 279.2L540.7 275.2L532.3 271.2L523.9 267.2L515.5 263.2L507.1 259.2L498.8 255.2L490.4 251.2L482.0 247.2L473.6 243.2L465.2 239.2L456.8 235.2L448.4 231.2L440.0 227.2L431.6 223.2L423.2 219.2L414.8 215.2L406.4 211.2L398.0 207.2L389.6 203.2L381.2 199.2L372.8 195.2L364.4 191.2L356.0 187.2L347.6 183.2L339.2 179.2L330.8 175.2M681.0 324.2L672.6 320.2L664.2 316.2L655.8 312.2L647.4 308.2L639.0 304.2L630.6 300.2L622.2 296.2L613.8 292.2L605.4 288.2L597.0 284.2L588.7 280.2L580.3 276.2L571.9 272.1L563.5 268.1L555.1 264.1L546.7 260.1L538.3 256.1L529.9 252.1L521.5 248.1L513.1 244.1L504.7 240.1L496.3 236.1L487.9 232.1L479.5 228.1L471.1 224.1L462.7 220.1L454.3 216.1L445.9 212.1L437.5 208.1L429.1 204.1L420.8 200.1L412.4 196.1L404.0 192.1L395.6 188.1L387.2 184.1L378.8 180.1L370.4 176.1L362.0 172.1L353.6 168.1L345.2 164.1M695.4 313.0L687.0 309.0L678.6 305.0L670.2 301.0L661.8 297.0L653.4 293.0L645.0 289.0L636.6 285.0L628.2 281.0L619.8 277.0L611.4 273.0L603.0 269.0L594.6 264.9L586.2 260.9L577.8 256.9L569.4 252.9L561.0 248.9L552.6 244.9L544.2 240.9L535.8 236.9L527.5 232.9L519.1 228.9L510.7 224.9L502.3 220.9L493.9 216.9L485.5 212.9L477.1 208.9L468.7 204.9L460.3 200.9L451.9 196.9L443.5 192.9L435.1 188.9L426.7 184.9L418.3 180.9L409.9 176.9L401.5 172.9L393.1 168.9L384.7 164.9L376.3 160.9L367.9 156.9L359.6 152.9M709.7 301.7L701.3 297.7L692.9 293.7L684.5 289.7L676.1 285.7L667.7 281.6L659.3 277.6L650.9 273.6L642.5 269.6L634.1 265.6L625.8 261.6L617.4 257.6L609.0 253.6L600.6 249.6L592.2 245.6L583.8 241.6L575.4 237.6L567.0 233.6L558.6 229.6L550.2 225.6L541.8 221.6L533.4 217.6L525.0 213.6L516.6 209.6L508.2 205.6L499.8 201.6L491.4 197.6L483.0 193.6L474.6 189.6L466.2 185.6L457.9 181.6L449.5 177.6L441.1 173.6L432.7 169.6L424.3 165.6L415.9 161.6L407.5 157.6L399.1 153.6L390.7 149.6L382.3 145.6L373.9 141.6M724.0 290.2L715.7 286.2L707.3 282.2L698.9 278.2L690.5 274.2L682.1 270.2L673.7 266.2L665.3 262.2L656.9 258.2L648.5 254.2L640.1 250.2L631.7 246.2L623.3 242.2L614.9 238.2L606.5 234.2L598.1 230.2L589.7 226.2L581.3 222.2L572.9 218.2L564.5 214.2L556.1 210.2L547.8 206.2L539.4 202.2L531.0 198.2L522.6 194.2L514.2 190.2L505.8 186.2L497.4 182.2L489.0 178.2L480.6 174.2L472.2 170.2L463.8 166.1L455.4 162.1L447.0 158.1L438.6 154.1L430.2 150.1L421.8 146.1L413.4 142.1L405.0 138.1L396.6 134.1L388.2 130.1M738.4 278.7L730.0 274.7L721.6 270.7L713.2 266.7L704.8 262.7L696.4 258.7L688.0 254.7L679.6 250.7L671.2 246.7L662.8 242.7L654.5 238.6L646.1 234.6L637.7 230.6L629.3 226.6L620.9 222.6L612.5 218.6L604.1 214.6L595.7 210.6L587.3 206.6L578.9 202.6L570.5 198.6L562.1 194.6L553.7 190.6L545.3 186.6L536.9 182.6L528.5 178.6L520.1 174.6L511.7 170.6L503.3 166.6L494.9 162.6L486.6 158.6L478.2 154.6L469.8 150.6L461.4 146.6L453.0 142.6L444.6 138.6L436.2 134.6L427.8 130.6L419.4 126.6L411.0 122.6L402.6 118.6M752.8 267.0L744.4 263.0L736.0 259.0L727.6 255.0L719.2 251.0L710.8 247.0L702.4 243.0L694.0 239.0L685.6 235.0L677.2 231.0L668.8 227.0L660.4 223.0L652.0 219.0L643.6 215.0L635.2 211.0L626.8 207.0L618.4 203.0L610.0 199.0L601.6 195.0L593.2 191.0L584.9 187.0L576.5 183.0L568.1 179.0L559.7 174.9L551.3 170.9L542.9 166.9L534.5 162.9L526.1 158.9L517.7 154.9L509.3 150.9L500.9 146.9L492.5 142.9L484.1 138.9L475.7 134.9L467.3 130.9L458.9 126.9L450.5 122.9L442.1 118.9L433.7 114.9L425.3 110.9L416.9 106.9M767.1 255.2L758.7 251.2L750.3 247.2L741.9 243.2L733.5 239.2L725.1 235.2L716.7 231.2L708.3 227.2L699.9 223.2L691.5 219.2L683.2 215.2L674.8 211.2L666.4 207.2L658.0 203.2L649.6 199.2L641.2 195.2L632.8 191.2L624.4 187.2L616.0 183.2L607.6 179.2L599.2 175.2L590.8 171.2L582.4 167.2L574.0 163.2L565.6 159.2L557.2 155.2L548.8 151.2L540.4 147.2L532.0 143.2L523.6 139.2L515.3 135.1L506.9 131.1L498.5 127.1L490.1 123.1L481.7 119.1L473.3 115.1L464.9 111.1L456.5 107.1L448.1 103.1L439.7 99.1L431.3 95.1M781.5 243.3L773.1 239.3L764.7 235.3L756.3 231.3L747.9 227.3L739.5 223.3L731.1 219.3L722.7 215.3L714.3 211.3L705.9 207.3L697.5 203.3L689.1 199.3L680.7 195.3L672.3 191.3L663.9 187.3L655.5 183.3L647.1 179.3L638.7 175.3L630.3 171.3L621.9 167.3L613.6 163.3L605.2 159.3L596.8 155.3L588.4 151.3L580.0 147.3L571.6 143.3L563.2 139.3L554.8 135.3L546.4 131.3L538.0 127.3L529.6 123.2L521.2 119.2L512.8 115.2L504.4 111.2L496.0 107.2L487.6 103.2L479.2 99.2L470.8 95.2L462.4 91.2L454.0 87.2L445.7 83.2M795.8 231.3L787.4 227.3L779.0 223.3L770.6 219.3L762.2 215.3L753.8 211.3L745.4 207.3L737.0 203.3L728.6 199.3L720.2 195.3L711.8 191.3L703.5 187.3L695.1 183.3L686.7 179.3L678.3 175.3L669.9 171.3L661.5 167.3L653.1 163.3L644.7 159.3L636.3 155.3L627.9 151.3L619.5 147.3L611.1 143.3L602.7 139.3L594.3 135.2L585.9 131.2L577.5 127.2L569.1 123.2L560.7 119.2L552.3 115.2L543.9 111.2L535.6 107.2L527.2 103.2L518.8 99.2L510.4 95.2L502.0 91.2L493.6 87.2L485.2 83.2L476.8 79.2L468.4 75.2L460.0 71.2"/>
<line x1="115.6" y1="658.3" x2="115.6" y2="166.0" stroke="#262626" stroke-width="1.00" shape-rendering="crispEdges"/>
<line x1="115.6" y1="658.3" x2="451.4" y2="818.4" stroke="#262626" stroke-width="1.00" shape-rendering="crispEdges"/>
<line x1="451.4" y1="818.4" x2="795.8" y2="662.1" stroke="#262626" stroke-width="1.00" shape-rendering="crispEdges"/>
<line x1="115.6" y1="658.3" x2="104.6" y2="653.0" stroke="#262626" stroke-width="1.00" shape-rendering="crispEdges"/>
<line x1="115.6" y1="535.2" x2="104.6" y2="530.0" stroke="#262626" stroke-width="1.00" shape-rendering="crispEdges"/>
<line x1="115.6" y1="412.1" x2="104.6" y2="406.9" stroke="#262626" stroke-width="1.00" shape-rendering="crispEdges"/>
<line x1="115.6" y1="289.1" x2="104.6" y2="283.8" stroke="#262626" stroke-width="1.00" shape-rendering="crispEdges"/>
<line x1="115.6" y1="166.0" x2="104.6" y2="160.7" stroke="#262626" stroke-width="1.00" shape-rendering="crispEdges"/>
<line x1="451.4" y1="818.4" x2="440.3" y2="823.4" stroke="#262626" stroke-width="1.00" shape-rendering="crispEdges"/>
<line x1="283.5" y1="738.4" x2="272.4" y2="743.4" stroke="#262626" stroke-width="1.00" shape-rendering="crispEdges"/>
<line x1="115.6" y1="658.3" x2="104.5" y2="663.3" stroke="#262626" stroke-width="1.00" shape-rendering="crispEdges"/>
<line x1="451.4" y1="818.4" x2="462.4" y2="823.7" stroke="#262626" stroke-width="1.00" shape-rendering="crispEdges"/>
<line x1="566.2" y1="766.3" x2="577.2" y2="771.6" stroke="#262626" stroke-width="1.00" shape-rendering="crispEdges"/>
<line x1="681.0" y1="714.2" x2="692.0" y2="719.5" stroke="#262626" stroke-width="1.00" shape-rendering="crispEdges"/>
<line x1="795.8" y1="662.1" x2="806.8" y2="667.4" stroke="#262626" stroke-width="1.00" shape-rendering="crispEdges"/>
<g font-family="Liberation Serif, Times New Roman, serif" fill="#1c1c1c"><text x="42.1" y="662.5" font-size="35.6">100</text>
<text x="42.1" y="539.1" font-size="35.6">150</text>
<text x="42.1" y="415.8" font-size="35.6">200</text>
<text x="42.1" y="292.4" font-size="35.6">250</text>
<text x="42.1" y="169.1" font-size="35.6">300</text>
<text x="412.8" y="860.1" font-size="35.6">0</text>
<text x="218.2" y="780.1" font-size="35.6">0.5</text>
<text x="75.1" y="699.8" font-size="35.6">1</text>
<text x="471.3" y="861.1" font-size="35.6">0.2</text>
<text x="586.1" y="809.0" font-size="35.6">0.4</text>
<text x="700.9" y="756.9" font-size="35.6">0.6</text>
<text x="815.7" y="704.8" font-size="35.6">0.8</text>
<text x="250.2" y="868.5" font-size="39.0" font-style="italic">λ</text>
<text x="645.2" y="869.2" font-size="38.0" font-style="italic">k</text>
<text transform="translate(28.3 529.6) rotate(-90)" font-size="39.4">Social welfare</text></g>
<rect x="880.5" y="808.36" width="29.5" height="13.24" fill="#352a87"/>
<rect x="880.5" y="795.72" width="29.5" height="13.24" fill="#363093"/>
<rect x="880.5" y="783.09" width="29.5" height="13.24" fill="#3637a0"/>
<rect x="880.5" y="770.45" width="29.5" height="13.24" fill="#353dad"/>
<rect x="880.5" y="757.81" width="29.5" height="13.24" fill="#3243ba"/>
<rect x="880.5" y="745.17" width="29.5" height="13.24" fill="#2c4ac7"/>
<rect x="880.5" y="732.54" width="29.5" height="13.24" fill="#2053d4"/>
<rect x="880.5" y="719.90" width="29.5" height="13.24" fill="#0f5cdd"/>
<rect x="880.5" y="707.26" width="29.5" height="13.24" fill="#0363e1"/>
<rect x="880.5" y="694.62" width="29.5" height="13.24" fill="#0268e1"/>
<rect x="880.5" y="681.99" width="29.5" height="13.24" fill="#046de0"/>
<rect x="880.5" y="669.35" width="29.5" height="13.24" fill="#0871de"/>
<rect x="880.5" y="656.71" width="29.5" height="13.24" fill="#0d75dc"/>
<rect x="880.5" y="644.07" width="29.5" height="13.24" fill="#1079da"/>
<rect x="880.5" y="631.44" width="29.5" height="13.24" fill="#127dd8"/>
<rect x="880.5" y="618.80" width="29.5" height="13.24" fill="#1481d6"/>
<rect x="880.5" y="606.16" width="29.5" height="13.24" fill="#1485d4"/>
<rect x="880.5" y="593.52" width="29.5" height="13.24" fill="#1389d3"/>
<rect x="880.5" y="580.89" width="29.5" height="13.24" fill="#108ed2"/>
<rect x="880.5" y="568.25" width="29.5" height="13.24" fill="#0c93d2"/>
<rect x="880.5" y="555.61" width="29.5" height="13.24" fill="#0998d1"/>
<rect x="880.5" y="542.97" width="29.5" height="13.24" fill="#079ccf"/>
<rect x="880.5" y="530.34" width="29.5" height="13.24" fill="#06a0cd"/>
<rect x="880.5" y="517.70" width="29.5" height="13.24" fill="#06a4ca"/>
<rect x="880.5" y="505.06" width="29.5" height="13.24" fill="#06a7c6"/>
<rect x="880.5" y="492.42" width="29.5" height="13.24" fill="#07a9c2"/>
<rect x="880.5" y="479.79" width="29.5" height="13.24" fill="#0aacbe"/>
<rect x="880.5" y="467.15" width="29.5" height="13.24" fill="#0faeb9"/>
<rect x="880.5" y="454.51" width="29.5" height="13.24" fill="#15b1b4"/>
<rect x="880.5" y="441.88" width="29.5" height="13.24" fill="#1db3af"/>
<rect x="880.5" y="429.24" width="29.5" height="13.24" fill="#25b5a9"/>
<rect x="880.5" y="416.60" width="29.5" height="13.24" fill="#2eb7a4"/>
<rect x="880.5" y="403.96" width="29.5" height="13.24" fill="#38b99e"/>
<rect x="880.5" y="391.32" width="29.5" height="13.24" fill="#42bb98"/>
<rect x="880.5" y="378.69" width="29.5" height="13.24" fill="#4dbc92"/>
<rect x="880.5" y="366.05" width="29.5" height="13.24" fill="#59bd8c"/>
<rect x="880.5" y="353.41" width="29.5" height="13.24" fill="#65be86"/>
<rect x="880.5" y="340.77" width="29.5" height="13.24" fill="#71bf80"/>
<rect x="880.5" y="328.14" width="29.5" height="13.24" fill="#7cbf7b"/>
<rect x="880.5" y="315.50" width="29.5" height="13.24" fill="#87bf77"/>
<rect x="880.5" y="302.86" width="29.5" height="13.24" fill="#92bf73"/>
<rect x="880.5" y="290.23" width="29.5" height="13.24" fill="#9cbf6f"/>
<rect x="880.5" y="277.59" width="29.5" height="13.24" fill="#a5be6b"/>
<rect x="880.5" y="264.95" width="29.5" height="13.24" fill="#aebe67"/>
<rect x="880.5" y="252.31" width="29.5" height="13.24" fill="#b7bd64"/>
<rect x="880.5" y="239.67" width="29.5" height="13.24" fill="#c0bc60"/>
<rect x="880.5" y="227.04" width="29.5" height="13.24" fill="#c8bc5d"/>
<rect x="880.5" y="214.40" width="29.5" height="13.24" fill="#d1bb59"/>
<rect x="880.5" y="201.76" width="29.5" height="13.24" fill="#d9ba56"/>
<rect x="880.5" y="189.12" width="29.5" height="13.24" fill="#e1b952"/>
<rect x="880.5" y="176.49" width="29.5" height="13.24" fill="#e9b94e"/>
<rect x="880.5" y="163.85" width="29.5" height="13.24" fill="#f1b94a"/>
<rect x="880.5" y="151.21" width="29.5" height="13.24" fill="#f8bb44"/>
<rect x="880.5" y="138.58" width="29.5" height="13.24" fill="#fdbe3d"/>
<rect x="880.5" y="125.94" width="29.5" height="13.24" fill="#ffc337"/>
<rect x="880.5" y="113.30" width="29.5" height="13.24" fill="#fec832"/>
<rect x="880.5" y="100.66" width="29.5" height="13.24" fill="#fcce2e"/>
<rect x="880.5" y="88.02" width="29.5" height="13.24" fill="#fad32a"/>
<rect x="880.5" y="75.39" width="29.5" height="13.24" fill="#f7d826"/>
<rect x="880.5" y="62.75" width="29.5" height="13.24" fill="#f5de21"/>
<rect x="880.5" y="50.11" width="29.5" height="13.24" fill="#f5e41d"/>
<rect x="880.5" y="37.48" width="29.5" height="13.24" fill="#f5eb18"/>
<rect x="880.5" y="24.84" width="29.5" height="13.24" fill="#f6f313"/>
<rect x="880.5" y="12.20" width="29.5" height="12.64" fill="#f9fb0e"/>
<path d="M910.5 12.5L880.5 12.5M880.5 12.5L880.5 821.3L910.5 821.3" fill="none" stroke="#262626" stroke-width="1"/>
<line x1="910.5" y1="12.5" x2="910.5" y2="821.3" stroke="#c8c2c8" stroke-width="1.00" shape-rendering="crispEdges"/>
<line x1="901.4" y1="740.3" x2="910.0" y2="740.3" stroke="#262626" stroke-width="1.00" shape-rendering="crispEdges"/>
<line x1="901.4" y1="632.7" x2="910.0" y2="632.7" stroke="#262626" stroke-width="1.00" shape-rendering="crispEdges"/>
<line x1="901.4" y1="525.0" x2="910.0" y2="525.0" stroke="#262626" stroke-width="1.00" shape-rendering="crispEdges"/>
<line x1="901.4" y1="417.3" x2="910.0" y2="417.3" stroke="#262626" stroke-width="1.00" shape-rendering="crispEdges"/>
<line x1="901.4" y1="309.7" x2="910.0" y2="309.7" stroke="#262626" stroke-width="1.00" shape-rendering="crispEdges"/>
<line x1="901.4" y1="202.0" x2="910.0" y2="202.0" stroke="#262626" stroke-width="1.00" shape-rendering="crispEdges"/>
<line x1="901.4" y1="94.3" x2="910.0" y2="94.3" stroke="#262626" stroke-width="1.00" shape-rendering="crispEdges"/>
<g font-family="Liberation Serif, Times New Roman, serif" fill="#1c1c1c"><text x="919.2" y="751.6" font-size="32.5">140</text>
<text x="919.2" y="644.0" font-size="32.5">160</text>
<text x="919.2" y="536.3" font-size="32.5">180</text>
<text x="918.5" y="428.6" font-size="32.5">200</text>
<text x="918.5" y="321.0" font-size="32.5">220</text>
<text x="918.5" y="213.3" font-size="32.5">240</text>
<text x="918.5" y="105.6" font-size="32.5">260</text></g>
<rect x="697.7" y="2.4" width="129.1" height="136" fill="#fff"/>
<path d="M697.5 2.5H826.5M697.5 138.5H826.5" stroke="#474747" stroke-width="1" shape-rendering="crispEdges"/>
<path d="M697.5 2.5V138.5" stroke="#a6a6a6" stroke-width="1" shape-rendering="crispEdges"/>
<path d="M826.5 2.5V138.5" stroke="#8a8a8a" stroke-width="1" shape-rendering="crispEdges"/>
<rect x="702.1" y="9.2" width="33.8" height="34.2" fill="#352a87" stroke="#262626" stroke-width="0.8"/>
<rect x="702.1" y="53.4" width="33.8" height="34.2" fill="#2cb39e" stroke="#262626" stroke-width="0.8"/>
<rect x="702.1" y="97.4" width="33.8" height="34.2" fill="#fdc02f" stroke="#262626" stroke-width="0.8"/>
<g font-family="Liberation Serif, Times New Roman, serif" fill="#000"><text x="746.1" y="42.2" font-size="33.5" font-style="italic">SW<tspan dx="-3" dy="-15.4" font-size="23.5">I</tspan></text>
<text x="746.1" y="86.4" font-size="33.5" font-style="italic">SW<tspan dx="-3" dy="-15.4" font-size="23.5">MF</tspan></text>
<text x="746.1" y="130.4" font-size="33.5" font-style="italic">SW<tspan dx="-3" dy="-15.4" font-size="23.5">RF</tspan></text></g>
</svg>
</body></html>
